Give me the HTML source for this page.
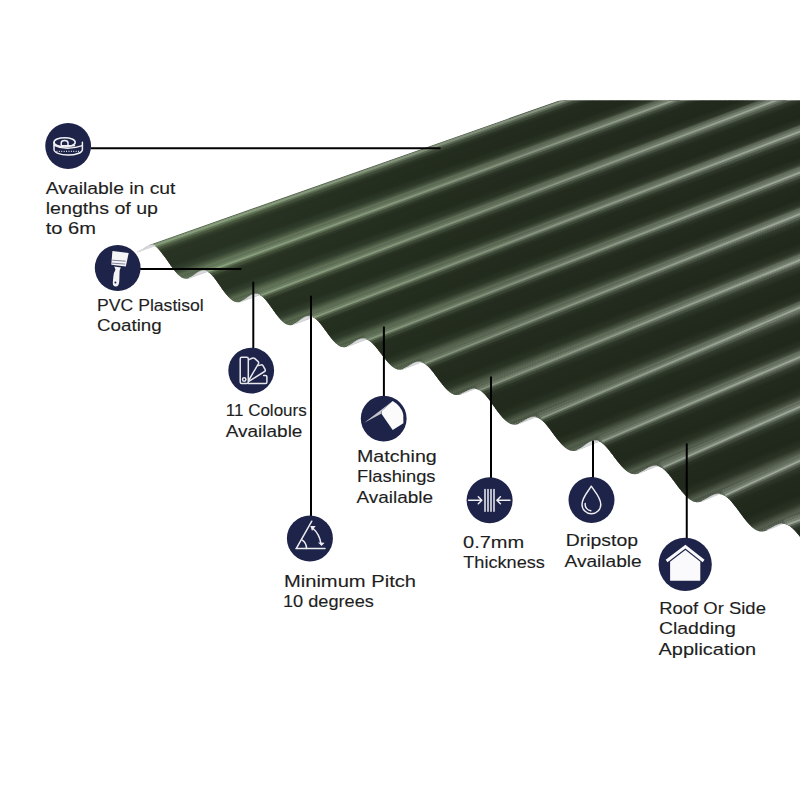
<!DOCTYPE html>
<html><head><meta charset="utf-8"><style>
html,body{margin:0;padding:0;background:#fff;}
svg{display:block;}
</style></head><body>
<svg width="800" height="800" viewBox="0 0 800 800">
<defs><clipPath id="sc"><rect x="0" y="100.5" width="800" height="700"/></clipPath></defs>
<rect width="800" height="800" fill="#fff"/>
<g clip-path="url(#sc)">
<defs><radialGradient id="g0" gradientUnits="userSpaceOnUse" cx="150" cy="250" r="720"><stop offset="0.1" stop-color="#5b6e51"/><stop offset="0.5" stop-color="#53604c"/><stop offset="0.9" stop-color="#596355"/></radialGradient><radialGradient id="g1" gradientUnits="userSpaceOnUse" cx="150" cy="250" r="720"><stop offset="0.1" stop-color="#57694d"/><stop offset="0.5" stop-color="#4e5b48"/><stop offset="0.9" stop-color="#545e50"/></radialGradient><radialGradient id="g2" gradientUnits="userSpaceOnUse" cx="150" cy="250" r="720"><stop offset="0.1" stop-color="#536549"/><stop offset="0.5" stop-color="#4a5644"/><stop offset="0.9" stop-color="#50594c"/></radialGradient><radialGradient id="g3" gradientUnits="userSpaceOnUse" cx="150" cy="250" r="720"><stop offset="0.1" stop-color="#4e6044"/><stop offset="0.5" stop-color="#455140"/><stop offset="0.9" stop-color="#4b5447"/></radialGradient><radialGradient id="g4" gradientUnits="userSpaceOnUse" cx="150" cy="250" r="720"><stop offset="0.1" stop-color="#495a40"/><stop offset="0.5" stop-color="#404c3b"/><stop offset="0.9" stop-color="#454e41"/></radialGradient><radialGradient id="g5" gradientUnits="userSpaceOnUse" cx="150" cy="250" r="720"><stop offset="0.1" stop-color="#44543b"/><stop offset="0.5" stop-color="#3b4636"/><stop offset="0.9" stop-color="#3f483b"/></radialGradient><radialGradient id="g6" gradientUnits="userSpaceOnUse" cx="150" cy="250" r="720"><stop offset="0.1" stop-color="#3f4e36"/><stop offset="0.5" stop-color="#354030"/><stop offset="0.9" stop-color="#394235"/></radialGradient><radialGradient id="g7" gradientUnits="userSpaceOnUse" cx="150" cy="250" r="720"><stop offset="0.1" stop-color="#3a4731"/><stop offset="0.5" stop-color="#303a2b"/><stop offset="0.9" stop-color="#333c2f"/></radialGradient><radialGradient id="g8" gradientUnits="userSpaceOnUse" cx="150" cy="250" r="720"><stop offset="0.1" stop-color="#37442e"/><stop offset="0.5" stop-color="#2d3728"/><stop offset="0.9" stop-color="#30392c"/></radialGradient><radialGradient id="g9" gradientUnits="userSpaceOnUse" cx="150" cy="250" r="720"><stop offset="0.1" stop-color="#34412c"/><stop offset="0.5" stop-color="#2b3526"/><stop offset="0.9" stop-color="#2d3629"/></radialGradient><radialGradient id="g10" gradientUnits="userSpaceOnUse" cx="150" cy="250" r="720"><stop offset="0.1" stop-color="#313d2a"/><stop offset="0.5" stop-color="#293324"/><stop offset="0.9" stop-color="#2a3326"/></radialGradient><radialGradient id="g11" gradientUnits="userSpaceOnUse" cx="150" cy="250" r="720"><stop offset="0.1" stop-color="#2f3a28"/><stop offset="0.5" stop-color="#273022"/><stop offset="0.9" stop-color="#283124"/></radialGradient><radialGradient id="g12" gradientUnits="userSpaceOnUse" cx="150" cy="250" r="720"><stop offset="0.1" stop-color="#2c3726"/><stop offset="0.5" stop-color="#252e20"/><stop offset="0.9" stop-color="#252e21"/></radialGradient><radialGradient id="g13" gradientUnits="userSpaceOnUse" cx="150" cy="250" r="720"><stop offset="0.1" stop-color="#293424"/><stop offset="0.5" stop-color="#232c1e"/><stop offset="0.9" stop-color="#222b1e"/></radialGradient><radialGradient id="g14" gradientUnits="userSpaceOnUse" cx="150" cy="250" r="720"><stop offset="0.1" stop-color="#283323"/><stop offset="0.5" stop-color="#222b1d"/><stop offset="0.9" stop-color="#212a1d"/></radialGradient><radialGradient id="g15" gradientUnits="userSpaceOnUse" cx="150" cy="250" r="720"><stop offset="0.1" stop-color="#283323"/><stop offset="0.5" stop-color="#222b1d"/><stop offset="0.9" stop-color="#212a1d"/></radialGradient><radialGradient id="g16" gradientUnits="userSpaceOnUse" cx="150" cy="250" r="720"><stop offset="0.1" stop-color="#283323"/><stop offset="0.5" stop-color="#222b1d"/><stop offset="0.9" stop-color="#212a1d"/></radialGradient><radialGradient id="g17" gradientUnits="userSpaceOnUse" cx="150" cy="250" r="720"><stop offset="0.1" stop-color="#283323"/><stop offset="0.5" stop-color="#222b1d"/><stop offset="0.9" stop-color="#212a1d"/></radialGradient><radialGradient id="g18" gradientUnits="userSpaceOnUse" cx="150" cy="250" r="720"><stop offset="0.1" stop-color="#283323"/><stop offset="0.5" stop-color="#222b1d"/><stop offset="0.9" stop-color="#21291d"/></radialGradient><radialGradient id="g19" gradientUnits="userSpaceOnUse" cx="150" cy="250" r="720"><stop offset="0.1" stop-color="#283323"/><stop offset="0.5" stop-color="#222b1d"/><stop offset="0.9" stop-color="#21291d"/></radialGradient><radialGradient id="g20" gradientUnits="userSpaceOnUse" cx="150" cy="250" r="720"><stop offset="0.1" stop-color="#283323"/><stop offset="0.5" stop-color="#222b1d"/><stop offset="0.9" stop-color="#21291d"/></radialGradient><radialGradient id="g21" gradientUnits="userSpaceOnUse" cx="150" cy="250" r="720"><stop offset="0.1" stop-color="#283323"/><stop offset="0.5" stop-color="#222b1d"/><stop offset="0.9" stop-color="#21291d"/></radialGradient><radialGradient id="g22" gradientUnits="userSpaceOnUse" cx="150" cy="250" r="720"><stop offset="0.1" stop-color="#273222"/><stop offset="0.5" stop-color="#212a1c"/><stop offset="0.9" stop-color="#20291c"/></radialGradient><radialGradient id="g23" gradientUnits="userSpaceOnUse" cx="150" cy="250" r="720"><stop offset="0.1" stop-color="#273222"/><stop offset="0.5" stop-color="#212a1c"/><stop offset="0.9" stop-color="#20291c"/></radialGradient><radialGradient id="g24" gradientUnits="userSpaceOnUse" cx="150" cy="250" r="720"><stop offset="0.1" stop-color="#273222"/><stop offset="0.5" stop-color="#212a1c"/><stop offset="0.9" stop-color="#20291c"/></radialGradient><radialGradient id="g25" gradientUnits="userSpaceOnUse" cx="150" cy="250" r="720"><stop offset="0.1" stop-color="#273222"/><stop offset="0.5" stop-color="#212a1c"/><stop offset="0.9" stop-color="#20291c"/></radialGradient><radialGradient id="g26" gradientUnits="userSpaceOnUse" cx="150" cy="250" r="720"><stop offset="0.1" stop-color="#273222"/><stop offset="0.5" stop-color="#212a1c"/><stop offset="0.9" stop-color="#20281c"/></radialGradient><radialGradient id="g27" gradientUnits="userSpaceOnUse" cx="150" cy="250" r="720"><stop offset="0.1" stop-color="#273222"/><stop offset="0.5" stop-color="#212a1c"/><stop offset="0.9" stop-color="#20281c"/></radialGradient><radialGradient id="g28" gradientUnits="userSpaceOnUse" cx="150" cy="250" r="720"><stop offset="0.1" stop-color="#273222"/><stop offset="0.5" stop-color="#212a1c"/><stop offset="0.9" stop-color="#20281c"/></radialGradient><radialGradient id="g29" gradientUnits="userSpaceOnUse" cx="150" cy="250" r="720"><stop offset="0.1" stop-color="#273222"/><stop offset="0.5" stop-color="#212a1c"/><stop offset="0.9" stop-color="#20281c"/></radialGradient><radialGradient id="g30" gradientUnits="userSpaceOnUse" cx="150" cy="250" r="720"><stop offset="0.1" stop-color="#273222"/><stop offset="0.5" stop-color="#212a1c"/><stop offset="0.9" stop-color="#20281c"/></radialGradient><radialGradient id="g31" gradientUnits="userSpaceOnUse" cx="150" cy="250" r="720"><stop offset="0.1" stop-color="#293524"/><stop offset="0.5" stop-color="#232c1d"/><stop offset="0.9" stop-color="#222a1e"/></radialGradient><radialGradient id="g32" gradientUnits="userSpaceOnUse" cx="150" cy="250" r="720"><stop offset="0.1" stop-color="#2b3726"/><stop offset="0.5" stop-color="#242d1f"/><stop offset="0.9" stop-color="#232b1f"/></radialGradient><radialGradient id="g33" gradientUnits="userSpaceOnUse" cx="150" cy="250" r="720"><stop offset="0.1" stop-color="#2c3928"/><stop offset="0.5" stop-color="#252f20"/><stop offset="0.9" stop-color="#252d20"/></radialGradient><radialGradient id="g34" gradientUnits="userSpaceOnUse" cx="150" cy="250" r="720"><stop offset="0.1" stop-color="#2e3b2a"/><stop offset="0.5" stop-color="#273021"/><stop offset="0.9" stop-color="#262e22"/></radialGradient><radialGradient id="g35" gradientUnits="userSpaceOnUse" cx="150" cy="250" r="720"><stop offset="0.1" stop-color="#303d2c"/><stop offset="0.5" stop-color="#283222"/><stop offset="0.9" stop-color="#283023"/></radialGradient><radialGradient id="g36" gradientUnits="userSpaceOnUse" cx="150" cy="250" r="720"><stop offset="0.1" stop-color="#323f2d"/><stop offset="0.5" stop-color="#293323"/><stop offset="0.9" stop-color="#293124"/></radialGradient><radialGradient id="g37" gradientUnits="userSpaceOnUse" cx="150" cy="250" r="720"><stop offset="0.1" stop-color="#33412f"/><stop offset="0.5" stop-color="#2a3424"/><stop offset="0.9" stop-color="#2a3225"/></radialGradient><radialGradient id="g38" gradientUnits="userSpaceOnUse" cx="150" cy="250" r="720"><stop offset="0.1" stop-color="#374633"/><stop offset="0.5" stop-color="#2e3828"/><stop offset="0.9" stop-color="#2f3729"/></radialGradient><radialGradient id="g39" gradientUnits="userSpaceOnUse" cx="150" cy="250" r="720"><stop offset="0.1" stop-color="#3d4c38"/><stop offset="0.5" stop-color="#343f2e"/><stop offset="0.9" stop-color="#353d30"/></radialGradient><radialGradient id="g40" gradientUnits="userSpaceOnUse" cx="150" cy="250" r="720"><stop offset="0.1" stop-color="#43533d"/><stop offset="0.5" stop-color="#3a4533"/><stop offset="0.9" stop-color="#3b4436"/></radialGradient><radialGradient id="g41" gradientUnits="userSpaceOnUse" cx="150" cy="250" r="720"><stop offset="0.1" stop-color="#495941"/><stop offset="0.5" stop-color="#404b39"/><stop offset="0.9" stop-color="#424b3c"/></radialGradient><radialGradient id="g42" gradientUnits="userSpaceOnUse" cx="150" cy="250" r="720"><stop offset="0.1" stop-color="#4f6046"/><stop offset="0.5" stop-color="#45513e"/><stop offset="0.9" stop-color="#485242"/></radialGradient><radialGradient id="g43" gradientUnits="userSpaceOnUse" cx="150" cy="250" r="720"><stop offset="0.1" stop-color="#55664b"/><stop offset="0.5" stop-color="#4b5844"/><stop offset="0.9" stop-color="#4f5849"/></radialGradient><radialGradient id="g44" gradientUnits="userSpaceOnUse" cx="150" cy="250" r="720"><stop offset="0.1" stop-color="#5b6d50"/><stop offset="0.5" stop-color="#515e49"/><stop offset="0.9" stop-color="#555f4f"/></radialGradient><radialGradient id="g45" gradientUnits="userSpaceOnUse" cx="150" cy="250" r="720"><stop offset="0.1" stop-color="#57684e"/><stop offset="0.5" stop-color="#4e5a46"/><stop offset="0.9" stop-color="#525b4c"/></radialGradient><radialGradient id="g46" gradientUnits="userSpaceOnUse" cx="150" cy="250" r="720"><stop offset="0.1" stop-color="#516249"/><stop offset="0.5" stop-color="#495542"/><stop offset="0.9" stop-color="#4d5548"/></radialGradient><radialGradient id="g47" gradientUnits="userSpaceOnUse" cx="150" cy="250" r="720"><stop offset="0.1" stop-color="#52634a"/><stop offset="0.5" stop-color="#4a5643"/><stop offset="0.9" stop-color="#4f574a"/></radialGradient><radialGradient id="g48" gradientUnits="userSpaceOnUse" cx="150" cy="250" r="720"><stop offset="0.1" stop-color="#5b6e51"/><stop offset="0.5" stop-color="#53604c"/><stop offset="0.9" stop-color="#596355"/></radialGradient><clipPath id="shc2"><path d="M137.4 251.9 137.8 251.8 138.3 251.7 138.7 251.5 139.2 251.4 139.6 251.2 140.1 251.0 140.5 250.7 141.0 250.5 141.4 250.2 141.9 250.0 142.3 249.7 142.7 249.4 143.2 249.1 143.6 248.8 144.1 248.5 144.5 248.2 145.0 247.9 145.4 247.6 145.9 247.3 146.4 247.0 146.8 246.7 147.3 246.4 147.7 246.2 148.2 246.0 148.7 245.8 149.2 245.6 149.6 245.4 150.1 245.2 150.6 245.1 151.1 245.0 151.6 245.0 152.0 245.0 152.5 245.0 153.0 245.1 153.5 245.3 154.0 245.5 154.5 245.7 155.0 246.0 155.5 246.3 156.0 246.7 156.5 247.1 157.0 247.6 157.5 248.1 158.0 248.6 158.5 249.2 159.0 249.7 159.5 250.3 160.0 251.0 160.6 251.6 161.1 252.2 161.6 252.9 162.1 253.6 162.6 254.2 163.2 254.9 163.7 255.6 164.2 256.3 164.7 257.0 165.3 257.7 165.8 258.4 166.4 259.2 166.9 260.0 167.4 260.7 168.0 261.5 168.5 262.3 169.1 263.1 169.6 263.9 170.2 264.7 170.7 265.4 171.3 266.2 171.9 267.0 172.4 267.7 173.0 268.5 173.5 269.2 174.1 269.9 174.6 270.7 175.2 271.3 175.7 272.0 176.3 272.6 176.8 273.2 177.4 273.8 177.9 274.4 178.5 274.9 179.0 275.4 179.5 275.9 180.1 276.3 180.6 276.7 181.1 277.1 181.6 277.4 182.1 277.7 182.6 277.9 183.1 278.2 183.7 278.4 184.1 278.5 184.6 278.6 185.1 278.7 185.6 278.8 186.1 278.8 186.6 278.8 187.0 278.8 187.5 278.7 188.0 278.6 188.4 278.4 188.9 278.3 189.4 278.1 189.8 277.9 190.3 277.7 190.7 277.4 191.2 277.2 191.7 276.9 192.1 276.6 192.6 276.3 193.0 275.9 193.5 275.6 194.0 275.3 194.4 274.9 194.9 274.6 195.3 274.2 195.8 273.9 196.3 273.6 196.8 273.2 197.2 272.9 197.7 272.6 198.2 272.3 198.7 272.0 199.1 271.8 199.6 271.6 200.1 271.3 200.6 271.1 201.1 271.0 201.6 270.8 202.1 270.7 202.6 270.7 203.1 270.6 203.6 270.6 204.1 270.6 204.6 270.7 205.1 270.7 205.6 270.9 206.1 271.0 206.6 271.2 207.2 271.5 207.7 271.7 208.2 272.0 208.7 272.4 209.2 272.7 209.8 273.2 210.3 273.6 210.8 274.1 211.3 274.6 211.9 275.1 212.4 275.7 212.9 276.3 213.5 276.9 214.0 277.6 214.5 278.3 215.1 279.0 215.6 279.7 216.2 280.4 216.7 281.2 217.3 282.0 217.8 282.7 218.4 283.5 219.0 284.3 219.5 285.1 220.1 286.0 220.6 286.8 221.2 287.6 221.8 288.4 222.3 289.2 222.9 290.0 223.5 290.7 224.1 291.5 224.6 292.3 225.2 293.0 225.8 293.7 226.3 294.4 226.9 295.1 227.5 295.8 228.0 296.4 228.6 297.0 229.1 297.6 229.7 298.1 230.2 298.6 230.8 299.1 231.3 299.6 231.9 300.0 232.4 300.4 232.9 300.7 233.5 301.0 234.0 301.3 234.5 301.6 235.0 301.8 235.5 302.0 236.0 302.1 236.5 302.2 237.0 302.3 237.5 302.3 238.0 302.3 238.5 302.3 239.0 302.3 239.5 302.2 239.9 302.1 240.4 301.9 240.9 301.7 241.4 301.6 241.8 301.3 242.3 301.1 242.8 300.8 243.2 300.6 243.7 300.3 244.2 300.0 244.7 299.6 245.1 299.3 245.6 299.0 246.1 298.6 246.6 298.3 247.0 297.9 247.5 297.6 248.0 297.2 248.5 296.9 249.0 296.6 249.5 296.2 250.0 295.9 250.4 295.6 250.9 295.4 251.4 295.1 251.9 294.9 252.4 294.7 253.0 294.5 253.5 294.3 254.0 294.2 254.5 294.1 255.0 294.0 255.5 294.0 256.0 294.0 256.6 294.0 257.1 294.0 257.6 294.1 258.1 294.3 258.6 294.4 259.2 294.7 259.7 294.9 260.2 295.2 260.8 295.5 261.3 295.9 261.8 296.3 262.4 296.7 262.9 297.1 263.5 297.6 264.0 298.2 264.5 298.7 265.1 299.3 265.6 299.9 266.2 300.6 266.7 301.3 267.3 301.9 267.9 302.7 268.4 303.4 269.0 304.1 269.6 304.9 270.1 305.7 270.7 306.5 271.3 307.3 271.8 308.1 272.4 308.9 273.0 309.7 273.6 310.5 274.2 311.3 274.7 312.2 275.3 313.0 275.9 313.7 276.5 314.5 277.1 315.3 277.7 316.0 278.2 316.8 278.8 317.5 279.4 318.2 280.0 318.8 280.6 319.5 281.1 320.1 281.7 320.7 282.3 321.2 282.8 321.7 283.4 322.2 283.9 322.7 284.5 323.1 285.0 323.5 285.6 323.8 286.1 324.1 286.7 324.4 287.2 324.6 287.7 324.8 288.2 325.0 288.8 325.1 289.3 325.2 289.8 325.2 290.3 325.2 290.8 325.2 291.3 325.2 291.8 325.1 292.3 325.0 292.8 324.8 293.3 324.6 293.8 324.4 294.2 324.2 294.7 324.0 295.2 323.7 295.7 323.4 296.2 323.1 296.7 322.8 297.2 322.4 297.6 322.1 298.1 321.7 298.6 321.4 299.1 321.0 299.6 320.6 300.1 320.3 300.6 319.9 301.1 319.5 301.6 319.2 302.1 318.8 302.6 318.5 303.1 318.2 303.6 317.9 304.1 317.6 304.6 317.4 305.1 317.1 305.6 316.9 306.2 316.7 306.7 316.6 307.2 316.4 307.7 316.3 308.2 316.3 308.8 316.2 309.3 316.2 309.8 316.3 310.4 316.3 310.9 316.4 311.4 316.6 312.0 316.8 312.5 317.0 313.1 317.2 313.6 317.5 314.2 317.8 314.7 318.2 315.3 318.6 315.8 319.0 316.4 319.5 316.9 320.0 317.5 320.5 318.0 321.1 318.6 321.7 319.2 322.3 319.7 323.0 320.3 323.6 320.9 324.3 321.4 325.0 322.0 325.8 322.6 326.5 323.2 327.3 323.8 328.1 324.3 328.9 324.9 329.7 325.5 330.5 326.1 331.3 326.7 332.1 327.3 332.9 327.9 333.7 328.5 334.6 329.1 335.4 329.7 336.1 330.3 336.9 330.9 337.7 331.5 338.4 332.1 339.1 332.7 339.9 333.2 340.5 333.8 341.2 334.4 341.8 335.0 342.4 335.6 343.0 336.2 343.5 336.8 344.0 337.3 344.5 337.9 344.9 338.5 345.3 339.0 345.7 339.6 346.0 340.1 346.3 340.7 346.6 341.2 346.8 341.8 347.0 342.3 347.1 342.8 347.2 343.4 347.3 343.9 347.3 344.4 347.3 344.9 347.2 345.4 347.1 346.0 347.0 346.5 346.9 347.0 346.7 347.5 346.5 348.0 346.3 348.5 346.1 349.0 345.8 349.5 345.5 350.0 345.2 350.5 344.9 351.0 344.6 351.5 344.2 352.0 343.9 352.4 343.5 352.9 343.2 353.5 342.8 354.0 342.5 354.5 342.1 355.0 341.8 355.5 341.4 356.0 341.1 356.5 340.8 357.0 340.5 357.5 340.2 358.1 340.0 358.6 339.7 359.1 339.5 359.6 339.3 360.2 339.1 360.7 339.0 361.2 338.9 361.8 338.8 362.3 338.7 362.8 338.7 363.4 338.7 363.9 338.7 364.5 338.8 365.0 338.9 365.6 339.1 366.1 339.2 366.7 339.4 367.2 339.7 367.8 339.9 368.3 340.2 368.9 340.6 369.5 340.9 370.0 341.3 370.6 341.8 371.2 342.2 371.7 342.7 372.3 343.3 372.9 343.8 373.4 344.4 374.0 345.0 374.6 345.6 375.2 346.3 375.8 347.0 376.4 347.7 376.9 348.4 377.5 349.1 378.1 349.9 378.7 350.7 379.3 351.4 379.9 352.2 380.5 353.0 381.1 353.8 381.7 354.6 382.3 355.4 383.0 356.2 383.6 357.0 384.2 357.7 384.8 358.5 385.4 359.3 386.0 360.0 386.6 360.7 387.2 361.5 387.8 362.2 388.4 362.8 389.0 363.5 389.6 364.1 390.2 364.7 390.8 365.3 391.4 365.8 392.0 366.3 392.6 366.8 393.2 367.2 393.8 367.6 394.4 368.0 394.9 368.3 395.5 368.6 396.1 368.9 396.6 369.1 397.2 369.3 397.7 369.5 398.3 369.6 398.8 369.7 399.3 369.7 399.9 369.8 400.4 369.7 400.9 369.7 401.5 369.6 402.0 369.5 402.5 369.4 403.0 369.2 403.5 369.0 404.0 368.8 404.5 368.6 405.1 368.3 405.6 368.1 406.1 367.8 406.6 367.5 407.1 367.2 407.6 366.9 408.1 366.5 408.6 366.2 409.1 365.9 409.7 365.5 410.2 365.2 410.7 364.9 411.2 364.6 411.8 364.3 412.3 364.0 412.8 363.7 413.3 363.4 413.9 363.1 414.4 362.9 414.9 362.7 415.5 362.5 416.0 362.3 416.6 362.2 417.1 362.1 417.7 362.0 418.2 361.9 418.8 361.9 419.3 361.9 419.9 362.0 420.5 362.1 421.0 362.2 421.6 362.3 422.1 362.5 422.7 362.7 423.3 363.0 423.8 363.3 424.4 363.6 425.0 364.0 425.6 364.4 426.1 364.8 426.7 365.3 427.3 365.8 427.9 366.3 428.5 366.9 429.1 367.5 429.6 368.1 430.2 368.7 430.8 369.4 431.4 370.1 432.0 370.8 432.6 371.6 433.2 372.3 433.8 373.1 434.4 373.9 435.0 374.7 435.7 375.5 436.3 376.4 436.9 377.2 437.5 378.0 438.1 378.9 438.7 379.7 439.4 380.5 440.0 381.4 440.6 382.2 441.2 383.0 441.9 383.8 442.5 384.6 443.1 385.3 443.7 386.1 444.4 386.8 445.0 387.5 445.6 388.2 446.2 388.9 446.8 389.5 447.4 390.1 448.0 390.7 448.6 391.2 449.2 391.7 449.8 392.2 450.4 392.6 451.0 393.0 451.6 393.4 452.2 393.7 452.8 394.0 453.3 394.3 453.9 394.5 454.5 394.7 455.0 394.8 455.6 394.9 456.1 395.0 456.7 395.0 457.2 395.0 457.8 395.0 458.3 395.0 458.8 394.9 459.4 394.8 459.9 394.6 460.4 394.5 460.9 394.3 461.5 394.1 462.0 393.9 462.5 393.6 463.0 393.4 463.6 393.1 464.1 392.9 464.6 392.6 465.1 392.3 465.7 392.0 466.2 391.7 466.7 391.4 467.3 391.2 467.8 390.9 468.3 390.6 468.9 390.4 469.4 390.1 469.9 389.9 470.5 389.7 471.0 389.5 471.6 389.4 472.1 389.2 472.7 389.1 473.2 389.0 473.8 389.0 474.4 388.9 474.9 388.9 475.5 389.0 476.1 389.0 476.6 389.1 477.2 389.3 477.8 389.5 478.3 389.7 478.9 389.9 479.5 390.2 480.1 390.5 480.7 390.9 481.2 391.3 481.8 391.7 482.4 392.2 483.0 392.7 483.6 393.2 484.2 393.8 484.8 394.4 485.4 395.1 486.0 395.8 486.6 396.5 487.2 397.2 487.8 397.9 488.4 398.7 489.0 399.5 489.6 400.3 490.2 401.2 490.8 402.0 491.5 402.9 492.1 403.7 492.7 404.6 493.3 405.5 494.0 406.4 494.6 407.3 495.2 408.2 495.8 409.0 496.5 409.9 497.1 410.8 497.8 411.6 498.4 412.5 499.0 413.3 499.7 414.1 500.3 414.9 500.9 415.7 501.6 416.4 502.2 417.1 502.9 417.8 503.5 418.5 504.1 419.1 504.7 419.7 505.4 420.3 506.0 420.8 506.6 421.3 507.2 421.8 507.8 422.2 508.4 422.6 509.0 423.0 509.6 423.3 510.2 423.6 510.8 423.9 511.4 424.1 512.0 424.3 512.6 424.5 513.1 424.6 513.7 424.6 514.3 424.7 514.8 424.7 515.4 424.7 515.9 424.6 516.5 424.5 517.0 424.4 517.6 424.3 518.1 424.1 518.7 423.9 519.2 423.7 519.7 423.5 520.3 423.2 520.8 422.9 521.3 422.7 521.9 422.3 522.4 422.0 523.0 421.7 523.5 421.4 524.0 421.1 524.6 420.7 525.1 420.4 525.7 420.1 526.2 419.7 526.8 419.4 527.3 419.1 527.9 418.8 528.4 418.6 529.0 418.3 529.5 418.1 530.1 417.8 530.7 417.6 531.2 417.5 531.8 417.3 532.4 417.2 532.9 417.1 533.5 417.1 534.1 417.1 534.7 417.1 535.3 417.1 535.9 417.2 536.4 417.3 537.0 417.5 537.6 417.7 538.2 417.9 538.8 418.2 539.4 418.5 540.0 418.9 540.6 419.3 541.2 419.7 541.8 420.2 542.4 420.7 543.0 421.2 543.6 421.8 544.2 422.4 544.8 423.1 545.4 423.7 546.1 424.4 546.7 425.2 547.3 425.9 547.9 426.7 548.5 427.5 549.2 428.3 549.8 429.1 550.4 430.0 551.1 430.8 551.7 431.7 552.3 432.5 553.0 433.4 553.6 434.3 554.3 435.2 554.9 436.0 555.6 436.9 556.2 437.7 556.9 438.6 557.5 439.4 558.2 440.2 558.8 441.0 559.5 441.8 560.1 442.5 560.8 443.3 561.4 444.0 562.1 444.7 562.7 445.3 563.4 445.9 564.0 446.5 564.6 447.1 565.3 447.6 565.9 448.1 566.5 448.5 567.2 448.9 567.8 449.3 568.4 449.7 569.0 450.0 569.6 450.2 570.2 450.5 570.8 450.6 571.4 450.8 572.0 450.9 572.6 451.0 573.2 451.0 573.7 451.0 574.3 451.0 574.9 450.9 575.5 450.8 576.0 450.7 576.6 450.5 577.1 450.3 577.7 450.1 578.2 449.8 578.8 449.5 579.3 449.2 579.9 448.9 580.4 448.6 581.0 448.2 581.5 447.8 582.1 447.5 582.6 447.1 583.2 446.7 583.8 446.3 584.3 445.8 584.9 445.4 585.4 445.0 586.0 444.6 586.5 444.2 587.1 443.8 587.7 443.4 588.2 443.1 588.8 442.7 589.4 442.4 590.0 442.1 590.5 441.8 591.1 441.6 591.7 441.3 592.3 441.1 592.9 441.0 593.5 440.8 594.1 440.7 594.7 440.7 595.2 440.6 595.8 440.7 596.4 440.7 597.0 440.8 597.6 440.9 598.3 441.1 598.9 441.3 599.5 441.6 600.1 441.9 600.7 442.2 601.3 442.6 601.9 443.0 602.5 443.5 603.2 444.0 603.8 444.5 604.4 445.1 605.0 445.7 605.6 446.3 606.3 447.0 606.9 447.7 607.5 448.4 608.2 449.2 608.8 449.9 609.5 450.7 610.1 451.6 610.7 452.4 611.4 453.2 612.0 454.1 612.7 454.9 613.4 455.8 614.0 456.7 614.7 457.6 615.3 458.4 616.0 459.3 616.7 460.2 617.3 461.0 618.0 461.9 618.7 462.7 619.3 463.5 620.0 464.3 620.7 465.1 621.3 465.8 622.0 466.6 622.6 467.3 623.3 467.9 624.0 468.6 624.6 469.2 625.3 469.8 625.9 470.3 626.6 470.9 627.2 471.4 627.8 471.8 628.5 472.2 629.1 472.6 629.7 472.9 630.3 473.2 631.0 473.5 631.6 473.7 632.2 473.9 632.8 474.0 633.4 474.1 634.0 474.2 634.6 474.2 635.2 474.2 635.7 474.2 636.3 474.1 636.9 474.0 637.5 473.8 638.0 473.7 638.6 473.5 639.2 473.3 639.7 473.0 640.3 472.8 640.9 472.5 641.4 472.2 642.0 471.9 642.6 471.6 643.1 471.2 643.7 470.9 644.2 470.5 644.8 470.2 645.4 469.8 645.9 469.5 646.5 469.1 647.1 468.8 647.7 468.4 648.2 468.1 648.8 467.8 649.4 467.5 650.0 467.2 650.6 467.0 651.2 466.8 651.8 466.5 652.3 466.4 652.9 466.2 653.5 466.1 654.1 466.0 654.7 465.9 655.4 465.9 656.0 465.9 656.6 466.0 657.2 466.1 657.8 466.2 658.4 466.3 659.0 466.5 659.6 466.8 660.3 467.1 660.9 467.4 661.5 467.7 662.1 468.1 662.8 468.6 663.4 469.1 664.0 469.6 664.7 470.1 665.3 470.7 665.9 471.3 666.6 472.0 667.2 472.7 667.8 473.4 668.5 474.1 669.1 474.9 669.8 475.7 670.4 476.5 671.1 477.3 671.7 478.2 672.4 479.0 673.1 479.9 673.7 480.8 674.4 481.7 675.1 482.6 675.7 483.5 676.4 484.4 677.1 485.4 677.8 486.3 678.4 487.2 679.1 488.0 679.8 488.9 680.5 489.8 681.2 490.6 681.8 491.5 682.5 492.3 683.2 493.1 683.9 493.8 684.5 494.6 685.2 495.3 685.9 496.0 686.6 496.6 687.2 497.3 687.9 497.9 688.5 498.4 689.2 498.9 689.9 499.4 690.5 499.9 691.1 500.3 691.8 500.6 692.4 501.0 693.0 501.3 693.7 501.5 694.3 501.7 694.9 501.9 695.5 502.0 696.1 502.1 696.7 502.2 697.3 502.2 697.9 502.2 698.5 502.2 699.1 502.1 699.7 502.0 700.3 501.9 700.9 501.7 701.4 501.5 702.0 501.3 702.6 501.1 703.2 500.8 703.8 500.5 704.3 500.2 704.9 499.9 705.5 499.6 706.1 499.2 706.6 498.9 707.2 498.6 707.8 498.2 708.4 497.9 709.0 497.5 709.5 497.2 710.1 496.8 710.7 496.5 711.3 496.2 711.9 495.9 712.5 495.6 713.1 495.3 713.7 495.1 714.3 494.8 714.9 494.6 715.5 494.4 716.1 494.3 716.8 494.2 717.4 494.1 718.0 494.1 718.6 494.0 719.2 494.1 719.9 494.1 720.5 494.2 721.1 494.3 721.7 494.5 722.4 494.7 723.0 495.0 723.6 495.3 724.3 495.6 724.9 496.0 725.6 496.4 726.2 496.8 726.8 497.3 727.5 497.8 728.1 498.4 728.8 499.0 729.4 499.6 730.1 500.3 730.8 501.0 731.4 501.7 732.1 502.4 732.7 503.2 733.4 504.0 734.1 504.8 734.7 505.7 735.4 506.6 736.1 507.4 736.8 508.3 737.4 509.3 738.1 510.2 738.8 511.1 739.5 512.0 740.2 513.0 740.9 513.9 741.6 514.8 742.3 515.8 743.0 516.7 743.6 517.6 744.3 518.5 745.0 519.4 745.7 520.2 746.4 521.1 747.1 521.9 747.8 522.7 748.5 523.5 749.2 524.2 749.9 524.9 750.5 525.6 751.2 526.3 751.9 526.9 752.5 527.5 753.2 528.0 753.9 528.5 754.5 529.0 755.2 529.4 755.8 529.8 756.5 530.2 757.1 530.5 757.7 530.7 758.4 531.0 759.0 531.2 759.6 531.3 760.2 531.4 760.9 531.5 761.5 531.5 762.1 531.5 762.7 531.5 763.3 531.5 763.9 531.4 764.5 531.2 765.1 531.1 765.6 530.9 766.2 530.7 766.8 530.5 767.4 530.2 768.0 529.9 768.6 529.6 769.2 529.3 769.8 529.0 770.4 528.7 771.0 528.4 771.5 528.0 772.1 527.7 772.7 527.4 773.3 527.0 773.9 526.7 774.5 526.4 775.2 526.0 775.8 525.7 776.4 525.5 777.0 525.2 777.6 524.9 778.2 524.7 778.8 524.5 779.5 524.3 780.1 524.2 780.7 524.1 781.3 524.0 782.0 523.9 782.6 523.9 783.2 523.9 783.9 524.0 784.5 524.0 785.2 524.2 785.8 524.3 786.5 524.6 787.1 524.8 787.7 525.1 788.4 525.4 789.1 525.8 789.7 526.2 790.4 526.7 791.0 527.2 791.7 527.7 792.3 528.2 793.0 528.8 793.7 529.5 794.3 530.2 795.0 530.8 795.7 531.6 796.4 532.3 797.0 533.1 797.7 533.9 798.4 534.8 799.1 535.6 799.8 536.5 800.5 537.3 801.1 538.2 801.8 539.1 802.5 540.1 803.2 541.0 803.9 541.9 804.6 542.8 805.3 543.7 806.0 544.6 806.7 545.5 807.5 546.4 808.2 547.3 808.9 548.2 809.6 549.0 810.3 549.9 811.0 550.7 811.7 551.5 812.4 552.2 813.1 552.9 813.8 553.7 830 560 830 100.5 561 100.5Z"/></clipPath><clipPath id="shc"><path d="M150.3 245.2 150.8 245.1 151.3 245.0 151.7 245.0 152.2 245.0 152.7 245.1 153.2 245.2 153.7 245.3 154.2 245.6 154.7 245.8 155.2 246.1 155.7 246.5 156.2 246.9 156.7 247.3 157.2 247.8 157.7 248.3 158.2 248.8 158.7 249.4 159.2 250.0 159.7 250.6 160.2 251.2 160.8 251.9 161.3 252.5 161.8 253.2 162.3 253.8 162.8 254.5 163.4 255.2 163.9 255.9 164.4 256.6 165.0 257.3 165.5 258.0 166.0 258.7 166.6 259.5 167.1 260.3 167.7 261.0 168.2 261.8 168.8 262.6 169.3 263.4 169.9 264.2 170.4 265.0 171.0 265.7 171.5 266.5 172.1 267.3 172.6 268.0 173.2 268.8 173.7 269.5 174.3 270.2 174.9 270.9 175.4 271.6 176.0 272.2 176.5 272.9 177.1 273.5 177.6 274.0 178.1 274.6 178.7 275.1 179.2 275.6 179.7 276.0 180.3 276.5 180.8 276.8 181.3 277.2 181.8 277.5 182.3 277.8 182.8 278.0 183.4 278.2 183.8 278.4 184.3 278.6 184.8 278.7 185.3 278.8 185.8 278.8 186.3 278.8 186.8 278.8 187.2 278.7 187.7 278.6 188.2 278.5 188.6 278.4 189.1 278.2 189.6 278.0 190.0 277.8 190.5 277.6 190.9 277.3 191.4 277.0 191.8 276.8 192.3 276.5 192.8 276.1 193.2 275.8 193.7 275.5 194.1 275.1 194.6 274.8 195.1 274.5 195.5 274.1 196.0 273.8 196.5 273.4 196.9 273.1 197.4 272.8 197.9 272.5 198.4 272.2 198.9 271.9 199.3 271.7 199.8 271.5 200.3 271.3 200.8 271.1 201.3 270.9 201.8 270.8 202.3 270.7 202.8 270.6 203.3 270.6 203.8 270.6 204.3 270.6 204.8 270.7 205.3 270.8 205.8 270.9 206.3 271.1 206.8 271.3 207.4 271.6 207.9 271.8 208.4 272.2 208.9 272.5 209.4 272.9 210.0 273.3 210.5 273.8 211.0 274.3 211.5 274.8 212.1 275.4 212.6 275.9 213.1 276.6 213.7 277.2 214.2 277.9 214.8 278.5 215.3 279.3 215.9 280.0 216.4 280.7 217.0 281.5 217.5 282.3 218.1 283.1 218.6 283.9 219.2 284.7 219.7 285.5 220.3 286.3 220.9 287.1 221.4 287.9 222.0 288.7 222.6 289.5 223.1 290.3 223.7 291.1 224.3 291.8 224.9 292.6 225.4 293.3 226.0 294.0 226.6 294.7 227.1 295.4 227.7 296.0 228.2 296.6 228.8 297.2 229.4 297.8 229.9 298.3 230.5 298.8 231.0 299.3 231.5 299.7 232.1 300.1 232.6 300.5 233.1 300.8 233.7 301.2 234.2 301.4 234.7 301.7 235.2 301.9 235.7 302.0 236.2 302.1 236.7 302.2 237.2 302.3 237.7 302.3 238.2 302.3 238.7 302.3 239.2 302.2 239.7 302.1 240.1 302.0 240.6 301.9 241.1 301.7 241.6 301.5 242.0 301.2 242.5 301.0 243.0 300.7 243.4 300.5 243.9 300.2 244.4 299.8 244.9 299.5 245.3 299.2 245.8 298.8 246.3 298.5 246.8 298.1 247.2 297.8 247.7 297.4 248.2 297.1 248.7 296.8 249.2 296.4 249.7 296.1 250.2 295.8 250.6 295.5 251.1 295.3 251.6 295.0 252.1 294.8 252.7 294.6 253.2 294.4 253.7 294.2 254.2 294.1 254.7 294.0 255.2 294.0 255.7 294.0 256.2 294.0 256.8 294.0 257.3 294.1 257.8 294.2 258.3 294.3 258.9 294.5 259.4 294.8 259.9 295.0 260.4 295.3 261.0 295.6 261.5 296.0 262.0 296.4 262.6 296.9 263.1 297.3 263.7 297.9 264.2 298.4 264.8 299.0 265.3 299.6 265.9 300.2 266.4 300.8 267.0 301.5 267.5 302.2 268.1 302.9 268.7 303.7 269.2 304.4 269.8 305.2 270.4 306.0 270.9 306.8 271.5 307.6 272.1 308.4 272.7 309.2 273.2 310.0 273.8 310.9 274.4 311.7 275.0 312.5 275.6 313.3 276.1 314.1 276.7 314.8 277.3 315.6 277.9 316.3 278.5 317.1 279.1 317.8 279.6 318.4 280.2 319.1 280.8 319.7 281.4 320.3 281.9 320.9 282.5 321.4 283.1 321.9 283.6 322.4 284.2 322.8 284.7 323.2 285.3 323.6 285.8 323.9 286.3 324.2 286.9 324.5 287.4 324.7 287.9 324.9 288.5 325.0 289.0 325.1 289.5 325.2 290.0 325.2 290.5 325.2 291.0 325.2 291.5 325.1 292.0 325.0 292.5 324.9 293.0 324.7 293.5 324.6 294.0 324.3 294.4 324.1 294.9 323.9 295.4 323.6 295.9 323.3 296.4 323.0 296.9 322.6 297.3 322.3 297.8 321.9 298.3 321.6 298.8 321.2 299.3 320.8 299.8 320.5 300.3 320.1 300.8 319.8 301.3 319.4 301.8 319.0 302.3 318.7 302.8 318.4 303.3 318.1 303.8 317.8 304.3 317.5 304.8 317.3 305.3 317.0 305.8 316.8 306.4 316.7 306.9 316.5 307.4 316.4 307.9 316.3 308.5 316.2 309.0 316.2 309.5 316.2 310.1 316.3 310.6 316.4 311.1 316.5 311.7 316.7 312.2 316.8 312.7 317.1 313.3 317.3 313.8 317.6 314.4 318.0 314.9 318.4 315.5 318.8 316.0 319.2 316.6 319.7 317.1 320.2 317.7 320.8 318.3 321.3 318.8 321.9 319.4 322.6 320.0 323.2 320.5 323.9 321.1 324.6 321.7 325.3 322.2 326.1 322.8 326.8 323.4 327.6 324.0 328.4 324.6 329.2 325.2 330.0 325.8 330.8 326.3 331.6 326.9 332.4 327.5 333.3 328.1 334.1 328.7 334.9 329.3 335.7 329.9 336.5 330.5 337.2 331.1 338.0 331.7 338.7 332.3 339.4 332.9 340.1 333.5 340.8 334.1 341.4 334.7 342.1 335.2 342.7 335.8 343.2 336.4 343.7 337.0 344.2 337.6 344.7 338.1 345.1 338.7 345.5 339.3 345.8 339.8 346.2 340.4 346.4 340.9 346.7 341.5 346.9 342.0 347.0 342.5 347.1 343.1 347.2 343.6 347.3 344.1 347.3 344.6 347.3 345.1 347.2 345.6 347.1 346.2 347.0 346.7 346.8 347.2 346.6 347.7 346.4 348.2 346.2 348.7 346.0 349.2 345.7 349.7 345.4 350.2 345.1 350.7 344.8 351.2 344.4 351.7 344.1 352.2 343.7 352.6 343.4 353.2 343.0 353.7 342.7 354.2 342.3 354.7 342.0 355.2 341.6 355.7 341.3 356.2 341.0 356.7 340.7 357.2 340.4 357.7 340.1 358.3 339.9 358.8 339.6 359.3 339.4 359.8 339.2 360.4 339.1 360.9 339.0 361.4 338.8 362.0 338.8 362.5 338.7 363.1 338.7 363.6 338.7 364.1 338.8 364.7 338.9 365.2 339.0 365.8 339.1 366.3 339.3 366.9 339.5 367.5 339.8 368.0 340.0 368.6 340.4 369.1 340.7 369.7 341.1 370.3 341.5 370.8 342.0 371.4 342.4 372.0 342.9 372.5 343.5 373.1 344.0 373.7 344.6 374.3 345.3 374.8 345.9 375.4 346.6 376.0 347.3 376.6 348.0 377.2 348.7 377.8 349.4 378.4 350.2 379.0 351.0 379.6 351.7 380.2 352.5 380.8 353.3 381.4 354.1 382.0 354.9 382.6 355.7 383.2 356.5 383.8 357.3 384.4 358.0 385.0 358.8 385.6 359.6 386.3 360.3 386.9 361.0 387.5 361.7 388.1 362.4 388.7 363.1 389.3 363.7 389.9 364.3 390.5 364.9 391.1 365.5 391.7 366.0 392.3 366.5 392.9 366.9 393.4 367.4 394.0 367.8 394.6 368.1 395.2 368.4 395.7 368.7 396.3 369.0 396.8 369.2 397.4 369.4 397.9 369.5 398.5 369.6 399.0 369.7 399.6 369.7 400.1 369.7 400.6 369.7 401.1 369.7 401.7 369.6 402.2 369.5 402.7 369.3 403.2 369.1 403.7 368.9 404.2 368.7 404.8 368.5 405.3 368.2 405.8 368.0 406.3 367.7 406.8 367.4 407.3 367.1 407.8 366.7 408.3 366.4 408.8 366.1 409.4 365.7 409.9 365.4 410.4 365.1 410.9 364.8 411.4 364.4 412.0 364.1 412.5 363.8 413.0 363.6 413.6 363.3 414.1 363.0 414.6 362.8 415.2 362.6 415.7 362.4 416.2 362.3 416.8 362.1 417.3 362.0 417.9 362.0 418.4 361.9 419.0 361.9 419.6 362.0 420.1 362.0 420.7 362.1 421.2 362.2 421.8 362.4 422.4 362.6 422.9 362.8 423.5 363.1 424.1 363.4 424.6 363.7 425.2 364.1 425.8 364.5 426.4 365.0 426.9 365.5 427.5 366.0 428.1 366.5 428.7 367.1 429.3 367.7 429.9 368.3 430.5 369.0 431.1 369.7 431.7 370.4 432.3 371.1 432.9 371.9 433.5 372.6 434.1 373.4 434.7 374.2 435.3 375.0 435.9 375.9 436.5 376.7 437.1 377.5 437.8 378.4 438.4 379.2 439.0 380.0 439.6 380.9 440.2 381.7 440.9 382.5 441.5 383.3 442.1 384.1 442.7 384.9 443.4 385.6 444.0 386.4 444.6 387.1 445.2 387.8 445.8 388.5 446.5 389.1 447.1 389.7 447.7 390.3 448.3 390.9 448.9 391.4 449.5 391.9 450.1 392.4 450.7 392.8 451.3 393.2 451.8 393.5 452.4 393.8 453.0 394.1 453.6 394.3 454.1 394.5 454.7 394.7 455.3 394.8 455.8 394.9 456.4 395.0 456.9 395.0 457.4 395.0 458.0 395.0 458.5 394.9 459.0 394.8 459.6 394.7 460.1 394.6 460.6 394.4 461.2 394.2 461.7 394.0 462.2 393.8 462.7 393.5 463.3 393.3 463.8 393.0 464.3 392.7 464.8 392.5 465.3 392.2 465.9 391.9 466.4 391.6 466.9 391.3 467.5 391.0 468.0 390.8 468.5 390.5 469.1 390.3 469.6 390.0 470.2 389.8 470.7 389.6 471.3 389.4 471.8 389.3 472.4 389.2 472.9 389.1 473.5 389.0 474.0 388.9 474.6 388.9 475.2 388.9 475.7 389.0 476.3 389.1 476.9 389.2 477.4 389.3 478.0 389.5 478.6 389.8 479.2 390.0 479.7 390.3 480.3 390.7 480.9 391.0 481.5 391.5 482.1 391.9 482.7 392.4 483.2 392.9 483.8 393.5 484.4 394.1 485.0 394.7 485.6 395.3 486.2 396.0 486.8 396.7 487.4 397.5 488.0 398.2 488.6 399.0 489.2 399.8 489.9 400.7 490.5 401.5 491.1 402.3 491.7 403.2 492.3 404.1 493.0 405.0 493.6 405.9 494.2 406.7 494.8 407.6 495.5 408.5 496.1 409.4 496.7 410.3 497.4 411.1 498.0 412.0 498.7 412.8 499.3 413.6 499.9 414.4 500.6 415.2 501.2 416.0 501.8 416.7 502.5 417.4 503.1 418.1 503.7 418.7 504.4 419.4 505.0 419.9 505.6 420.5 506.2 421.0 506.9 421.5 507.5 422.0 508.1 422.4 508.7 422.8 509.3 423.2 509.9 423.5 510.5 423.7 511.1 424.0 511.6 424.2 512.2 424.4 512.8 424.5 513.4 424.6 513.9 424.7 514.5 424.7 515.1 424.7 515.6 424.7 516.2 424.6 516.7 424.5 517.3 424.4 517.8 424.2 518.3 424.0 518.9 423.8 519.4 423.6 520.0 423.4 520.5 423.1 521.0 422.8 521.6 422.5 522.1 422.2 522.6 421.9 523.2 421.6 523.7 421.3 524.3 420.9 524.8 420.6 525.3 420.3 525.9 419.9 526.4 419.6 527.0 419.3 527.5 419.0 528.1 418.7 528.6 418.4 529.2 418.2 529.8 418.0 530.3 417.8 530.9 417.6 531.5 417.4 532.0 417.3 532.6 417.2 533.2 417.1 533.8 417.1 534.3 417.1 534.9 417.1 535.5 417.2 536.1 417.3 536.7 417.4 537.3 417.6 537.9 417.8 538.4 418.0 539.0 418.3 539.6 418.7 540.2 419.0 540.8 419.5 541.4 419.9 542.0 420.4 542.6 420.9 543.2 421.5 543.8 422.1 544.5 422.7 545.1 423.3 545.7 424.0 546.3 424.7 546.9 425.5 547.5 426.2 548.2 427.0 548.8 427.8 549.4 428.6 550.1 429.5 550.7 430.3 551.3 431.2 552.0 432.0 552.6 432.9 553.2 433.8 553.9 434.6 554.5 435.5 555.2 436.4 555.8 437.2 556.5 438.1 557.1 438.9 557.8 439.7 558.4 440.5 559.1 441.3 559.7 442.1 560.4 442.8 561.0 443.6 561.7 444.2 562.3 444.9 563.0 445.6 563.6 446.2 564.3 446.7 564.9 447.3 565.5 447.8 566.2 448.3 566.8 448.7 567.4 449.1 568.0 449.5 568.6 449.8 569.3 450.1 569.9 450.3 570.5 450.5 571.1 450.7 571.7 450.8 572.2 450.9 572.8 451.0 573.4 451.0 574.0 451.0 574.5 451.0 575.1 450.9 575.7 450.7 576.2 450.6 576.8 450.4 577.4 450.2 577.9 450.0 578.5 449.7 579.0 449.4 579.6 449.1 580.1 448.8 580.7 448.4 581.2 448.1 581.8 447.7 582.3 447.3 582.9 446.9 583.4 446.5 584.0 446.1 584.5 445.7 585.1 445.3 585.6 444.9 586.2 444.5 586.8 444.1 587.3 443.7 587.9 443.3 588.5 442.9 589.0 442.6 589.6 442.3 590.2 442.0 590.8 441.7 591.4 441.5 591.9 441.3 592.5 441.1 593.1 440.9 593.7 440.8 594.3 440.7 594.9 440.7 595.5 440.6 596.1 440.7 596.7 440.7 597.3 440.8 597.9 441.0 598.5 441.2 599.1 441.4 599.7 441.7 600.3 442.0 600.9 442.4 601.5 442.8 602.2 443.2 602.8 443.7 603.4 444.2 604.0 444.7 604.6 445.3 605.3 445.9 605.9 446.6 606.5 447.3 607.2 448.0 607.8 448.7 608.4 449.5 609.1 450.3 609.7 451.1 610.4 451.9 611.0 452.7 611.7 453.6 612.3 454.4 613.0 455.3 613.6 456.2 614.3 457.0 614.9 457.9 615.6 458.8 616.3 459.7 616.9 460.5 617.6 461.4 618.3 462.2 618.9 463.0 619.6 463.8 620.3 464.6 620.9 465.4 621.6 466.1 622.2 466.8 622.9 467.5 623.6 468.2 624.2 468.8 624.9 469.4 625.5 470.0 626.2 470.6 626.8 471.1 627.5 471.5 628.1 472.0 628.7 472.4 629.4 472.7 630.0 473.0 630.6 473.3 631.2 473.6 631.8 473.8 632.4 473.9 633.0 474.1 633.6 474.1 634.2 474.2 634.8 474.2 635.4 474.2 636.0 474.1 636.5 474.1 637.1 473.9 637.7 473.8 638.3 473.6 638.8 473.4 639.4 473.2 640.0 472.9 640.5 472.7 641.1 472.4 641.7 472.1 642.2 471.7 642.8 471.4 643.3 471.1 643.9 470.7 644.5 470.4 645.0 470.0 645.6 469.7 646.2 469.3 646.7 469.0 647.3 468.6 647.9 468.3 648.5 468.0 649.1 467.7 649.6 467.4 650.2 467.1 650.8 466.9 651.4 466.7 652.0 466.5 652.6 466.3 653.2 466.2 653.8 466.1 654.4 466.0 655.0 465.9 655.6 465.9 656.2 465.9 656.8 466.0 657.4 466.1 658.0 466.2 658.7 466.4 659.3 466.6 659.9 466.9 660.5 467.2 661.1 467.5 661.8 467.9 662.4 468.3 663.0 468.8 663.6 469.3 664.3 469.8 664.9 470.4 665.5 471.0 666.2 471.6 666.8 472.2 667.5 472.9 668.1 473.7 668.7 474.4 669.4 475.2 670.0 476.0 670.7 476.8 671.4 477.7 672.0 478.5 672.7 479.4 673.3 480.3 674.0 481.2 674.7 482.1 675.3 483.0 676.0 483.9 676.7 484.8 677.4 485.7 678.0 486.6 678.7 487.5 679.4 488.4 680.1 489.3 680.8 490.1 681.4 491.0 682.1 491.8 682.8 492.6 683.5 493.4 684.1 494.1 684.8 494.9 685.5 495.6 686.2 496.3 686.8 496.9 687.5 497.5 688.2 498.1 688.8 498.6 689.5 499.1 690.1 499.6 690.8 500.0 691.4 500.4 692.0 500.8 692.7 501.1 693.3 501.4 693.9 501.6 694.5 501.8 695.2 502.0 695.8 502.1 696.4 502.2 697.0 502.2 697.6 502.2 698.2 502.2 698.8 502.2 699.3 502.1 699.9 502.0 700.5 501.8 701.1 501.6 701.7 501.4 702.3 501.2 702.8 501.0 703.4 500.7 704.0 500.4 704.6 500.1 705.1 499.8 705.7 499.4 706.3 499.1 706.9 498.8 707.4 498.4 708.0 498.1 708.6 497.7 709.2 497.4 709.8 497.0 710.4 496.7 711.0 496.4 711.6 496.0 712.1 495.7 712.7 495.5 713.3 495.2 714.0 495.0 714.6 494.7 715.2 494.5 715.8 494.4 716.4 494.3 717.0 494.1 717.6 494.1 718.2 494.0 718.9 494.0 719.5 494.1 720.1 494.1 720.7 494.2 721.4 494.4 722.0 494.6 722.6 494.8 723.3 495.1 723.9 495.4 724.5 495.7 725.2 496.1 725.8 496.5 726.5 497.0 727.1 497.5 727.8 498.0 728.4 498.6 729.1 499.2 729.7 499.9 730.4 500.5 731.0 501.2 731.7 502.0 732.3 502.7 733.0 503.5 733.7 504.3 734.3 505.2 735.0 506.0 735.7 506.9 736.4 507.8 737.0 508.7 737.7 509.6 738.4 510.5 739.1 511.5 739.8 512.4 740.5 513.3 741.2 514.3 741.8 515.2 742.5 516.1 743.2 517.0 743.9 517.9 744.6 518.8 745.3 519.7 746.0 520.6 746.7 521.4 747.4 522.2 748.1 523.0 748.8 523.8 749.4 524.5 750.1 525.2 750.8 525.9 751.5 526.5 752.1 527.1 752.8 527.7 753.5 528.2 754.1 528.7 754.8 529.2 755.4 529.6 756.1 529.9 756.7 530.3 757.4 530.6 758.0 530.8 758.6 531.1 759.3 531.2 759.9 531.4 760.5 531.5 761.1 531.5 761.7 531.6 762.3 531.5 762.9 531.5 763.5 531.4 764.1 531.3 764.7 531.2 765.3 531.0 765.9 530.8 766.5 530.6 767.1 530.4 767.7 530.1 768.2 529.8 768.8 529.5 769.4 529.2 770.0 528.9 770.6 528.6 771.2 528.2 771.8 527.9 772.4 527.6 773.0 527.2 773.6 526.9 774.2 526.6 774.8 526.2 775.4 525.9 776.0 525.6 776.6 525.3 777.2 525.1 777.8 524.8 778.5 524.6 779.1 524.4 779.7 524.3 780.3 524.1 781.0 524.0 781.6 523.9 782.2 523.9 782.9 523.9 783.5 523.9 784.1 524.0 784.8 524.1 785.4 524.2 786.1 524.4 786.7 524.6 787.4 524.9 788.0 525.2 788.7 525.6 789.3 526.0 790.0 526.4 790.6 526.9 791.3 527.4 791.9 527.9 792.6 528.5 793.3 529.1 793.9 529.7 794.6 530.4 795.3 531.1 795.9 531.9 796.6 532.6 797.3 533.4 798.0 534.3 798.7 535.1 799.3 535.9 800.0 536.8 800.7 537.7 801.4 538.6 802.1 539.5 802.8 540.4 803.5 541.3 804.2 542.3 804.9 543.2 805.6 544.1 806.3 545.0 807.0 545.9 807.7 546.8 808.4 547.7 809.2 548.5 809.9 549.4 810.6 550.2 811.3 551.0 812.0 551.8 812.7 552.5 813.4 553.2 814.1 553.9 830.0 560.0 830.0 100.5 561.0 100.5Z"/></clipPath><radialGradient id="hg" gradientUnits="userSpaceOnUse" cx="150" cy="250" r="720"><stop offset="0.1" stop-color="#8ba27f"/><stop offset="0.5" stop-color="#85937d"/><stop offset="0.9" stop-color="#a0ab9c"/></radialGradient></defs>
<path fill="url(#g0)" d="M137.4 251.9 137.5 251.9 137.7 251.8 138.0 251.8 138.3 251.7 138.6 251.6 138.8 251.5 139.1 251.4 139.4 251.3 139.6 251.2 139.9 251.1 140.2 250.9 140.4 250.8 140.7 250.6 141.0 250.5 141.2 250.3 141.5 250.2 141.8 250.0 142.0 249.8 142.3 249.7 142.6 249.5 142.8 249.3 143.1 249.1 143.4 249.0 143.6 248.8 143.9 248.6 144.2 248.4 144.5 248.2 144.7 248.0 145.0 247.9 145.3 247.7 145.5 247.5 145.8 247.3 146.1 247.1 146.4 247.0 146.6 246.8 146.9 246.7 147.2 246.5 147.5 246.3 147.7 246.2 148.0 246.1 148.3 245.9 148.6 245.8 148.9 245.7 149.2 245.6 149.4 245.5 149.7 245.4 150.0 245.3 150.3 245.2 150.6 245.1 150.9 245.1 151.2 245.0 151.5 245.0 151.7 245.0 152.0 245.0 152.3 245.0 152.6 245.0 152.7 245.1 1190.2 -120.5 1174.8 -113.8Z"/>
<path fill="url(#g1)" d="M152.1 245.0 152.2 245.0 152.5 245.0 152.8 245.1 153.1 245.1 153.4 245.2 153.7 245.3 154.0 245.5 154.3 245.6 1191.7 -120.1 1189.6 -120.5Z"/>
<path fill="url(#g2)" d="M153.7 245.3 153.8 245.4 154.1 245.5 154.4 245.7 154.7 245.8 155.0 246.0 155.3 246.2 155.4 246.3 1192.8 -119.5 1191.2 -120.3Z"/>
<path fill="url(#g3)" d="M154.8 245.9 154.9 245.9 155.2 246.1 155.5 246.3 155.8 246.6 156.1 246.8 156.3 247.0 1193.6 -119.0 1192.2 -119.9Z"/>
<path fill="url(#g4)" d="M155.7 246.5 155.8 246.6 156.1 246.8 156.4 247.1 156.7 247.3 157.0 247.6 157.1 247.7 1194.4 -118.5 1193.1 -119.4Z"/>
<path fill="url(#g5)" d="M156.5 247.1 156.6 247.2 156.9 247.5 157.2 247.8 157.5 248.1 157.8 248.4 1195.0 -118.0 1193.8 -118.9Z"/>
<path fill="url(#g6)" d="M157.2 247.8 157.3 247.9 157.6 248.2 157.9 248.5 158.2 248.8 158.5 249.2 1195.6 -117.4 1194.4 -118.4Z"/>
<path fill="url(#g7)" d="M157.9 248.5 158.0 248.6 158.3 248.9 158.6 249.3 158.9 249.6 159.1 249.9 1196.2 -116.9 1195.1 -117.9Z"/>
<path fill="url(#g8)" d="M158.5 249.2 158.6 249.3 158.9 249.6 159.2 250.0 159.5 250.3 159.7 250.6 1196.7 -116.4 1195.6 -117.4Z"/>
<path fill="url(#g9)" d="M159.1 249.9 159.2 250.0 159.5 250.3 159.8 250.7 160.1 251.1 160.3 251.3 1197.3 -115.8 1196.2 -116.9Z"/>
<path fill="url(#g10)" d="M159.7 250.6 159.8 250.7 160.1 251.1 160.4 251.5 160.8 251.9 161.0 252.1 1197.8 -115.2 1196.7 -116.4Z"/>
<path fill="url(#g11)" d="M160.3 251.3 160.4 251.5 160.8 251.9 161.1 252.2 161.4 252.6 161.5 252.8 1198.3 -114.7 1197.3 -115.8Z"/>
<path fill="url(#g12)" d="M160.9 252.0 161.0 252.1 161.3 252.5 161.6 252.9 161.9 253.3 162.1 253.6 1198.8 -114.1 1197.7 -115.3Z"/>
<path fill="url(#g13)" d="M161.5 252.8 161.6 252.9 161.9 253.3 162.2 253.7 162.5 254.1 162.6 254.2 1199.3 -113.6 1198.3 -114.7Z"/>
<path fill="url(#g14)" d="M162.0 253.4 162.1 253.6 162.4 254.0 162.7 254.4 163.1 254.8 163.3 255.1 1199.9 -113.0 1198.7 -114.2Z"/>
<path fill="url(#g15)" d="M162.6 254.2 162.7 254.4 163.1 254.8 163.4 255.2 163.7 255.6 163.8 255.7 1200.3 -112.5 1199.3 -113.6Z"/>
<path fill="url(#g16)" d="M163.2 254.9 163.3 255.1 163.6 255.5 163.9 255.9 164.2 256.3 164.3 256.4 1200.8 -111.9 1199.8 -113.1Z"/>
<path fill="url(#g17)" d="M163.7 255.6 163.8 255.7 164.1 256.1 164.4 256.6 164.7 257.0 164.9 257.1 1201.3 -111.4 1200.2 -112.6Z"/>
<path fill="url(#g18)" d="M164.2 256.3 164.3 256.4 164.6 256.8 165.0 257.3 165.3 257.7 165.5 258.0 1201.9 -110.7 1200.7 -112.0Z"/>
<path fill="url(#g19)" d="M164.9 257.1 165.0 257.3 165.3 257.7 165.6 258.1 165.9 258.6 166.0 258.7 1202.3 -110.2 1201.3 -111.4Z"/>
<path fill="url(#g20)" d="M165.4 257.9 165.5 258.0 165.8 258.4 166.1 258.9 166.5 259.3 166.6 259.5 1202.8 -109.6 1201.8 -110.8Z"/>
<path fill="url(#g21)" d="M165.9 258.6 166.0 258.7 166.4 259.2 166.7 259.6 167.0 260.1 1203.2 -109.1 1202.2 -110.3Z"/>
<path fill="url(#g22)" d="M166.4 259.2 166.5 259.3 166.8 259.8 167.1 260.3 167.4 260.7 167.6 260.9 1203.7 -108.5 1202.6 -109.8Z"/>
<path fill="url(#g23)" d="M166.9 260.0 167.0 260.1 167.3 260.6 167.7 261.0 168.0 261.5 168.1 261.7 1204.2 -107.9 1203.1 -109.2Z"/>
<path fill="url(#g24)" d="M167.4 260.7 167.6 260.9 167.9 261.3 168.2 261.8 168.5 262.3 168.6 262.4 1204.6 -107.3 1203.6 -108.6Z"/>
<path fill="url(#g25)" d="M168.0 261.5 168.1 261.7 168.4 262.1 168.8 262.6 169.1 263.1 1205.0 -106.8 1204.1 -108.0Z"/>
<path fill="url(#g26)" d="M168.4 262.1 168.5 262.3 168.9 262.8 169.2 263.2 169.5 263.7 169.6 263.9 1205.5 -106.2 1204.4 -107.5Z"/>
<path fill="url(#g27)" d="M169.0 262.9 169.1 263.1 169.4 263.5 169.7 264.0 170.1 264.5 170.2 264.7 1206.0 -105.6 1204.9 -106.9Z"/>
<path fill="url(#g28)" d="M169.5 263.7 169.6 263.9 170.0 264.3 170.3 264.8 170.6 265.3 1206.4 -105.1 1205.4 -106.3Z"/>
<path fill="url(#g29)" d="M170.0 264.3 170.1 264.5 170.4 265.0 170.7 265.4 171.1 265.9 171.2 266.1 1206.9 -104.5 1205.8 -105.8Z"/>
<path fill="url(#g30)" d="M170.5 265.1 170.6 265.3 171.0 265.7 171.3 266.2 171.6 266.7 171.7 266.8 1207.4 -103.9 1206.3 -105.2Z"/>
<path fill="url(#g31)" d="M171.1 265.9 171.2 266.1 171.5 266.5 171.9 267.0 172.2 267.4 1207.8 -103.4 1206.8 -104.6Z"/>
<path fill="url(#g32)" d="M171.5 266.5 171.6 266.7 172.0 267.1 172.3 267.6 172.6 268.0 172.7 268.2 1208.3 -102.8 1207.2 -104.1Z"/>
<path fill="url(#g33)" d="M172.1 267.3 172.2 267.4 172.5 267.9 172.9 268.3 173.2 268.8 173.3 268.9 1208.8 -102.3 1207.7 -103.5Z"/>
<path fill="url(#g34)" d="M172.6 268.0 172.7 268.2 173.1 268.6 173.4 269.1 173.7 269.5 173.9 269.7 1209.3 -101.7 1208.2 -103.0Z"/>
<path fill="url(#g35)" d="M173.2 268.8 173.3 268.9 173.6 269.4 174.0 269.8 174.3 270.2 174.4 270.4 1209.8 -101.2 1208.7 -102.4Z"/>
<path fill="url(#g36)" d="M173.7 269.5 173.9 269.7 174.2 270.1 174.5 270.5 174.9 270.9 175.0 271.1 1210.3 -100.7 1209.2 -101.8Z"/>
<path fill="url(#g37)" d="M174.3 270.2 174.4 270.4 174.7 270.8 175.1 271.2 175.4 271.6 175.5 271.7 1210.7 -100.2 1209.7 -101.3Z"/>
<path fill="url(#g38)" d="M174.9 270.9 175.0 271.1 175.3 271.5 175.6 271.9 176.0 272.2 176.1 272.4 1211.2 -99.7 1210.2 -100.8Z"/>
<path fill="url(#g39)" d="M175.4 271.6 175.5 271.7 175.8 272.1 176.2 272.5 176.5 272.9 176.7 273.1 1211.8 -99.1 1210.6 -100.3Z"/>
<path fill="url(#g40)" d="M176.1 272.4 176.2 272.5 176.5 272.9 176.8 273.2 177.2 273.6 177.3 273.7 1212.3 -98.7 1211.2 -99.7Z"/>
<path fill="url(#g41)" d="M176.6 273.0 176.7 273.1 177.1 273.5 177.4 273.8 177.7 274.2 177.9 274.4 1212.9 -98.2 1211.7 -99.2Z"/>
<path fill="url(#g42)" d="M177.3 273.7 177.4 273.8 177.7 274.2 178.0 274.5 178.4 274.8 178.6 275.0 1213.5 -97.7 1212.3 -98.7Z"/>
<path fill="url(#g43)" d="M177.9 274.4 178.0 274.5 178.4 274.8 178.7 275.1 179.0 275.4 179.3 275.7 1214.2 -97.3 1212.9 -98.2Z"/>
<path fill="url(#g44)" d="M178.7 275.1 178.8 275.2 179.1 275.5 179.4 275.8 179.7 276.0 180.0 276.2 1214.8 -96.9 1213.6 -97.7Z"/>
<path fill="url(#g45)" d="M179.3 275.7 179.4 275.8 179.7 276.0 180.1 276.3 180.4 276.5 180.7 276.8 180.8 276.8 1215.5 -96.5 1214.2 -97.3Z"/>
<path fill="url(#g46)" d="M180.2 276.4 180.3 276.5 180.6 276.7 180.9 276.9 181.2 277.1 181.5 277.3 181.6 277.4 1216.3 -96.1 1214.9 -96.8Z"/>
<path fill="url(#g47)" d="M181.0 277.0 181.1 277.1 181.4 277.3 181.7 277.4 182.0 277.6 182.3 277.8 182.4 277.8 1217.0 -95.8 1215.7 -96.4Z"/>
<path fill="url(#g48)" d="M181.8 277.5 181.9 277.6 182.2 277.7 182.5 277.9 182.8 278.0 183.1 278.2 183.5 278.3 183.7 278.4 184.0 278.5 184.3 278.6 184.6 278.6 184.9 278.7 185.2 278.7 185.5 278.8 185.8 278.8 186.1 278.8 186.4 278.8 186.7 278.8 186.9 278.8 187.2 278.7 187.5 278.7 187.8 278.6 188.1 278.6 188.4 278.5 188.6 278.4 188.9 278.3 189.2 278.2 189.5 278.1 1223.6 -96.8 1216.5 -96.0Z"/>
<path fill="url(#g0)" d="M188.9 278.3 189.0 278.3 189.3 278.1 189.6 278.0 189.8 277.9 190.1 277.8 190.4 277.6 190.7 277.5 190.9 277.3 191.2 277.2 191.5 277.0 191.8 276.8 192.0 276.6 192.3 276.5 192.6 276.3 192.8 276.1 193.1 275.9 193.4 275.7 193.7 275.5 194.0 275.3 194.2 275.1 194.5 274.9 194.8 274.7 195.1 274.5 195.3 274.2 195.6 274.0 195.9 273.8 196.2 273.6 196.5 273.4 196.8 273.2 197.0 273.1 197.3 272.9 197.6 272.7 197.9 272.5 198.2 272.3 198.5 272.2 198.8 272.0 199.0 271.8 199.3 271.7 199.6 271.6 199.9 271.4 200.2 271.3 200.5 271.2 200.8 271.1 201.1 271.0 201.4 270.9 201.7 270.8 202.0 270.7 202.3 270.7 202.6 270.7 202.9 270.6 203.2 270.6 203.5 270.6 203.8 270.6 204.0 270.6 1237.9 -104.8 1223.1 -96.5Z"/>
<path fill="url(#g1)" d="M203.4 270.6 203.5 270.6 203.8 270.6 204.1 270.6 204.4 270.6 204.7 270.7 205.0 270.7 205.3 270.8 205.6 270.9 205.9 271.0 1239.8 -104.6 1237.3 -104.8Z"/>
<path fill="url(#g2)" d="M205.3 270.8 205.4 270.8 205.7 270.9 206.0 271.0 206.3 271.1 206.6 271.2 207.0 271.4 207.3 271.5 1241.1 -104.2 1239.2 -104.7Z"/>
<path fill="url(#g3)" d="M206.6 271.2 206.7 271.3 207.1 271.4 207.4 271.6 207.7 271.7 208.0 271.9 208.3 272.1 1242.1 -103.7 1240.5 -104.4Z"/>
<path fill="url(#g4)" d="M207.7 271.7 207.8 271.8 208.1 272.0 208.4 272.2 208.7 272.4 209.0 272.6 209.2 272.7 1243.0 -103.2 1241.5 -104.0Z"/>
<path fill="url(#g5)" d="M208.6 272.3 208.7 272.4 209.0 272.6 209.3 272.8 209.6 273.1 210.0 273.3 210.1 273.4 1243.8 -102.6 1242.4 -103.6Z"/>
<path fill="url(#g6)" d="M209.4 272.9 209.5 273.0 209.9 273.2 210.2 273.5 210.5 273.8 210.8 274.1 1244.5 -102.1 1243.2 -103.1Z"/>
<path fill="url(#g7)" d="M210.2 273.5 210.3 273.6 210.6 273.9 210.9 274.2 211.2 274.5 211.5 274.8 1245.2 -101.5 1243.9 -102.6Z"/>
<path fill="url(#g8)" d="M210.9 274.2 211.0 274.3 211.3 274.6 211.6 274.9 212.0 275.2 212.2 275.5 1245.8 -100.9 1244.6 -102.0Z"/>
<path fill="url(#g9)" d="M211.5 274.8 211.6 274.9 212.0 275.2 212.3 275.6 212.6 275.9 212.8 276.2 1246.4 -100.3 1245.2 -101.5Z"/>
<path fill="url(#g10)" d="M212.2 275.5 212.3 275.6 212.6 275.9 212.9 276.3 213.2 276.7 213.4 276.8 1246.9 -99.8 1245.8 -100.9Z"/>
<path fill="url(#g11)" d="M212.7 276.1 212.8 276.2 213.1 276.6 213.5 276.9 213.8 277.3 214.0 277.6 1247.5 -99.2 1246.3 -100.4Z"/>
<path fill="url(#g12)" d="M213.4 276.8 213.5 276.9 213.8 277.3 214.1 277.7 214.4 278.1 214.5 278.3 1248.0 -98.6 1246.9 -99.8Z"/>
<path fill="url(#g13)" d="M213.9 277.5 214.0 277.6 214.3 278.0 214.7 278.4 215.0 278.8 215.1 279.0 1248.5 -98.0 1247.4 -99.3Z"/>
<path fill="url(#g14)" d="M214.4 278.1 214.5 278.3 214.9 278.7 215.2 279.1 215.5 279.5 215.6 279.7 1249.0 -97.4 1247.9 -98.7Z"/>
<path fill="url(#g15)" d="M215.0 278.8 215.1 279.0 215.4 279.4 215.7 279.8 216.1 280.3 216.2 280.4 1249.5 -96.8 1248.4 -98.1Z"/>
<path fill="url(#g16)" d="M215.5 279.5 215.6 279.7 216.0 280.1 216.3 280.6 216.6 281.0 216.7 281.2 1250.0 -96.1 1248.9 -97.5Z"/>
<path fill="url(#g17)" d="M216.1 280.3 216.2 280.4 216.5 280.9 216.8 281.3 217.2 281.8 1250.4 -95.6 1249.4 -96.9Z"/>
<path fill="url(#g18)" d="M216.5 280.9 216.6 281.0 217.0 281.5 217.3 282.0 217.6 282.4 217.7 282.6 1250.9 -95.0 1249.8 -96.4Z"/>
<path fill="url(#g19)" d="M217.1 281.7 217.2 281.8 217.5 282.3 217.8 282.7 218.2 283.2 1251.3 -94.4 1250.3 -95.7Z"/>
<path fill="url(#g20)" d="M217.5 282.3 217.6 282.4 218.0 282.9 218.3 283.4 218.6 283.9 218.7 284.0 1251.8 -93.7 1250.7 -95.2Z"/>
<path fill="url(#g21)" d="M218.1 283.1 218.2 283.2 218.5 283.7 218.8 284.2 219.2 284.7 1252.2 -93.2 1251.2 -94.6Z"/>
<path fill="url(#g22)" d="M218.5 283.7 218.6 283.9 219.0 284.3 219.3 284.8 219.6 285.3 219.7 285.5 1252.8 -92.5 1251.6 -94.0Z"/>
<path fill="url(#g23)" d="M219.1 284.5 219.2 284.7 219.5 285.1 219.9 285.6 220.2 286.1 1253.2 -92.0 1252.1 -93.3Z"/>
<path fill="url(#g24)" d="M219.5 285.1 219.6 285.3 220.0 285.8 220.3 286.3 220.6 286.8 220.8 286.9 1253.7 -91.3 1252.6 -92.8Z"/>
<path fill="url(#g25)" d="M220.1 286.0 220.2 286.1 220.5 286.6 220.9 287.1 221.2 287.6 1254.1 -90.7 1253.1 -92.1Z"/>
<path fill="url(#g26)" d="M220.5 286.6 220.6 286.8 221.0 287.2 221.3 287.7 221.7 288.2 1254.5 -90.2 1253.5 -91.6Z"/>
<path fill="url(#g27)" d="M221.0 287.2 221.1 287.4 221.4 287.9 221.8 288.4 222.1 288.9 222.2 289.0 1255.1 -89.5 1253.9 -91.0Z"/>
<path fill="url(#g28)" d="M221.6 288.1 221.7 288.2 222.0 288.7 222.3 289.2 222.7 289.7 1255.5 -89.0 1254.4 -90.3Z"/>
<path fill="url(#g29)" d="M222.0 288.7 222.1 288.9 222.5 289.3 222.8 289.8 223.1 290.3 1255.9 -88.4 1254.8 -89.8Z"/>
<path fill="url(#g30)" d="M222.5 289.3 222.6 289.5 222.9 290.0 223.3 290.4 223.6 290.9 223.7 291.1 1256.4 -87.8 1255.3 -89.2Z"/>
<path fill="url(#g31)" d="M223.0 290.1 223.1 290.3 223.5 290.7 223.8 291.2 224.2 291.7 1256.8 -87.3 1255.8 -88.6Z"/>
<path fill="url(#g32)" d="M223.5 290.7 223.6 290.9 223.9 291.4 224.3 291.8 224.6 292.3 224.7 292.4 1257.4 -86.6 1256.2 -88.1Z"/>
<path fill="url(#g33)" d="M224.1 291.5 224.2 291.7 224.5 292.1 224.9 292.6 225.2 293.0 1257.8 -86.1 1256.7 -87.4Z"/>
<path fill="url(#g34)" d="M224.5 292.1 224.6 292.3 225.0 292.7 225.3 293.2 225.6 293.6 225.8 293.7 1258.3 -85.5 1257.2 -86.9Z"/>
<path fill="url(#g35)" d="M225.1 292.9 225.2 293.0 225.5 293.4 225.9 293.9 226.2 294.3 226.3 294.4 1258.8 -85.0 1257.7 -86.3Z"/>
<path fill="url(#g36)" d="M225.6 293.6 225.8 293.7 226.1 294.2 226.4 294.6 226.8 295.0 226.9 295.1 1259.4 -84.4 1258.2 -85.7Z"/>
<path fill="url(#g37)" d="M226.2 294.3 226.3 294.4 226.7 294.8 227.0 295.2 227.3 295.6 227.5 295.8 1259.9 -83.8 1258.7 -85.1Z"/>
<path fill="url(#g38)" d="M226.8 295.0 226.9 295.1 227.2 295.5 227.6 295.9 227.9 296.3 228.0 296.4 1260.4 -83.3 1259.3 -84.5Z"/>
<path fill="url(#g39)" d="M227.3 295.6 227.5 295.8 227.8 296.1 228.1 296.5 228.5 296.9 228.6 297.0 1260.9 -82.8 1259.8 -83.9Z"/>
<path fill="url(#g40)" d="M227.9 296.3 228.0 296.4 228.4 296.8 228.7 297.1 229.0 297.5 229.1 297.6 1261.5 -82.3 1260.3 -83.4Z"/>
<path fill="url(#g41)" d="M228.5 296.9 228.6 297.0 228.9 297.3 229.2 297.7 229.6 298.0 229.8 298.2 1262.1 -81.8 1260.8 -82.9Z"/>
<path fill="url(#g42)" d="M229.1 297.6 229.2 297.7 229.6 298.0 229.9 298.3 230.2 298.6 230.5 298.8 1262.7 -81.3 1261.5 -82.3Z"/>
<path fill="url(#g43)" d="M229.8 298.2 229.9 298.3 230.2 298.6 230.6 298.9 230.9 299.2 231.1 299.4 1263.3 -80.8 1262.1 -81.8Z"/>
<path fill="url(#g44)" d="M230.5 298.8 230.6 298.9 230.9 299.2 231.2 299.5 231.5 299.7 231.9 300.0 1264.0 -80.3 1262.7 -81.3Z"/>
<path fill="url(#g45)" d="M231.2 299.5 231.3 299.6 231.7 299.8 232.0 300.1 232.3 300.3 232.6 300.5 1264.7 -79.9 1263.4 -80.7Z"/>
<path fill="url(#g46)" d="M232.0 300.1 232.1 300.1 232.4 300.4 232.7 300.6 233.0 300.8 233.4 301.0 233.5 301.0 1265.6 -79.5 1264.1 -80.3Z"/>
<path fill="url(#g47)" d="M232.8 300.7 232.9 300.7 233.3 300.9 233.6 301.1 233.9 301.3 234.2 301.4 234.3 301.5 1266.4 -79.1 1264.9 -79.8Z"/>
<path fill="url(#g48)" d="M233.7 301.2 233.8 301.2 234.1 301.4 234.4 301.5 234.7 301.7 235.0 301.8 235.3 301.9 235.6 302.0 235.9 302.1 236.2 302.1 236.5 302.2 236.8 302.3 237.1 302.3 237.4 302.3 237.7 302.3 238.0 302.3 238.3 302.3 238.6 302.3 238.9 302.3 239.2 302.2 239.5 302.2 239.8 302.1 240.0 302.0 240.3 301.9 240.6 301.9 240.9 301.7 241.2 301.6 241.4 301.6 1273.3 -79.4 1265.8 -79.4Z"/>
<path fill="url(#g0)" d="M240.8 301.8 240.9 301.7 241.2 301.6 241.5 301.5 241.7 301.4 242.0 301.2 242.3 301.1 242.6 300.9 242.9 300.8 243.2 300.6 243.4 300.5 243.7 300.3 244.0 300.1 244.3 299.9 244.6 299.7 244.9 299.5 245.1 299.3 245.4 299.1 245.7 298.9 246.0 298.7 246.3 298.5 246.6 298.3 246.8 298.1 247.1 297.9 247.4 297.7 247.7 297.4 248.0 297.2 248.3 297.0 248.6 296.8 248.9 296.6 249.2 296.4 249.5 296.2 249.8 296.1 250.1 295.9 250.4 295.7 250.6 295.5 250.9 295.4 251.2 295.2 251.5 295.1 251.8 294.9 252.1 294.8 252.4 294.7 252.8 294.5 253.1 294.4 253.4 294.3 253.7 294.2 254.0 294.2 254.3 294.1 254.6 294.1 254.9 294.0 255.2 294.0 255.5 294.0 255.8 293.9 256.1 294.0 256.2 294.0 1288.3 -86.7 1272.7 -79.2Z"/>
<path fill="url(#g1)" d="M255.6 294.0 255.7 294.0 256.0 294.0 256.3 294.0 256.7 294.0 257.0 294.0 257.3 294.1 257.6 294.1 257.9 294.2 258.1 294.3 1290.1 -86.5 1287.7 -86.7Z"/>
<path fill="url(#g2)" d="M257.5 294.1 257.6 294.1 257.9 294.2 258.2 294.3 258.5 294.4 258.9 294.5 259.2 294.7 259.5 294.8 1291.4 -86.1 1289.5 -86.6Z"/>
<path fill="url(#g3)" d="M258.9 294.5 259.0 294.6 259.3 294.7 259.6 294.9 259.9 295.0 260.2 295.2 260.6 295.4 1292.4 -85.7 1290.8 -86.3Z"/>
<path fill="url(#g4)" d="M259.9 295.0 260.0 295.1 260.3 295.3 260.7 295.4 261.0 295.6 261.3 295.9 261.5 296.0 1293.4 -85.2 1291.8 -86.0Z"/>
<path fill="url(#g5)" d="M260.9 295.6 261.0 295.6 261.3 295.9 261.6 296.1 261.9 296.3 262.3 296.6 1294.1 -84.7 1292.7 -85.5Z"/>
<path fill="url(#g6)" d="M261.6 296.1 261.7 296.2 262.0 296.4 262.4 296.7 262.7 297.0 263.0 297.2 1294.8 -84.1 1293.5 -85.1Z"/>
<path fill="url(#g7)" d="M262.4 296.7 262.5 296.8 262.8 297.1 263.1 297.3 263.5 297.6 263.8 298.0 1295.5 -83.6 1294.2 -84.6Z"/>
<path fill="url(#g8)" d="M263.1 297.3 263.2 297.4 263.6 297.7 263.9 298.1 264.2 298.4 264.4 298.6 1296.1 -83.0 1294.9 -84.1Z"/>
<path fill="url(#g9)" d="M263.8 298.0 263.9 298.1 264.2 298.4 264.5 298.7 264.9 299.1 265.1 299.3 1296.7 -82.4 1295.5 -83.6Z"/>
<path fill="url(#g10)" d="M264.4 298.6 264.5 298.7 264.9 299.1 265.2 299.4 265.5 299.8 265.8 300.1 1297.3 -81.8 1296.1 -83.0Z"/>
<path fill="url(#g11)" d="M265.1 299.3 265.2 299.4 265.5 299.8 265.9 300.2 266.2 300.6 266.3 300.7 1297.9 -81.3 1296.7 -82.4Z"/>
<path fill="url(#g12)" d="M265.6 299.9 265.8 300.1 266.1 300.5 266.4 300.8 266.7 301.3 266.9 301.4 1298.4 -80.7 1297.2 -81.9Z"/>
<path fill="url(#g13)" d="M266.2 300.6 266.3 300.7 266.6 301.1 267.0 301.5 267.3 301.9 267.4 302.1 1298.9 -80.1 1297.8 -81.4Z"/>
<path fill="url(#g14)" d="M266.7 301.3 266.9 301.4 267.2 301.8 267.5 302.2 267.9 302.7 268.0 302.8 1299.4 -79.5 1298.3 -80.8Z"/>
<path fill="url(#g15)" d="M267.3 301.9 267.4 302.1 267.8 302.5 268.1 302.9 268.4 303.4 268.5 303.5 1299.9 -78.9 1298.8 -80.2Z"/>
<path fill="url(#g16)" d="M267.9 302.7 268.0 302.8 268.3 303.2 268.7 303.7 269.0 304.1 269.1 304.3 1300.4 -78.2 1299.3 -79.6Z"/>
<path fill="url(#g17)" d="M268.4 303.4 268.5 303.5 268.9 304.0 269.2 304.4 269.6 304.9 1300.9 -77.7 1299.8 -79.0Z"/>
<path fill="url(#g18)" d="M268.9 304.0 269.0 304.1 269.3 304.6 269.7 305.1 270.0 305.5 270.1 305.7 1301.4 -77.1 1300.2 -78.5Z"/>
<path fill="url(#g19)" d="M269.4 304.8 269.6 304.9 269.9 305.4 270.2 305.8 270.6 306.3 1301.8 -76.5 1300.8 -77.9Z"/>
<path fill="url(#g20)" d="M269.9 305.4 270.0 305.5 270.4 306.0 270.7 306.5 271.0 307.0 1302.2 -76.0 1301.2 -77.3Z"/>
<path fill="url(#g21)" d="M270.4 306.0 270.5 306.2 270.8 306.6 271.2 307.1 271.5 307.6 271.6 307.8 1302.8 -75.3 1301.6 -76.8Z"/>
<path fill="url(#g22)" d="M270.9 306.8 271.0 307.0 271.4 307.4 271.7 307.9 272.1 308.4 1303.2 -74.8 1302.1 -76.1Z"/>
<path fill="url(#g23)" d="M271.4 307.4 271.5 307.6 271.8 308.1 272.2 308.6 272.5 309.1 1303.6 -74.2 1302.5 -75.6Z"/>
<path fill="url(#g24)" d="M271.8 308.1 272.0 308.3 272.3 308.7 272.7 309.2 273.0 309.7 273.1 309.9 1304.1 -73.5 1303.0 -75.0Z"/>
<path fill="url(#g25)" d="M272.4 308.9 272.5 309.1 272.9 309.6 273.2 310.0 273.6 310.5 1304.6 -73.0 1303.5 -74.4Z"/>
<path fill="url(#g26)" d="M272.9 309.6 273.0 309.7 273.3 310.2 273.7 310.7 274.0 311.2 1305.0 -72.4 1303.9 -73.8Z"/>
<path fill="url(#g27)" d="M273.3 310.2 273.5 310.4 273.8 310.9 274.2 311.3 274.5 311.8 1305.4 -71.9 1304.3 -73.3Z"/>
<path fill="url(#g28)" d="M273.8 310.9 273.9 311.0 274.3 311.5 274.6 312.0 275.0 312.5 275.1 312.6 1305.9 -71.2 1304.8 -72.7Z"/>
<path fill="url(#g29)" d="M274.4 311.7 274.5 311.8 274.9 312.3 275.2 312.8 275.6 313.3 1306.4 -70.7 1305.3 -72.0Z"/>
<path fill="url(#g30)" d="M274.9 312.3 275.0 312.5 275.3 313.0 275.7 313.4 276.0 313.9 1306.8 -70.1 1305.7 -71.5Z"/>
<path fill="url(#g31)" d="M275.3 313.0 275.4 313.1 275.8 313.6 276.1 314.1 276.5 314.5 276.6 314.7 1307.3 -69.5 1306.2 -70.9Z"/>
<path fill="url(#g32)" d="M275.9 313.7 276.0 313.9 276.4 314.4 276.7 314.8 277.1 315.3 1307.8 -69.0 1306.7 -70.3Z"/>
<path fill="url(#g33)" d="M276.4 314.4 276.5 314.5 276.8 315.0 277.2 315.4 277.5 315.9 1308.2 -68.5 1307.1 -69.7Z"/>
<path fill="url(#g34)" d="M276.8 315.0 277.0 315.1 277.3 315.6 277.7 316.0 278.0 316.5 278.1 316.6 1308.7 -67.8 1307.6 -69.2Z"/>
<path fill="url(#g35)" d="M277.4 315.7 277.5 315.9 277.9 316.3 278.2 316.8 278.6 317.2 1309.2 -67.4 1308.1 -68.6Z"/>
<path fill="url(#g36)" d="M277.9 316.3 278.0 316.5 278.4 316.9 278.7 317.3 279.1 317.8 279.2 317.9 1309.7 -66.8 1308.5 -68.1Z"/>
<path fill="url(#g37)" d="M278.5 317.1 278.6 317.2 278.9 317.6 279.3 318.0 279.6 318.4 279.7 318.6 1310.3 -66.2 1309.1 -67.5Z"/>
<path fill="url(#g38)" d="M279.1 317.8 279.2 317.9 279.5 318.3 279.9 318.7 280.2 319.1 280.3 319.2 1310.8 -65.7 1309.6 -66.9Z"/>
<path fill="url(#g39)" d="M279.6 318.4 279.7 318.6 280.1 319.0 280.4 319.3 280.8 319.7 280.9 319.8 1311.3 -65.2 1310.1 -66.3Z"/>
<path fill="url(#g40)" d="M280.2 319.1 280.3 319.2 280.7 319.6 281.0 320.0 281.4 320.3 281.5 320.4 1311.9 -64.7 1310.7 -65.8Z"/>
<path fill="url(#g41)" d="M280.8 319.7 280.9 319.8 281.2 320.2 281.6 320.6 281.9 320.9 282.0 321.0 1312.4 -64.2 1311.2 -65.3Z"/>
<path fill="url(#g42)" d="M281.4 320.3 281.5 320.4 281.8 320.8 282.2 321.1 282.5 321.4 282.7 321.6 1313.0 -63.7 1311.8 -64.8Z"/>
<path fill="url(#g43)" d="M282.0 321.0 282.2 321.1 282.5 321.4 282.8 321.7 283.2 322.0 283.4 322.2 1313.7 -63.2 1312.4 -64.2Z"/>
<path fill="url(#g44)" d="M282.7 321.6 282.8 321.7 283.2 322.0 283.5 322.3 283.8 322.6 284.1 322.8 1314.3 -62.7 1313.0 -63.7Z"/>
<path fill="url(#g45)" d="M283.4 322.2 283.5 322.3 283.8 322.6 284.2 322.8 284.5 323.1 284.8 323.3 1315.0 -62.3 1313.7 -63.2Z"/>
<path fill="url(#g46)" d="M284.2 322.8 284.3 322.9 284.6 323.2 284.9 323.4 285.3 323.6 285.6 323.8 1315.8 -61.9 1314.4 -62.7Z"/>
<path fill="url(#g47)" d="M284.9 323.4 285.0 323.5 285.4 323.7 285.7 323.9 286.0 324.1 286.3 324.2 286.5 324.3 1316.6 -61.5 1315.1 -62.2Z"/>
<path fill="url(#g48)" d="M285.8 323.9 285.9 324.0 286.2 324.2 286.6 324.3 286.9 324.5 287.2 324.6 287.5 324.7 287.8 324.9 288.1 324.9 288.5 325.0 288.8 325.1 289.1 325.2 289.4 325.2 289.7 325.2 290.0 325.2 290.3 325.2 290.6 325.2 290.9 325.2 291.2 325.2 291.5 325.1 291.8 325.1 292.1 325.0 292.4 324.9 292.7 324.8 293.0 324.7 293.3 324.6 293.6 324.5 293.8 324.4 1323.8 -61.7 1316.0 -61.8Z"/>
<path fill="url(#g0)" d="M293.2 324.7 293.3 324.6 293.6 324.5 293.9 324.4 294.1 324.3 294.4 324.1 294.7 324.0 295.0 323.8 295.3 323.6 295.6 323.5 295.9 323.3 296.2 323.1 296.5 322.9 296.8 322.7 297.1 322.5 297.3 322.3 297.6 322.1 297.9 321.9 298.2 321.7 298.5 321.4 298.8 321.2 299.1 321.0 299.4 320.8 299.7 320.6 300.0 320.3 300.3 320.1 300.6 319.9 300.9 319.7 301.2 319.5 301.5 319.3 301.8 319.0 302.1 318.8 302.4 318.6 302.7 318.4 303.0 318.3 303.3 318.1 303.6 317.9 303.9 317.7 304.2 317.6 304.5 317.4 304.8 317.3 305.1 317.1 305.4 317.0 305.7 316.9 306.0 316.8 306.4 316.7 306.7 316.6 307.0 316.5 307.3 316.4 307.6 316.4 307.9 316.3 308.2 316.3 308.6 316.2 308.9 316.2 309.2 316.2 309.3 316.2 1339.4 -69.6 1323.2 -61.5Z"/>
<path fill="url(#g1)" d="M308.7 316.2 308.8 316.2 309.1 316.2 309.4 316.2 309.7 316.3 310.1 316.3 310.4 316.3 310.7 316.4 311.0 316.5 311.3 316.6 1341.4 -69.4 1338.8 -69.6Z"/>
<path fill="url(#g2)" d="M310.7 316.4 310.8 316.4 311.1 316.5 311.4 316.6 311.8 316.7 312.1 316.8 312.4 316.9 312.6 317.0 1342.6 -69.1 1340.8 -69.6Z"/>
<path fill="url(#g3)" d="M312.0 316.8 312.1 316.8 312.4 316.9 312.7 317.1 313.1 317.2 313.4 317.4 313.7 317.6 313.8 317.6 1343.8 -68.6 1342.0 -69.3Z"/>
<path fill="url(#g4)" d="M313.2 317.3 313.3 317.3 313.6 317.5 313.9 317.7 314.3 317.9 314.6 318.1 314.7 318.2 1344.6 -68.1 1343.2 -68.9Z"/>
<path fill="url(#g5)" d="M314.1 317.8 314.2 317.8 314.5 318.1 314.8 318.3 315.1 318.5 315.5 318.8 315.6 318.9 1345.5 -67.6 1344.0 -68.5Z"/>
<path fill="url(#g6)" d="M314.9 318.4 315.0 318.4 315.4 318.7 315.7 319.0 316.0 319.2 316.4 319.5 1346.2 -67.1 1344.8 -68.0Z"/>
<path fill="url(#g7)" d="M315.7 319.0 315.8 319.0 316.1 319.3 316.5 319.6 316.8 319.9 317.1 320.2 1346.9 -66.5 1345.6 -67.5Z"/>
<path fill="url(#g8)" d="M316.5 319.6 316.6 319.7 316.9 320.0 317.3 320.3 317.6 320.7 317.8 320.9 1347.6 -66.0 1346.3 -67.0Z"/>
<path fill="url(#g9)" d="M317.1 320.2 317.3 320.3 317.6 320.7 317.9 321.0 318.3 321.3 318.5 321.6 1348.2 -65.4 1346.9 -66.5Z"/>
<path fill="url(#g10)" d="M317.8 320.9 317.9 321.0 318.3 321.3 318.6 321.7 318.9 322.1 319.2 322.3 1348.8 -64.8 1347.6 -66.0Z"/>
<path fill="url(#g11)" d="M318.5 321.6 318.6 321.7 318.9 322.1 319.3 322.4 319.6 322.8 319.7 323.0 1349.3 -64.2 1348.2 -65.4Z"/>
<path fill="url(#g12)" d="M319.0 322.2 319.2 322.3 319.5 322.7 319.8 323.1 320.2 323.5 320.3 323.6 1349.9 -63.7 1348.7 -64.9Z"/>
<path fill="url(#g13)" d="M319.6 322.8 319.7 323.0 320.1 323.4 320.4 323.8 320.8 324.2 320.9 324.3 1350.4 -63.1 1349.2 -64.3Z"/>
<path fill="url(#g14)" d="M320.2 323.5 320.3 323.6 320.6 324.1 321.0 324.5 321.3 324.9 321.4 325.0 1350.9 -62.5 1349.8 -63.8Z"/>
<path fill="url(#g15)" d="M320.8 324.2 320.9 324.3 321.2 324.8 321.6 325.2 321.9 325.6 322.0 325.8 1351.5 -61.8 1350.3 -63.2Z"/>
<path fill="url(#g16)" d="M321.3 324.9 321.4 325.0 321.8 325.5 322.1 325.9 322.5 326.4 322.6 326.5 1352.0 -61.2 1350.8 -62.6Z"/>
<path fill="url(#g17)" d="M321.9 325.6 322.0 325.8 322.4 326.2 322.7 326.7 323.1 327.2 323.2 327.3 1352.5 -60.6 1351.3 -62.0Z"/>
<path fill="url(#g18)" d="M322.5 326.4 322.6 326.5 322.9 327.0 323.3 327.5 323.6 327.9 1352.9 -60.0 1351.9 -61.3Z"/>
<path fill="url(#g19)" d="M322.9 327.0 323.1 327.2 323.4 327.6 323.8 328.1 324.1 328.6 324.2 328.7 1353.5 -59.4 1352.3 -60.8Z"/>
<path fill="url(#g20)" d="M323.5 327.8 323.6 327.9 324.0 328.4 324.3 328.9 324.7 329.4 1353.9 -58.8 1352.8 -60.2Z"/>
<path fill="url(#g21)" d="M324.0 328.4 324.1 328.6 324.5 329.0 324.8 329.5 325.2 330.0 1354.3 -58.3 1353.3 -59.6Z"/>
<path fill="url(#g22)" d="M324.5 329.0 324.6 329.2 324.9 329.7 325.3 330.2 325.6 330.7 325.8 330.8 1354.9 -57.6 1353.7 -59.1Z"/>
<path fill="url(#g23)" d="M325.0 329.8 325.2 330.0 325.5 330.5 325.9 331.0 326.2 331.5 1355.3 -57.1 1354.2 -58.4Z"/>
<path fill="url(#g24)" d="M325.5 330.5 325.6 330.7 326.0 331.1 326.3 331.6 326.7 332.1 1355.8 -56.5 1354.7 -57.9Z"/>
<path fill="url(#g25)" d="M326.0 331.1 326.1 331.3 326.5 331.8 326.8 332.3 327.2 332.8 327.3 332.9 1356.3 -55.8 1355.1 -57.3Z"/>
<path fill="url(#g26)" d="M326.6 332.0 326.7 332.1 327.1 332.6 327.4 333.1 327.8 333.6 1356.7 -55.3 1355.6 -56.7Z"/>
<path fill="url(#g27)" d="M327.1 332.6 327.2 332.8 327.5 333.3 327.9 333.7 328.2 334.2 1357.2 -54.7 1356.1 -56.1Z"/>
<path fill="url(#g28)" d="M327.5 333.3 327.6 333.4 328.0 333.9 328.4 334.4 328.7 334.9 328.8 335.0 1357.7 -54.1 1356.5 -55.6Z"/>
<path fill="url(#g29)" d="M328.1 334.1 328.2 334.2 328.6 334.7 329.0 335.2 329.3 335.7 1358.2 -53.5 1357.1 -54.9Z"/>
<path fill="url(#g30)" d="M328.6 334.7 328.7 334.9 329.1 335.4 329.4 335.8 329.8 336.3 1358.6 -53.0 1357.5 -54.3Z"/>
<path fill="url(#g31)" d="M329.1 335.4 329.2 335.5 329.6 336.0 329.9 336.5 330.3 336.9 330.4 337.1 1359.2 -52.3 1357.9 -53.8Z"/>
<path fill="url(#g32)" d="M329.7 336.1 329.8 336.3 330.2 336.8 330.5 337.2 330.9 337.7 1359.6 -51.8 1358.5 -53.1Z"/>
<path fill="url(#g33)" d="M330.2 336.8 330.3 336.9 330.6 337.4 331.0 337.8 331.3 338.3 331.5 338.4 1360.1 -51.2 1358.9 -52.6Z"/>
<path fill="url(#g34)" d="M330.8 337.5 330.9 337.7 331.2 338.1 331.6 338.6 331.9 339.0 1360.6 -50.7 1359.5 -52.0Z"/>
<path fill="url(#g35)" d="M331.2 338.1 331.3 338.3 331.7 338.7 332.1 339.1 332.4 339.6 332.5 339.7 1361.1 -50.1 1359.9 -51.5Z"/>
<path fill="url(#g36)" d="M331.8 338.9 331.9 339.0 332.3 339.4 332.7 339.9 333.0 340.3 333.1 340.4 1361.7 -49.6 1360.5 -50.8Z"/>
<path fill="url(#g37)" d="M332.4 339.6 332.5 339.7 332.9 340.1 333.2 340.5 333.6 340.9 1362.1 -49.1 1361.0 -50.2Z"/>
<path fill="url(#g38)" d="M332.9 340.1 333.0 340.3 333.4 340.7 333.7 341.1 334.1 341.4 334.2 341.6 1362.7 -48.6 1361.5 -49.8Z"/>
<path fill="url(#g39)" d="M333.5 340.8 333.6 340.9 334.0 341.3 334.3 341.7 334.7 342.1 334.8 342.2 1363.2 -48.1 1362.0 -49.2Z"/>
<path fill="url(#g40)" d="M334.1 341.4 334.2 341.6 334.5 341.9 334.9 342.3 335.2 342.7 335.5 342.9 1363.9 -47.5 1362.6 -48.7Z"/>
<path fill="url(#g41)" d="M334.8 342.2 334.9 342.3 335.2 342.7 335.6 343.0 335.9 343.3 336.1 343.4 1364.4 -47.0 1363.2 -48.1Z"/>
<path fill="url(#g42)" d="M335.4 342.8 335.5 342.9 335.8 343.2 336.2 343.5 336.5 343.8 336.8 344.0 1365.1 -46.5 1363.8 -47.6Z"/>
<path fill="url(#g43)" d="M336.1 343.4 336.2 343.5 336.5 343.8 336.9 344.1 337.2 344.4 337.4 344.6 1365.7 -46.1 1364.4 -47.0Z"/>
<path fill="url(#g44)" d="M336.8 344.0 336.9 344.1 337.2 344.4 337.6 344.7 337.9 344.9 338.2 345.2 1366.5 -45.6 1365.1 -46.5Z"/>
<path fill="url(#g45)" d="M337.6 344.7 337.7 344.8 338.0 345.0 338.4 345.3 338.7 345.5 339.0 345.7 1367.2 -45.2 1365.8 -46.0Z"/>
<path fill="url(#g46)" d="M338.4 345.3 338.5 345.3 338.8 345.6 339.1 345.8 339.5 346.0 339.8 346.2 1368.0 -44.8 1366.6 -45.5Z"/>
<path fill="url(#g47)" d="M339.1 345.8 339.3 345.8 339.6 346.0 339.9 346.2 340.3 346.4 340.6 346.5 340.8 346.6 1368.9 -44.5 1367.3 -45.1Z"/>
<path fill="url(#g48)" d="M340.1 346.3 340.3 346.4 340.6 346.5 340.9 346.7 341.2 346.8 341.6 346.9 341.9 347.0 342.2 347.1 342.5 347.1 342.8 347.2 343.2 347.2 343.5 347.3 343.8 347.3 344.1 347.3 344.4 347.3 344.7 347.2 345.0 347.2 345.3 347.2 345.6 347.1 346.0 347.0 346.3 347.0 346.6 346.9 346.9 346.8 347.2 346.6 347.5 346.5 347.8 346.4 1375.8 -45.0 1368.3 -44.7Z"/>
<path fill="url(#g0)" d="M347.2 346.6 347.3 346.6 347.6 346.5 347.9 346.4 348.2 346.2 348.5 346.1 348.8 345.9 349.1 345.7 349.4 345.6 349.7 345.4 350.0 345.2 350.3 345.0 350.6 344.8 350.9 344.6 351.2 344.4 351.5 344.2 351.8 344.0 352.1 343.8 352.3 343.6 352.6 343.4 352.9 343.2 353.3 343.0 353.6 342.8 353.9 342.5 354.2 342.3 354.5 342.1 354.8 341.9 355.1 341.7 355.4 341.5 355.7 341.3 356.0 341.1 356.3 340.9 356.6 340.8 356.9 340.6 357.2 340.4 357.5 340.2 357.8 340.1 358.2 339.9 358.5 339.8 358.8 339.6 359.1 339.5 359.4 339.4 359.7 339.3 360.1 339.2 360.4 339.1 360.7 339.0 361.0 338.9 361.3 338.9 361.7 338.8 362.0 338.8 362.3 338.7 362.6 338.7 363.0 338.7 363.1 338.7 1391.2 -52.4 1375.2 -44.7Z"/>
<path fill="url(#g1)" d="M362.4 338.7 362.5 338.7 362.8 338.7 363.2 338.7 363.5 338.7 363.8 338.7 364.1 338.8 364.5 338.8 364.8 338.9 365.1 338.9 365.2 339.0 1393.3 -52.3 1390.5 -52.4Z"/>
<path fill="url(#g2)" d="M364.6 338.8 364.7 338.9 365.0 338.9 365.4 339.0 365.7 339.1 366.0 339.2 366.3 339.3 366.7 339.4 366.8 339.5 1394.8 -52.0 1392.7 -52.4Z"/>
<path fill="url(#g3)" d="M366.1 339.2 366.2 339.3 366.6 339.4 366.9 339.5 367.2 339.7 367.6 339.8 367.9 340.0 368.0 340.0 1396.0 -51.5 1394.1 -52.1Z"/>
<path fill="url(#g4)" d="M367.3 339.7 367.5 339.8 367.8 339.9 368.1 340.1 368.5 340.3 368.8 340.5 369.0 340.6 1396.9 -51.0 1395.3 -51.8Z"/>
<path fill="url(#g5)" d="M368.3 340.2 368.5 340.3 368.8 340.5 369.1 340.7 369.5 340.9 369.8 341.2 369.9 341.3 1397.8 -50.5 1396.3 -51.4Z"/>
<path fill="url(#g6)" d="M369.2 340.8 369.4 340.9 369.7 341.1 370.0 341.3 370.4 341.6 370.7 341.9 370.8 342.0 1398.6 -50.0 1397.1 -50.9Z"/>
<path fill="url(#g7)" d="M370.1 341.4 370.3 341.5 370.6 341.8 370.9 342.0 371.3 342.3 371.6 342.6 1399.4 -49.4 1398.0 -50.4Z"/>
<path fill="url(#g8)" d="M370.9 342.0 371.0 342.1 371.4 342.4 371.7 342.7 372.1 343.0 372.4 343.4 1400.1 -48.8 1398.7 -49.9Z"/>
<path fill="url(#g9)" d="M371.7 342.7 371.8 342.8 372.2 343.2 372.5 343.5 372.9 343.8 373.1 344.0 1400.8 -48.2 1399.5 -49.3Z"/>
<path fill="url(#g10)" d="M372.4 343.4 372.5 343.5 372.9 343.8 373.2 344.2 373.6 344.5 373.8 344.8 1401.4 -47.6 1400.1 -48.8Z"/>
<path fill="url(#g11)" d="M373.1 344.0 373.2 344.2 373.6 344.5 373.9 344.9 374.3 345.3 374.5 345.5 1402.1 -47.0 1400.8 -48.2Z"/>
<path fill="url(#g12)" d="M373.8 344.8 373.9 344.9 374.3 345.3 374.6 345.6 375.0 346.0 375.1 346.2 1402.6 -46.5 1401.4 -47.6Z"/>
<path fill="url(#g13)" d="M374.4 345.4 374.5 345.5 374.8 345.9 375.2 346.3 375.5 346.7 375.7 346.8 1403.1 -45.9 1402.0 -47.1Z"/>
<path fill="url(#g14)" d="M375.0 346.0 375.1 346.2 375.4 346.6 375.8 347.0 376.1 347.4 376.4 347.7 1403.8 -45.2 1402.5 -46.6Z"/>
<path fill="url(#g15)" d="M375.7 346.8 375.8 347.0 376.1 347.4 376.5 347.8 376.8 348.3 376.9 348.4 1404.3 -44.6 1403.1 -45.9Z"/>
<path fill="url(#g16)" d="M376.2 347.5 376.4 347.7 376.7 348.1 377.1 348.5 377.4 349.0 377.5 349.1 1404.9 -44.0 1403.7 -45.3Z"/>
<path fill="url(#g17)" d="M376.8 348.3 376.9 348.4 377.3 348.8 377.7 349.3 378.0 349.7 378.1 349.9 1405.4 -43.4 1404.2 -44.7Z"/>
<path fill="url(#g18)" d="M377.4 349.0 377.5 349.1 377.9 349.6 378.2 350.0 378.6 350.5 1405.9 -42.8 1404.8 -44.1Z"/>
<path fill="url(#g19)" d="M377.9 349.6 378.0 349.7 378.4 350.2 378.7 350.7 379.1 351.1 379.2 351.3 1406.4 -42.2 1405.2 -43.6Z"/>
<path fill="url(#g20)" d="M378.5 350.3 378.6 350.5 379.0 351.0 379.3 351.4 379.7 351.9 379.8 352.0 1407.0 -41.5 1405.8 -43.0Z"/>
<path fill="url(#g21)" d="M379.1 351.1 379.2 351.3 379.6 351.7 379.9 352.2 380.3 352.7 1407.4 -41.0 1406.3 -42.3Z"/>
<path fill="url(#g22)" d="M379.6 351.7 379.7 351.9 380.0 352.4 380.4 352.8 380.8 353.3 380.9 353.5 1408.0 -40.4 1406.8 -41.8Z"/>
<path fill="url(#g23)" d="M380.2 352.5 380.3 352.7 380.6 353.2 381.0 353.6 381.4 354.1 1408.4 -39.8 1407.3 -41.1Z"/>
<path fill="url(#g24)" d="M380.6 353.2 380.8 353.3 381.1 353.8 381.5 354.3 381.9 354.7 382.0 354.9 1409.0 -39.1 1407.8 -40.6Z"/>
<path fill="url(#g25)" d="M381.3 353.9 381.4 354.1 381.7 354.6 382.1 355.1 382.5 355.5 382.6 355.7 1409.5 -38.5 1408.3 -39.9Z"/>
<path fill="url(#g26)" d="M381.9 354.7 382.0 354.9 382.3 355.4 382.7 355.9 383.1 356.3 1410.0 -37.9 1408.9 -39.3Z"/>
<path fill="url(#g27)" d="M382.3 355.4 382.5 355.5 382.8 356.0 383.2 356.5 383.6 357.0 383.7 357.1 1410.5 -37.3 1409.3 -38.7Z"/>
<path fill="url(#g28)" d="M383.0 356.2 383.1 356.3 383.4 356.8 383.8 357.3 384.2 357.7 1411.0 -36.8 1409.9 -38.1Z"/>
<path fill="url(#g29)" d="M383.4 356.8 383.6 357.0 383.9 357.4 384.3 357.9 384.7 358.4 384.8 358.5 1411.6 -36.1 1410.3 -37.6Z"/>
<path fill="url(#g30)" d="M384.1 357.6 384.2 357.7 384.5 358.2 384.9 358.7 385.3 359.1 1412.0 -35.6 1410.9 -36.9Z"/>
<path fill="url(#g31)" d="M384.5 358.2 384.7 358.4 385.0 358.8 385.4 359.3 385.8 359.7 385.9 359.9 1412.6 -35.0 1411.3 -36.4Z"/>
<path fill="url(#g32)" d="M385.2 359.0 385.3 359.1 385.6 359.6 386.0 360.0 386.4 360.5 386.5 360.6 1413.1 -34.4 1411.9 -35.7Z"/>
<path fill="url(#g33)" d="M385.8 359.7 385.9 359.9 386.3 360.3 386.6 360.7 387.0 361.2 1413.6 -33.9 1412.5 -35.1Z"/>
<path fill="url(#g34)" d="M386.3 360.3 386.4 360.5 386.7 360.9 387.1 361.3 387.5 361.7 387.6 361.9 1414.2 -33.3 1412.9 -34.6Z"/>
<path fill="url(#g35)" d="M386.9 361.0 387.0 361.2 387.3 361.6 387.7 362.0 388.1 362.4 388.2 362.6 1414.7 -32.7 1413.5 -34.0Z"/>
<path fill="url(#g36)" d="M387.5 361.7 387.6 361.9 388.0 362.3 388.3 362.7 388.7 363.1 388.8 363.2 1415.3 -32.2 1414.0 -33.4Z"/>
<path fill="url(#g37)" d="M388.1 362.4 388.2 362.6 388.6 363.0 388.9 363.3 389.3 363.7 389.4 363.8 1415.8 -31.7 1414.6 -32.8Z"/>
<path fill="url(#g38)" d="M388.7 363.1 388.8 363.2 389.2 363.6 389.5 364.0 389.9 364.3 390.1 364.6 1416.5 -31.1 1415.2 -32.3Z"/>
<path fill="url(#g39)" d="M389.4 363.8 389.5 364.0 389.9 364.3 390.2 364.7 390.6 365.0 390.7 365.1 1417.1 -30.6 1415.8 -31.7Z"/>
<path fill="url(#g40)" d="M390.0 364.5 390.1 364.6 390.5 364.9 390.8 365.3 391.2 365.6 391.4 365.8 1417.7 -30.1 1416.4 -31.2Z"/>
<path fill="url(#g41)" d="M390.7 365.1 390.8 365.3 391.2 365.6 391.6 365.9 391.9 366.2 392.1 366.4 1418.4 -29.6 1417.1 -30.6Z"/>
<path fill="url(#g42)" d="M391.4 365.8 391.6 365.9 391.9 366.2 392.3 366.5 392.6 366.8 392.9 366.9 1419.1 -29.1 1417.7 -30.1Z"/>
<path fill="url(#g43)" d="M392.1 366.4 392.3 366.5 392.6 366.8 393.0 367.0 393.3 367.3 393.7 367.5 1419.9 -28.6 1418.4 -29.6Z"/>
<path fill="url(#g44)" d="M393.0 367.0 393.1 367.1 393.4 367.4 393.8 367.6 394.1 367.8 394.5 368.1 394.6 368.1 1420.7 -28.2 1419.2 -29.0Z"/>
<path fill="url(#g45)" d="M393.9 367.7 394.0 367.8 394.4 368.0 394.7 368.2 395.0 368.4 395.4 368.6 395.5 368.6 1421.6 -27.8 1420.1 -28.5Z"/>
<path fill="url(#g46)" d="M394.8 368.3 394.9 368.3 395.3 368.5 395.6 368.7 395.9 368.8 396.3 369.0 396.4 369.0 1422.5 -27.5 1420.9 -28.1Z"/>
<path fill="url(#g47)" d="M395.7 368.7 395.8 368.8 396.2 368.9 396.5 369.1 396.8 369.2 397.2 369.3 397.5 369.4 397.6 369.4 1423.6 -27.2 1421.8 -27.7Z"/>
<path fill="url(#g48)" d="M396.9 369.2 397.1 369.3 397.4 369.4 397.7 369.5 398.0 369.5 398.4 369.6 398.7 369.7 399.0 369.7 399.3 369.7 399.7 369.7 400.0 369.8 400.3 369.7 400.6 369.7 400.9 369.7 401.2 369.6 401.6 369.6 401.9 369.5 402.2 369.5 402.5 369.4 402.8 369.3 403.1 369.2 403.4 369.1 403.7 368.9 404.0 368.8 404.2 368.7 1430.2 -28.1 1423.0 -27.3Z"/>
<path fill="url(#g0)" d="M403.6 369.0 403.7 368.9 404.0 368.8 404.3 368.7 404.7 368.5 405.0 368.4 405.3 368.2 405.6 368.1 405.9 367.9 406.2 367.7 406.5 367.6 406.8 367.4 407.1 367.2 407.4 367.0 407.7 366.8 408.0 366.6 408.3 366.4 408.6 366.2 408.9 366.0 409.3 365.8 409.6 365.6 409.9 365.4 410.2 365.2 410.5 365.0 410.8 364.8 411.1 364.6 411.4 364.4 411.8 364.3 412.1 364.1 412.4 363.9 412.7 363.7 413.0 363.6 413.3 363.4 413.7 363.2 414.0 363.1 414.3 363.0 414.6 362.8 414.9 362.7 415.3 362.6 415.6 362.5 415.9 362.4 416.2 362.3 416.6 362.2 416.9 362.1 417.2 362.1 417.6 362.0 417.9 362.0 418.2 361.9 418.6 361.9 418.9 361.9 1444.9 -34.8 1429.6 -27.8Z"/>
<path fill="url(#g1)" d="M418.2 361.9 418.3 361.9 418.7 361.9 419.0 361.9 419.3 361.9 419.7 362.0 420.0 362.0 420.3 362.0 420.7 362.1 421.0 362.2 421.2 362.2 1447.2 -34.6 1444.2 -34.7Z"/>
<path fill="url(#g2)" d="M420.6 362.1 420.7 362.1 421.0 362.2 421.4 362.3 421.7 362.4 422.0 362.5 422.4 362.6 422.7 362.7 422.8 362.8 1448.7 -34.2 1446.5 -34.7Z"/>
<path fill="url(#g3)" d="M422.1 362.5 422.3 362.6 422.6 362.7 422.9 362.8 423.3 363.0 423.6 363.2 424.0 363.3 424.1 363.4 1449.9 -33.7 1448.0 -34.4Z"/>
<path fill="url(#g4)" d="M423.4 363.0 423.5 363.1 423.8 363.3 424.2 363.5 424.5 363.7 424.9 363.9 425.1 364.0 1450.9 -33.2 1449.2 -34.0Z"/>
<path fill="url(#g5)" d="M424.4 363.6 424.5 363.7 424.9 363.9 425.2 364.1 425.6 364.4 425.9 364.6 426.1 364.8 1451.9 -32.6 1450.2 -33.5Z"/>
<path fill="url(#g6)" d="M425.4 364.3 425.6 364.4 425.9 364.6 426.3 364.9 426.6 365.2 426.9 365.5 427.1 365.6 1452.7 -32.0 1451.2 -33.0Z"/>
<path fill="url(#g7)" d="M426.4 365.0 426.5 365.1 426.8 365.4 427.2 365.7 427.5 366.0 427.9 366.3 1453.5 -31.4 1452.1 -32.4Z"/>
<path fill="url(#g8)" d="M427.2 365.7 427.3 365.8 427.6 366.1 428.0 366.4 428.3 366.7 428.7 367.1 1454.3 -30.7 1452.8 -31.9Z"/>
<path fill="url(#g9)" d="M428.0 366.4 428.1 366.5 428.5 366.9 428.8 367.2 429.2 367.6 429.4 367.8 1454.9 -30.1 1453.6 -31.3Z"/>
<path fill="url(#g10)" d="M428.7 367.1 428.8 367.2 429.2 367.6 429.5 368.0 429.9 368.3 430.1 368.6 1455.6 -29.4 1454.3 -30.7Z"/>
<path fill="url(#g11)" d="M429.4 367.8 429.5 368.0 429.9 368.3 430.2 368.7 430.6 369.1 430.8 369.4 1456.2 -28.8 1454.9 -30.1Z"/>
<path fill="url(#g12)" d="M430.1 368.6 430.2 368.7 430.6 369.1 430.9 369.5 431.3 370.0 431.5 370.2 1456.9 -28.1 1455.6 -29.4Z"/>
<path fill="url(#g13)" d="M430.8 369.4 430.9 369.5 431.3 370.0 431.7 370.4 432.0 370.8 432.1 371.0 1457.4 -27.5 1456.2 -28.8Z"/>
<path fill="url(#g14)" d="M431.4 370.1 431.5 370.2 431.9 370.7 432.3 371.1 432.6 371.6 432.7 371.7 1458.0 -26.8 1456.8 -28.2Z"/>
<path fill="url(#g15)" d="M432.0 370.8 432.1 371.0 432.5 371.4 432.9 371.9 433.2 372.3 433.5 372.6 1458.7 -26.1 1457.3 -27.6Z"/>
<path fill="url(#g16)" d="M432.7 371.7 432.9 371.9 433.2 372.3 433.6 372.8 433.9 373.3 434.1 373.4 1459.2 -25.4 1458.0 -26.8Z"/>
<path fill="url(#g17)" d="M433.3 372.5 433.5 372.6 433.8 373.1 434.2 373.6 434.6 374.1 434.7 374.2 1459.8 -24.7 1458.6 -26.2Z"/>
<path fill="url(#g18)" d="M433.9 373.3 434.1 373.4 434.4 373.9 434.8 374.4 435.2 374.9 435.3 375.0 1460.3 -24.1 1459.1 -25.5Z"/>
<path fill="url(#g19)" d="M434.6 374.1 434.7 374.2 435.0 374.7 435.4 375.2 435.8 375.7 1460.8 -23.5 1459.7 -24.9Z"/>
<path fill="url(#g20)" d="M435.0 374.7 435.2 374.9 435.5 375.4 435.9 375.9 436.3 376.4 436.4 376.5 1461.3 -22.8 1460.1 -24.3Z"/>
<path fill="url(#g21)" d="M435.7 375.5 435.8 375.7 436.1 376.2 436.5 376.7 436.9 377.2 437.0 377.4 1461.9 -22.1 1460.7 -23.6Z"/>
<path fill="url(#g22)" d="M436.3 376.4 436.4 376.5 436.8 377.0 437.1 377.5 437.5 378.0 437.6 378.2 1462.5 -21.4 1461.2 -22.9Z"/>
<path fill="url(#g23)" d="M436.9 377.2 437.0 377.4 437.4 377.9 437.8 378.4 438.1 378.9 1462.9 -20.8 1461.8 -22.2Z"/>
<path fill="url(#g24)" d="M437.4 377.9 437.5 378.0 437.9 378.5 438.2 379.0 438.6 379.5 438.7 379.7 1463.5 -20.1 1462.3 -21.7Z"/>
<path fill="url(#g25)" d="M438.0 378.7 438.1 378.9 438.5 379.4 438.9 379.9 439.2 380.4 439.4 380.5 1464.1 -19.4 1462.8 -21.0Z"/>
<path fill="url(#g26)" d="M438.6 379.5 438.7 379.7 439.1 380.2 439.5 380.7 439.9 381.2 440.0 381.4 1464.6 -18.7 1463.4 -20.3Z"/>
<path fill="url(#g27)" d="M439.2 380.4 439.4 380.5 439.7 381.0 440.1 381.5 440.5 382.0 1465.1 -18.2 1464.0 -19.6Z"/>
<path fill="url(#g28)" d="M439.7 381.0 439.9 381.2 440.2 381.7 440.6 382.2 441.0 382.7 441.1 382.8 1465.7 -17.5 1464.4 -19.0Z"/>
<path fill="url(#g29)" d="M440.4 381.9 440.5 382.0 440.9 382.5 441.2 383.0 441.6 383.5 441.7 383.6 1466.3 -16.8 1465.0 -18.3Z"/>
<path fill="url(#g30)" d="M441.0 382.7 441.1 382.8 441.5 383.3 441.9 383.8 442.2 384.3 442.4 384.4 1466.8 -16.2 1465.6 -17.6Z"/>
<path fill="url(#g31)" d="M441.6 383.5 441.7 383.6 442.1 384.1 442.5 384.6 442.9 385.0 1467.3 -15.7 1466.1 -17.0Z"/>
<path fill="url(#g32)" d="M442.1 384.1 442.2 384.3 442.6 384.7 443.0 385.2 443.4 385.6 443.5 385.8 1467.9 -15.0 1466.6 -16.4Z"/>
<path fill="url(#g33)" d="M442.7 384.9 442.9 385.0 443.2 385.5 443.6 385.9 444.0 386.4 444.1 386.5 1468.4 -14.4 1467.2 -15.8Z"/>
<path fill="url(#g34)" d="M443.4 385.6 443.5 385.8 443.9 386.2 444.2 386.7 444.6 387.1 444.9 387.4 1469.1 -13.7 1467.7 -15.1Z"/>
<path fill="url(#g35)" d="M444.1 386.5 444.2 386.7 444.6 387.1 445.0 387.5 445.3 387.9 445.5 388.1 1469.7 -13.1 1468.4 -14.4Z"/>
<path fill="url(#g36)" d="M444.7 387.3 444.9 387.4 445.2 387.8 445.6 388.2 446.0 388.6 446.1 388.7 1470.3 -12.6 1469.0 -13.8Z"/>
<path fill="url(#g37)" d="M445.3 387.9 445.5 388.1 445.8 388.5 446.2 388.9 446.6 389.2 446.8 389.5 1471.0 -11.9 1469.6 -13.2Z"/>
<path fill="url(#g38)" d="M446.1 388.7 446.2 388.9 446.6 389.2 446.9 389.6 447.3 390.0 447.6 390.2 1471.6 -11.3 1470.3 -12.6Z"/>
<path fill="url(#g39)" d="M446.8 389.5 446.9 389.6 447.3 390.0 447.7 390.3 448.0 390.7 448.3 390.9 1472.3 -10.8 1471.0 -11.9Z"/>
<path fill="url(#g40)" d="M447.6 390.2 447.7 390.3 448.0 390.7 448.4 391.0 448.8 391.3 449.0 391.5 1473.0 -10.3 1471.6 -11.3Z"/>
<path fill="url(#g41)" d="M448.3 390.9 448.4 391.0 448.8 391.3 449.1 391.6 449.5 391.9 449.8 392.2 1473.8 -9.7 1472.3 -10.8Z"/>
<path fill="url(#g42)" d="M449.1 391.6 449.2 391.7 449.6 392.0 450.0 392.3 450.3 392.5 450.7 392.8 1474.6 -9.3 1473.1 -10.2Z"/>
<path fill="url(#g43)" d="M450.0 392.3 450.1 392.4 450.4 392.6 450.8 392.9 451.1 393.1 451.5 393.3 451.6 393.4 1475.5 -8.8 1473.9 -9.7Z"/>
<path fill="url(#g44)" d="M450.9 392.9 451.0 393.0 451.4 393.2 451.7 393.4 452.1 393.6 452.4 393.8 452.5 393.9 1476.4 -8.4 1474.8 -9.1Z"/>
<path fill="url(#g45)" d="M451.8 393.5 452.0 393.6 452.3 393.8 452.7 393.9 453.0 394.1 453.3 394.3 453.7 394.4 1477.4 -8.0 1475.7 -8.7Z"/>
<path fill="url(#g46)" d="M453.0 394.1 453.1 394.2 453.5 394.3 453.8 394.4 454.1 394.5 454.5 394.7 454.8 394.7 454.9 394.8 1478.6 -7.7 1476.8 -8.2Z"/>
<path fill="url(#g47)" d="M454.2 394.6 454.4 394.6 454.7 394.7 455.0 394.8 455.4 394.9 455.7 394.9 456.0 395.0 456.4 395.0 456.6 395.0 1480.3 -7.6 1478.0 -7.8Z"/>
<path fill="url(#g48)" d="M455.9 395.0 456.0 395.0 456.4 395.0 456.7 395.0 457.0 395.0 457.3 395.0 457.7 395.0 458.0 395.0 458.3 395.0 458.6 394.9 458.9 394.9 459.3 394.8 459.6 394.7 459.9 394.6 460.2 394.5 460.5 394.4 460.8 394.3 461.2 394.2 461.5 394.1 461.8 394.0 462.0 393.9 1485.6 -8.8 1479.6 -7.6Z"/>
<path fill="url(#g0)" d="M461.4 394.1 461.5 394.1 461.8 394.0 462.1 393.8 462.4 393.7 462.7 393.5 463.0 393.4 463.4 393.2 463.7 393.1 464.0 392.9 464.3 392.7 464.6 392.6 464.9 392.4 465.2 392.2 465.6 392.1 465.9 391.9 466.2 391.7 466.5 391.6 466.8 391.4 467.1 391.2 467.5 391.0 467.8 390.9 468.1 390.7 468.4 390.6 468.8 390.4 469.1 390.3 469.4 390.1 469.7 390.0 470.0 389.9 470.4 389.7 470.7 389.6 471.0 389.5 471.4 389.4 471.7 389.3 472.0 389.2 472.4 389.2 472.7 389.1 473.0 389.0 473.4 389.0 473.7 389.0 474.0 388.9 474.4 388.9 474.5 388.9 1498.1 -13.8 1485.0 -8.6Z"/>
<path fill="url(#g1)" d="M473.8 389.0 473.9 388.9 474.3 388.9 474.6 388.9 474.9 388.9 475.3 388.9 475.6 389.0 475.9 389.0 476.3 389.1 476.6 389.1 477.0 389.2 1500.5 -13.7 1497.4 -13.7Z"/>
<path fill="url(#g2)" d="M476.3 389.1 476.4 389.1 476.7 389.2 477.1 389.2 477.4 389.3 477.8 389.5 478.1 389.6 478.5 389.7 478.6 389.8 1502.1 -13.3 1499.9 -13.7Z"/>
<path fill="url(#g3)" d="M477.9 389.5 478.0 389.5 478.3 389.7 478.7 389.8 479.0 390.0 479.4 390.1 479.7 390.3 480.0 390.5 1503.4 -12.7 1501.4 -13.5Z"/>
<path fill="url(#g4)" d="M479.3 390.1 479.4 390.1 479.7 390.3 480.1 390.5 480.4 390.7 480.8 391.0 481.1 391.2 1504.5 -12.1 1502.8 -13.0Z"/>
<path fill="url(#g5)" d="M480.4 390.7 480.5 390.8 480.9 391.0 481.2 391.3 481.6 391.5 481.9 391.8 482.1 391.9 1505.4 -11.5 1503.9 -12.5Z"/>
<path fill="url(#g6)" d="M481.4 391.4 481.5 391.5 481.8 391.7 482.2 392.0 482.5 392.3 482.9 392.6 483.0 392.7 1506.3 -10.9 1504.7 -12.0Z"/>
<path fill="url(#g7)" d="M482.3 392.1 482.4 392.2 482.8 392.5 483.1 392.8 483.5 393.1 483.8 393.5 483.9 393.6 1507.2 -10.2 1505.6 -11.4Z"/>
<path fill="url(#g8)" d="M483.2 392.9 483.4 393.0 483.7 393.4 484.1 393.7 484.4 394.1 484.7 394.3 1507.8 -9.6 1506.5 -10.7Z"/>
<path fill="url(#g9)" d="M483.9 393.6 484.1 393.7 484.4 394.1 484.8 394.4 485.1 394.8 485.5 395.2 1508.6 -8.8 1507.2 -10.2Z"/>
<path fill="url(#g10)" d="M484.8 394.4 484.9 394.6 485.3 394.9 485.6 395.3 486.0 395.8 486.2 396.0 1509.3 -8.1 1507.9 -9.5Z"/>
<path fill="url(#g11)" d="M485.5 395.2 485.6 395.3 486.0 395.8 486.3 396.2 486.7 396.6 486.9 396.9 1509.9 -7.4 1508.6 -8.8Z"/>
<path fill="url(#g12)" d="M486.2 396.0 486.3 396.2 486.7 396.6 487.1 397.0 487.4 397.5 487.7 397.8 1510.6 -6.7 1509.3 -8.1Z"/>
<path fill="url(#g13)" d="M486.9 396.9 487.1 397.0 487.4 397.5 487.8 397.9 488.1 398.4 488.3 398.6 1511.2 -6.0 1509.9 -7.4Z"/>
<path fill="url(#g14)" d="M487.5 397.6 487.7 397.8 488.0 398.2 488.4 398.7 488.8 399.2 489.0 399.5 1511.8 -5.2 1510.5 -6.8Z"/>
<path fill="url(#g15)" d="M488.3 398.6 488.4 398.7 488.8 399.2 489.1 399.7 489.5 400.2 489.6 400.3 1512.4 -4.5 1511.2 -6.0Z"/>
<path fill="url(#g16)" d="M488.9 399.3 489.0 399.5 489.4 400.0 489.7 400.5 490.1 401.0 490.2 401.2 1513.0 -3.8 1511.7 -5.4Z"/>
<path fill="url(#g17)" d="M489.5 400.2 489.6 400.3 490.0 400.8 490.3 401.3 490.7 401.8 490.8 402.0 1513.5 -3.1 1512.3 -4.7Z"/>
<path fill="url(#g18)" d="M490.1 401.0 490.2 401.2 490.6 401.7 491.0 402.2 491.3 402.7 491.5 402.9 1514.1 -2.4 1512.8 -4.0Z"/>
<path fill="url(#g19)" d="M490.7 401.8 490.8 402.0 491.2 402.5 491.6 403.0 492.0 403.6 492.1 403.7 1514.6 -1.7 1513.4 -3.3Z"/>
<path fill="url(#g20)" d="M491.3 402.7 491.5 402.9 491.8 403.4 492.2 403.9 492.6 404.4 492.7 404.6 1515.2 -0.9 1514.0 -2.6Z"/>
<path fill="url(#g21)" d="M492.0 403.6 492.1 403.7 492.5 404.3 492.8 404.8 493.2 405.3 1515.7 -0.3 1514.5 -1.8Z"/>
<path fill="url(#g22)" d="M492.5 404.3 492.6 404.4 493.0 405.0 493.3 405.5 493.7 406.0 493.8 406.2 1516.2 0.4 1515.0 -1.2Z"/>
<path fill="url(#g23)" d="M493.1 405.1 493.2 405.3 493.6 405.9 494.0 406.4 494.3 406.9 494.5 407.1 1516.8 1.2 1515.6 -0.5Z"/>
<path fill="url(#g24)" d="M493.7 406.0 493.8 406.2 494.2 406.7 494.6 407.3 495.0 407.8 495.1 408.0 1517.4 1.9 1516.1 0.3Z"/>
<path fill="url(#g25)" d="M494.3 406.9 494.5 407.1 494.8 407.6 495.2 408.2 495.6 408.7 1517.9 2.5 1516.7 1.0Z"/>
<path fill="url(#g26)" d="M494.8 407.6 495.0 407.8 495.3 408.3 495.7 408.9 496.1 409.4 496.2 409.6 1518.4 3.2 1517.2 1.6Z"/>
<path fill="url(#g27)" d="M495.5 408.5 495.6 408.7 496.0 409.2 496.4 409.7 496.7 410.3 496.9 410.4 1519.0 4.0 1517.7 2.3Z"/>
<path fill="url(#g28)" d="M496.1 409.4 496.2 409.6 496.6 410.1 497.0 410.6 497.4 411.1 497.5 411.3 1519.6 4.7 1518.3 3.1Z"/>
<path fill="url(#g29)" d="M496.7 410.3 496.9 410.4 497.2 410.9 497.6 411.5 498.0 412.0 498.1 412.1 1520.2 5.4 1518.9 3.8Z"/>
<path fill="url(#g30)" d="M497.4 411.1 497.5 411.3 497.9 411.8 498.3 412.3 498.7 412.8 498.8 413.0 1520.8 6.1 1519.5 4.5Z"/>
<path fill="url(#g31)" d="M498.0 412.0 498.1 412.1 498.5 412.6 498.9 413.1 499.3 413.6 499.4 413.8 1521.3 6.8 1520.1 5.2Z"/>
<path fill="url(#g32)" d="M498.7 412.8 498.8 413.0 499.2 413.5 499.5 413.9 499.9 414.4 500.1 414.6 1521.9 7.4 1520.6 5.9Z"/>
<path fill="url(#g33)" d="M499.3 413.6 499.4 413.8 499.8 414.3 500.2 414.7 500.6 415.2 500.7 415.3 1522.5 8.1 1521.2 6.6Z"/>
<path fill="url(#g34)" d="M499.9 414.4 500.1 414.6 500.4 415.0 500.8 415.5 501.2 416.0 501.3 416.1 1523.1 8.7 1521.8 7.3Z"/>
<path fill="url(#g35)" d="M500.6 415.2 500.7 415.3 501.1 415.8 501.5 416.2 501.8 416.7 502.0 416.8 1523.7 9.3 1522.4 7.9Z"/>
<path fill="url(#g36)" d="M501.2 416.0 501.3 416.1 501.7 416.5 502.1 417.0 502.5 417.4 502.7 417.7 1524.4 10.0 1523.0 8.6Z"/>
<path fill="url(#g37)" d="M502.0 416.8 502.1 417.0 502.5 417.4 502.9 417.8 503.2 418.2 503.4 418.3 1525.0 10.6 1523.7 9.3Z"/>
<path fill="url(#g38)" d="M502.6 417.5 502.7 417.7 503.1 418.1 503.5 418.5 503.9 418.9 504.1 419.1 1525.7 11.2 1524.3 9.9Z"/>
<path fill="url(#g39)" d="M503.4 418.3 503.5 418.5 503.9 418.9 504.2 419.2 504.6 419.6 504.9 419.8 1526.4 11.8 1525.0 10.6Z"/>
<path fill="url(#g40)" d="M504.1 419.1 504.2 419.2 504.6 419.6 505.0 419.9 505.4 420.3 505.6 420.5 1527.1 12.4 1525.7 11.2Z"/>
<path fill="url(#g41)" d="M504.9 419.8 505.0 419.9 505.4 420.3 505.7 420.6 506.1 420.9 506.5 421.2 1527.9 12.9 1526.4 11.8Z"/>
<path fill="url(#g42)" d="M505.7 420.6 505.9 420.7 506.2 421.0 506.6 421.3 507.0 421.6 507.3 421.9 1528.7 13.5 1527.2 12.4Z"/>
<path fill="url(#g43)" d="M506.6 421.3 506.7 421.4 507.1 421.7 507.5 422.0 507.8 422.2 508.2 422.5 508.3 422.6 1529.6 14.0 1528.0 13.0Z"/>
<path fill="url(#g44)" d="M507.6 422.1 507.7 422.2 508.1 422.4 508.4 422.6 508.8 422.9 509.2 423.1 509.3 423.2 1530.6 14.5 1528.9 13.6Z"/>
<path fill="url(#g45)" d="M508.6 422.7 508.7 422.8 509.0 423.0 509.4 423.2 509.8 423.4 510.1 423.6 510.4 423.7 1531.6 14.9 1529.9 14.2Z"/>
<path fill="url(#g46)" d="M509.6 423.3 509.8 423.4 510.1 423.6 510.5 423.7 510.8 423.9 511.2 424.0 511.5 424.2 511.6 424.2 1532.8 15.3 1530.9 14.6Z"/>
<path fill="url(#g47)" d="M510.9 423.9 511.1 424.0 511.4 424.1 511.8 424.2 512.1 424.3 512.5 424.4 512.8 424.5 513.1 424.6 1534.3 15.5 1532.1 15.1Z"/>
<path fill="url(#g48)" d="M512.5 424.4 512.6 424.5 512.9 424.5 513.3 424.6 513.6 424.6 513.9 424.7 514.3 424.7 514.6 424.7 514.9 424.7 515.3 424.7 515.6 424.7 515.9 424.6 516.3 424.6 516.6 424.5 516.9 424.5 517.3 424.4 517.6 424.3 517.9 424.2 518.2 424.1 518.6 424.0 518.9 423.8 519.2 423.7 519.5 423.6 519.6 423.5 1540.7 14.3 1533.6 15.4Z"/>
<path fill="url(#g0)" d="M519.0 423.8 519.1 423.8 519.4 423.6 519.7 423.5 520.1 423.3 520.4 423.2 520.7 423.0 521.0 422.8 521.3 422.7 521.7 422.5 522.0 422.3 522.3 422.1 522.6 421.9 523.0 421.7 523.3 421.5 523.6 421.3 523.9 421.1 524.3 420.9 524.6 420.7 524.9 420.5 525.2 420.3 525.6 420.1 525.9 419.9 526.2 419.7 526.5 419.6 526.9 419.4 527.2 419.2 527.5 419.0 527.9 418.8 528.2 418.7 528.5 418.5 528.9 418.3 529.2 418.2 529.5 418.1 529.9 417.9 530.2 417.8 530.6 417.7 530.9 417.6 531.2 417.5 531.6 417.4 531.9 417.3 532.3 417.2 532.6 417.2 532.9 417.1 533.3 417.1 533.6 417.1 533.9 417.1 1555.0 7.9 1540.0 14.6Z"/>
<path fill="url(#g1)" d="M533.2 417.1 533.3 417.1 533.6 417.1 534.0 417.1 534.3 417.1 534.7 417.1 535.0 417.1 535.4 417.1 535.7 417.2 536.1 417.3 536.3 417.3 1557.3 8.0 1554.3 8.0Z"/>
<path fill="url(#g2)" d="M535.6 417.2 535.7 417.2 536.1 417.3 536.4 417.3 536.8 417.4 537.1 417.5 537.5 417.7 537.9 417.8 1558.8 8.4 1556.7 7.9Z"/>
<path fill="url(#g3)" d="M537.1 417.5 537.3 417.6 537.6 417.7 538.0 417.8 538.3 418.0 538.7 418.2 539.0 418.3 539.2 418.4 1560.1 8.8 1558.1 8.2Z"/>
<path fill="url(#g4)" d="M538.4 418.0 538.6 418.1 538.9 418.3 539.3 418.5 539.6 418.7 540.0 418.9 540.2 419.0 1561.1 9.4 1559.4 8.6Z"/>
<path fill="url(#g5)" d="M539.5 418.6 539.6 418.7 540.0 418.9 540.3 419.1 540.7 419.4 541.1 419.6 541.3 419.8 1562.1 10.0 1560.4 9.0Z"/>
<path fill="url(#g6)" d="M540.6 419.3 540.7 419.4 541.1 419.6 541.4 419.9 541.8 420.2 542.2 420.5 1562.9 10.5 1561.4 9.6Z"/>
<path fill="url(#g7)" d="M541.4 419.9 541.5 420.0 541.9 420.3 542.3 420.6 542.6 420.9 543.0 421.2 1563.7 11.1 1562.2 10.1Z"/>
<path fill="url(#g8)" d="M542.3 420.6 542.4 420.7 542.8 421.0 543.1 421.4 543.5 421.7 543.7 421.9 1564.4 11.7 1563.0 10.6Z"/>
<path fill="url(#g9)" d="M543.0 421.2 543.1 421.4 543.5 421.7 543.8 422.1 544.2 422.4 544.6 422.8 1565.2 12.4 1563.7 11.1Z"/>
<path fill="url(#g10)" d="M543.8 422.1 544.0 422.2 544.3 422.6 544.7 422.9 545.1 423.3 545.2 423.5 1565.7 13.0 1564.5 11.8Z"/>
<path fill="url(#g11)" d="M544.5 422.7 544.6 422.8 544.9 423.2 545.3 423.6 545.7 424.0 545.9 424.3 1566.4 13.7 1565.1 12.3Z"/>
<path fill="url(#g12)" d="M545.2 423.5 545.3 423.6 545.7 424.0 546.1 424.4 546.4 424.9 546.5 425.0 1567.0 14.3 1565.7 13.0Z"/>
<path fill="url(#g13)" d="M545.8 424.2 545.9 424.3 546.3 424.7 546.7 425.2 547.0 425.6 547.3 425.9 1567.7 15.0 1566.3 13.6Z"/>
<path fill="url(#g14)" d="M546.5 425.0 546.7 425.2 547.0 425.6 547.4 426.1 547.8 426.5 547.9 426.7 1568.2 15.7 1567.0 14.3Z"/>
<path fill="url(#g15)" d="M547.2 425.8 547.3 425.9 547.7 426.4 548.0 426.9 548.4 427.3 548.5 427.5 1568.8 16.3 1567.6 14.9Z"/>
<path fill="url(#g16)" d="M547.8 426.5 547.9 426.7 548.3 427.2 548.7 427.7 549.0 428.1 549.2 428.3 1569.4 17.0 1568.1 15.5Z"/>
<path fill="url(#g17)" d="M548.4 427.3 548.5 427.5 548.9 428.0 549.3 428.5 549.7 429.0 1569.8 17.6 1568.7 16.2Z"/>
<path fill="url(#g18)" d="M548.9 428.0 549.0 428.1 549.4 428.6 549.8 429.1 550.2 429.6 550.3 429.8 1570.4 18.3 1569.2 16.7Z"/>
<path fill="url(#g19)" d="M549.5 428.8 549.7 429.0 550.1 429.5 550.4 430.0 550.8 430.5 550.9 430.7 1571.0 19.0 1569.7 17.4Z"/>
<path fill="url(#g20)" d="M550.2 429.6 550.3 429.8 550.7 430.3 551.1 430.8 551.4 431.3 1571.5 19.6 1570.3 18.1Z"/>
<path fill="url(#g21)" d="M550.7 430.3 550.8 430.5 551.2 431.0 551.6 431.5 552.0 432.0 552.1 432.2 1572.0 20.3 1570.8 18.7Z"/>
<path fill="url(#g22)" d="M551.3 431.2 551.4 431.3 551.8 431.9 552.2 432.4 552.6 432.9 1572.5 20.9 1571.4 19.4Z"/>
<path fill="url(#g23)" d="M551.8 431.9 552.0 432.0 552.3 432.5 552.7 433.1 553.1 433.6 553.2 433.8 1573.1 21.6 1571.8 20.0Z"/>
<path fill="url(#g24)" d="M552.5 432.7 552.6 432.9 553.0 433.4 553.4 433.9 553.8 434.5 1573.6 22.2 1572.4 20.7Z"/>
<path fill="url(#g25)" d="M553.0 433.4 553.1 433.6 553.5 434.1 553.9 434.6 554.3 435.2 554.4 435.3 1574.2 22.9 1572.9 21.3Z"/>
<path fill="url(#g26)" d="M553.6 434.3 553.8 434.5 554.1 435.0 554.5 435.5 554.9 436.0 1574.6 23.5 1573.5 22.0Z"/>
<path fill="url(#g27)" d="M554.1 435.0 554.3 435.2 554.7 435.7 555.0 436.2 555.4 436.7 555.6 436.9 1575.2 24.2 1573.9 22.6Z"/>
<path fill="url(#g28)" d="M554.8 435.9 554.9 436.0 555.3 436.5 555.7 437.1 556.1 437.6 1575.7 24.8 1574.5 23.3Z"/>
<path fill="url(#g29)" d="M555.3 436.5 555.4 436.7 555.8 437.2 556.2 437.7 556.6 438.2 556.7 438.4 1576.3 25.5 1575.0 23.9Z"/>
<path fill="url(#g30)" d="M556.0 437.4 556.1 437.6 556.5 438.1 556.9 438.6 557.3 439.1 1576.8 26.0 1575.6 24.6Z"/>
<path fill="url(#g31)" d="M556.5 438.1 556.6 438.2 557.0 438.7 557.4 439.2 557.8 439.7 557.9 439.9 1577.4 26.7 1576.1 25.2Z"/>
<path fill="url(#g32)" d="M557.1 438.9 557.3 439.1 557.7 439.6 558.0 440.1 558.4 440.5 1577.8 27.3 1576.7 25.9Z"/>
<path fill="url(#g33)" d="M557.7 439.6 557.8 439.7 558.2 440.2 558.6 440.7 559.0 441.2 559.1 441.3 1578.4 27.9 1577.1 26.5Z"/>
<path fill="url(#g34)" d="M558.3 440.4 558.4 440.5 558.8 441.0 559.2 441.5 559.6 441.9 559.7 442.1 1579.0 28.6 1577.7 27.1Z"/>
<path fill="url(#g35)" d="M559.0 441.2 559.1 441.3 559.5 441.8 559.9 442.2 560.3 442.7 560.4 442.8 1579.6 29.2 1578.3 27.8Z"/>
<path fill="url(#g36)" d="M559.6 441.9 559.7 442.1 560.1 442.5 560.5 443.0 560.9 443.4 561.0 443.6 1580.2 29.8 1578.9 28.4Z"/>
<path fill="url(#g37)" d="M560.3 442.7 560.4 442.8 560.8 443.3 561.2 443.7 561.6 444.1 561.7 444.2 1580.8 30.4 1579.5 29.1Z"/>
<path fill="url(#g38)" d="M560.9 443.4 561.0 443.6 561.4 444.0 561.8 444.4 562.2 444.8 562.3 444.9 1581.4 30.9 1580.1 29.7Z"/>
<path fill="url(#g39)" d="M561.6 444.1 561.7 444.2 562.1 444.7 562.5 445.0 562.9 445.4 563.0 445.6 1582.0 31.4 1580.7 30.2Z"/>
<path fill="url(#g40)" d="M562.2 444.8 562.3 444.9 562.7 445.3 563.1 445.7 563.5 446.0 563.7 446.3 1582.8 32.0 1581.3 30.8Z"/>
<path fill="url(#g41)" d="M563.0 445.6 563.1 445.7 563.5 446.0 563.9 446.4 564.3 446.7 564.5 447.0 1583.5 32.6 1582.0 31.4Z"/>
<path fill="url(#g42)" d="M563.7 446.3 563.9 446.4 564.3 446.7 564.6 447.1 565.0 447.4 565.3 447.6 1584.2 33.1 1582.8 32.0Z"/>
<path fill="url(#g43)" d="M564.5 447.0 564.6 447.1 565.0 447.4 565.4 447.7 565.8 448.0 566.0 448.2 1584.9 33.6 1583.5 32.6Z"/>
<path fill="url(#g44)" d="M565.3 447.6 565.4 447.7 565.8 448.0 566.2 448.3 566.5 448.5 566.9 448.8 1585.7 34.1 1584.2 33.1Z"/>
<path fill="url(#g45)" d="M566.2 448.3 566.3 448.4 566.7 448.6 567.0 448.9 567.4 449.1 567.8 449.3 1586.6 34.5 1585.0 33.6Z"/>
<path fill="url(#g46)" d="M567.0 448.9 567.2 448.9 567.5 449.2 567.9 449.4 568.3 449.6 568.6 449.8 568.8 449.8 1587.5 34.9 1585.9 34.1Z"/>
<path fill="url(#g47)" d="M568.0 449.5 568.2 449.5 568.5 449.7 568.9 449.9 569.3 450.1 569.6 450.2 570.0 450.4 1588.7 35.3 1586.8 34.6Z"/>
<path fill="url(#g48)" d="M569.3 450.1 569.4 450.1 569.7 450.3 570.1 450.4 570.5 450.5 570.8 450.6 571.2 450.7 571.5 450.8 571.9 450.9 572.2 450.9 572.6 451.0 572.9 451.0 573.3 451.0 573.6 451.0 574.0 451.0 574.3 451.0 574.7 450.9 575.0 450.9 575.3 450.8 575.7 450.7 576.0 450.7 576.4 450.6 576.7 450.5 577.0 450.3 577.4 450.2 577.7 450.1 578.0 449.9 578.1 449.9 1596.7 34.5 1588.0 35.1Z"/>
<path fill="url(#g0)" d="M577.5 450.2 577.6 450.1 577.9 450.0 578.2 449.8 578.6 449.7 578.9 449.5 579.2 449.3 579.6 449.1 579.9 448.9 580.2 448.7 580.6 448.5 580.9 448.3 581.2 448.1 581.5 447.8 581.9 447.6 582.2 447.4 582.5 447.1 582.9 446.9 583.2 446.7 583.5 446.4 583.9 446.2 584.2 445.9 584.5 445.7 584.9 445.4 585.2 445.2 585.5 444.9 585.9 444.7 586.2 444.5 586.5 444.2 586.9 444.0 587.2 443.7 587.6 443.5 587.9 443.3 588.2 443.1 588.6 442.9 588.9 442.7 589.3 442.5 589.6 442.3 590.0 442.1 590.3 441.9 590.7 441.8 591.0 441.6 591.4 441.5 591.7 441.3 592.1 441.2 592.4 441.1 592.8 441.0 593.1 440.9 593.5 440.8 593.8 440.8 594.2 440.7 594.5 440.7 594.9 440.7 595.2 440.6 595.4 440.6 1614.0 25.5 1596.0 34.7Z"/>
<path fill="url(#g1)" d="M594.7 440.7 594.8 440.7 595.1 440.6 595.5 440.6 595.8 440.7 596.2 440.7 596.6 440.7 596.9 440.8 597.3 440.8 597.6 440.9 1616.2 25.6 1613.3 25.6Z"/>
<path fill="url(#g2)" d="M596.9 440.8 597.0 440.8 597.4 440.9 597.8 441.0 598.1 441.1 598.5 441.2 598.9 441.3 599.2 441.5 1617.8 26.0 1615.5 25.5Z"/>
<path fill="url(#g3)" d="M598.5 441.2 598.6 441.2 599.0 441.4 599.3 441.5 599.7 441.7 600.1 441.9 600.4 442.1 600.6 442.1 1619.0 26.5 1617.1 25.8Z"/>
<path fill="url(#g4)" d="M599.8 441.8 600.0 441.8 600.3 442.0 600.7 442.2 601.1 442.4 601.4 442.7 601.7 442.8 1620.1 27.1 1618.3 26.2Z"/>
<path fill="url(#g5)" d="M600.9 442.4 601.1 442.4 601.4 442.7 601.8 442.9 602.2 443.2 602.5 443.5 602.7 443.6 1621.0 27.7 1619.4 26.7Z"/>
<path fill="url(#g6)" d="M601.9 443.0 602.0 443.1 602.4 443.4 602.8 443.7 603.2 444.0 603.5 444.3 1621.8 28.3 1620.3 27.2Z"/>
<path fill="url(#g7)" d="M602.8 443.7 602.9 443.8 603.3 444.1 603.6 444.4 604.0 444.7 604.4 445.1 1622.6 28.9 1621.1 27.8Z"/>
<path fill="url(#g8)" d="M603.6 444.4 603.8 444.5 604.1 444.9 604.5 445.2 604.9 445.6 605.1 445.8 1623.3 29.5 1621.9 28.4Z"/>
<path fill="url(#g9)" d="M604.4 445.1 604.5 445.2 604.9 445.6 605.3 445.9 605.6 446.3 605.9 446.6 1624.0 30.2 1622.6 28.9Z"/>
<path fill="url(#g10)" d="M605.1 445.8 605.3 445.9 605.6 446.3 606.0 446.7 606.4 447.1 606.7 447.4 1624.7 30.9 1623.3 29.5Z"/>
<path fill="url(#g11)" d="M605.9 446.6 606.0 446.7 606.4 447.1 606.8 447.6 607.2 448.0 607.3 448.1 1625.3 31.4 1624.0 30.2Z"/>
<path fill="url(#g12)" d="M606.5 447.3 606.7 447.4 607.0 447.8 607.4 448.3 607.8 448.7 608.1 449.0 1626.0 32.2 1624.6 30.7Z"/>
<path fill="url(#g13)" d="M607.3 448.1 607.4 448.3 607.8 448.7 608.2 449.2 608.6 449.6 608.7 449.8 1626.6 32.8 1625.3 31.4Z"/>
<path fill="url(#g14)" d="M607.9 448.9 608.1 449.0 608.4 449.5 608.8 449.9 609.2 450.4 609.3 450.6 1627.2 33.5 1625.9 32.1Z"/>
<path fill="url(#g15)" d="M608.6 449.6 608.7 449.8 609.1 450.3 609.5 450.7 609.8 451.2 610.0 451.4 1627.8 34.2 1626.5 32.7Z"/>
<path fill="url(#g16)" d="M609.2 450.4 609.3 450.6 609.7 451.1 610.1 451.6 610.5 452.1 610.6 452.2 1628.4 34.9 1627.1 33.4Z"/>
<path fill="url(#g17)" d="M609.8 451.2 610.0 451.4 610.4 451.9 610.7 452.4 611.1 452.9 611.3 453.1 1629.0 35.6 1627.7 34.0Z"/>
<path fill="url(#g18)" d="M610.5 452.1 610.6 452.2 611.0 452.7 611.4 453.2 611.8 453.7 1629.4 36.1 1628.2 34.7Z"/>
<path fill="url(#g19)" d="M611.0 452.7 611.1 452.9 611.5 453.4 611.9 453.9 612.3 454.4 612.4 454.6 1630.0 36.9 1628.7 35.3Z"/>
<path fill="url(#g20)" d="M611.7 453.6 611.8 453.7 612.2 454.3 612.6 454.8 613.0 455.3 613.1 455.5 1630.6 37.6 1629.3 36.0Z"/>
<path fill="url(#g21)" d="M612.3 454.4 612.4 454.6 612.8 455.1 613.2 455.6 613.6 456.2 1631.1 38.2 1629.9 36.7Z"/>
<path fill="url(#g22)" d="M612.8 455.1 613.0 455.3 613.4 455.8 613.7 456.3 614.1 456.9 614.3 457.0 1631.7 38.9 1630.4 37.3Z"/>
<path fill="url(#g23)" d="M613.5 456.0 613.6 456.2 614.0 456.7 614.4 457.2 614.8 457.7 1632.2 39.5 1631.0 38.0Z"/>
<path fill="url(#g24)" d="M614.0 456.7 614.1 456.9 614.5 457.4 614.9 457.9 615.3 458.4 615.5 458.6 1632.8 40.2 1631.5 38.6Z"/>
<path fill="url(#g25)" d="M614.7 457.6 614.8 457.7 615.2 458.3 615.6 458.8 616.0 459.3 1633.3 40.8 1632.1 39.3Z"/>
<path fill="url(#g26)" d="M615.2 458.3 615.3 458.4 615.7 459.0 616.1 459.5 616.5 460.0 616.7 460.2 1633.9 41.5 1632.5 39.9Z"/>
<path fill="url(#g27)" d="M615.9 459.1 616.0 459.3 616.4 459.8 616.8 460.3 617.2 460.9 1634.4 42.1 1633.1 40.6Z"/>
<path fill="url(#g28)" d="M616.4 459.8 616.5 460.0 616.9 460.5 617.3 461.0 617.7 461.5 617.9 461.7 1635.0 42.8 1633.6 41.2Z"/>
<path fill="url(#g29)" d="M617.1 460.7 617.2 460.9 617.6 461.4 618.0 461.9 618.4 462.4 618.5 462.5 1635.6 43.5 1634.2 41.9Z"/>
<path fill="url(#g30)" d="M617.7 461.5 617.9 461.7 618.3 462.2 618.7 462.7 619.1 463.2 1636.1 44.0 1634.8 42.6Z"/>
<path fill="url(#g31)" d="M618.3 462.2 618.4 462.4 618.8 462.9 619.2 463.3 619.6 463.8 619.7 464.0 1636.7 44.7 1635.3 43.2Z"/>
<path fill="url(#g32)" d="M618.9 463.0 619.1 463.2 619.5 463.7 619.9 464.1 620.3 464.6 620.4 464.8 1637.3 45.4 1635.9 43.9Z"/>
<path fill="url(#g33)" d="M619.6 463.8 619.7 464.0 620.1 464.5 620.5 464.9 620.9 465.4 621.0 465.5 1637.9 46.0 1636.6 44.6Z"/>
<path fill="url(#g34)" d="M620.3 464.6 620.4 464.8 620.8 465.2 621.2 465.7 621.6 466.1 621.7 466.3 1638.5 46.6 1637.2 45.2Z"/>
<path fill="url(#g35)" d="M620.9 465.4 621.0 465.5 621.4 466.0 621.8 466.4 622.2 466.8 622.4 467.0 1639.1 47.2 1637.8 45.9Z"/>
<path fill="url(#g36)" d="M621.6 466.1 621.7 466.3 622.1 466.7 622.5 467.1 622.9 467.5 623.0 467.7 1639.7 47.8 1638.4 46.5Z"/>
<path fill="url(#g37)" d="M622.2 466.8 622.4 467.0 622.8 467.4 623.2 467.8 623.6 468.2 623.7 468.3 1640.3 48.3 1639.0 47.1Z"/>
<path fill="url(#g38)" d="M622.9 467.5 623.0 467.7 623.4 468.1 623.8 468.5 624.2 468.8 624.5 469.1 1641.1 48.9 1639.6 47.7Z"/>
<path fill="url(#g39)" d="M623.7 468.3 623.8 468.5 624.2 468.8 624.6 469.2 625.0 469.6 625.3 469.8 1641.8 49.5 1640.3 48.3Z"/>
<path fill="url(#g40)" d="M624.5 469.1 624.6 469.2 625.0 469.6 625.4 469.9 625.8 470.2 626.0 470.5 1642.5 50.0 1641.1 48.9Z"/>
<path fill="url(#g41)" d="M625.3 469.8 625.4 469.9 625.8 470.2 626.2 470.6 626.6 470.9 626.8 471.1 1643.3 50.5 1641.8 49.5Z"/>
<path fill="url(#g42)" d="M626.0 470.5 626.2 470.6 626.6 470.9 626.9 471.2 627.3 471.4 627.7 471.7 1644.1 51.1 1642.5 50.0Z"/>
<path fill="url(#g43)" d="M626.9 471.2 627.1 471.3 627.5 471.5 627.8 471.8 628.2 472.0 628.6 472.3 1644.9 51.5 1643.4 50.6Z"/>
<path fill="url(#g44)" d="M627.8 471.8 628.0 471.9 628.3 472.1 628.7 472.4 629.1 472.6 629.5 472.8 629.6 472.9 1645.9 52.0 1644.2 51.1Z"/>
<path fill="url(#g45)" d="M628.8 472.4 629.0 472.5 629.4 472.7 629.7 472.9 630.1 473.1 630.5 473.3 630.7 473.4 1647.0 52.4 1645.2 51.6Z"/>
<path fill="url(#g46)" d="M630.0 473.0 630.1 473.1 630.5 473.3 630.8 473.4 631.2 473.6 631.6 473.7 631.8 473.8 1648.0 52.6 1646.2 52.1Z"/>
<path fill="url(#g47)" d="M631.1 473.5 631.2 473.6 631.6 473.7 631.9 473.8 632.3 473.9 632.7 474.0 633.0 474.1 633.3 474.1 1649.4 52.9 1647.3 52.5Z"/>
<path fill="url(#g48)" d="M632.5 474.0 632.7 474.0 633.0 474.1 633.4 474.1 633.7 474.2 634.1 474.2 634.5 474.2 634.8 474.2 635.2 474.2 635.5 474.2 635.9 474.2 636.2 474.1 636.5 474.1 636.9 474.0 637.2 473.9 637.6 473.8 637.9 473.7 638.3 473.6 638.6 473.5 638.9 473.4 639.3 473.2 639.6 473.1 640.0 472.9 640.1 472.9 1656.1 51.4 1648.7 52.8Z"/>
<path fill="url(#g0)" d="M639.4 473.2 639.5 473.1 639.9 473.0 640.2 472.8 640.5 472.7 640.9 472.5 641.2 472.3 641.5 472.1 641.9 471.9 642.2 471.7 642.6 471.6 642.9 471.4 643.2 471.1 643.6 470.9 643.9 470.7 644.2 470.5 644.6 470.3 644.9 470.1 645.3 469.9 645.6 469.7 645.9 469.5 646.3 469.2 646.6 469.0 647.0 468.8 647.3 468.6 647.7 468.4 648.0 468.2 648.4 468.0 648.7 467.9 649.1 467.7 649.4 467.5 649.8 467.3 650.1 467.2 650.5 467.0 650.8 466.9 651.2 466.8 651.5 466.6 651.9 466.5 652.2 466.4 652.6 466.3 652.9 466.2 653.3 466.1 653.7 466.1 654.0 466.0 654.4 466.0 654.7 465.9 655.1 465.9 1671.2 44.6 1655.5 51.7Z"/>
<path fill="url(#g1)" d="M654.4 466.0 654.5 466.0 654.9 465.9 655.2 465.9 655.6 465.9 656.0 465.9 656.3 466.0 656.7 466.0 657.1 466.0 657.4 466.1 657.8 466.2 1673.8 44.7 1670.5 44.7Z"/>
<path fill="url(#g2)" d="M657.1 466.0 657.2 466.1 657.5 466.1 657.9 466.2 658.3 466.3 658.7 466.4 659.0 466.5 659.4 466.7 659.5 466.7 1675.5 45.1 1673.1 44.6Z"/>
<path fill="url(#g3)" d="M658.8 466.5 658.9 466.5 659.3 466.6 659.6 466.8 660.0 467.0 660.4 467.1 660.8 467.3 660.9 467.4 1676.8 45.6 1674.8 44.9Z"/>
<path fill="url(#g4)" d="M660.1 467.0 660.3 467.1 660.6 467.3 661.0 467.5 661.4 467.7 661.8 467.9 662.1 468.1 1678.0 46.2 1676.1 45.3Z"/>
<path fill="url(#g5)" d="M661.4 467.7 661.5 467.7 661.9 468.0 662.3 468.2 662.6 468.5 663.0 468.8 663.3 469.0 1679.0 46.8 1677.3 45.8Z"/>
<path fill="url(#g6)" d="M662.5 468.4 662.6 468.5 663.0 468.8 663.4 469.1 663.8 469.4 664.1 469.7 1679.9 47.4 1678.3 46.4Z"/>
<path fill="url(#g7)" d="M663.4 469.1 663.5 469.2 663.9 469.5 664.3 469.8 664.7 470.1 665.0 470.5 665.2 470.6 1680.8 48.1 1679.2 46.9Z"/>
<path fill="url(#g8)" d="M664.4 469.9 664.5 470.0 664.9 470.4 665.3 470.7 665.7 471.1 666.0 471.5 1681.6 48.9 1680.1 47.6Z"/>
<path fill="url(#g9)" d="M665.3 470.7 665.4 470.8 665.8 471.2 666.2 471.6 666.6 472.0 666.8 472.2 1682.3 49.5 1680.9 48.2Z"/>
<path fill="url(#g10)" d="M666.0 471.5 666.2 471.6 666.6 472.0 666.9 472.4 667.3 472.8 667.6 473.1 1683.1 50.2 1681.6 48.9Z"/>
<path fill="url(#g11)" d="M666.8 472.2 666.9 472.4 667.3 472.8 667.7 473.2 668.1 473.7 668.4 474.0 1683.8 50.9 1682.3 49.5Z"/>
<path fill="url(#g12)" d="M667.6 473.1 667.7 473.2 668.1 473.7 668.5 474.1 668.9 474.6 669.1 474.9 1684.5 51.7 1683.1 50.2Z"/>
<path fill="url(#g13)" d="M668.4 474.0 668.5 474.1 668.9 474.6 669.3 475.0 669.7 475.5 669.8 475.7 1685.1 52.4 1683.8 50.9Z"/>
<path fill="url(#g14)" d="M669.0 474.7 669.1 474.9 669.5 475.4 669.9 475.8 670.3 476.3 670.6 476.7 1685.8 53.2 1684.4 51.6Z"/>
<path fill="url(#g15)" d="M669.8 475.7 669.9 475.8 670.3 476.3 670.7 476.8 671.1 477.3 671.2 477.5 1686.4 53.9 1685.1 52.4Z"/>
<path fill="url(#g16)" d="M670.4 476.5 670.6 476.7 671.0 477.2 671.4 477.7 671.7 478.2 671.9 478.3 1687.0 54.6 1685.7 53.0Z"/>
<path fill="url(#g17)" d="M671.1 477.3 671.2 477.5 671.6 478.0 672.0 478.5 672.4 479.0 672.5 479.2 1687.6 55.3 1686.3 53.7Z"/>
<path fill="url(#g18)" d="M671.7 478.2 671.9 478.3 672.3 478.9 672.7 479.4 673.1 479.9 673.2 480.1 1688.2 56.1 1686.9 54.4Z"/>
<path fill="url(#g19)" d="M672.4 479.0 672.5 479.2 672.9 479.7 673.3 480.3 673.7 480.8 673.9 481.0 1688.8 56.8 1687.5 55.2Z"/>
<path fill="url(#g20)" d="M673.1 479.9 673.2 480.1 673.6 480.6 674.0 481.2 674.4 481.7 674.5 481.9 1689.4 57.6 1688.1 55.9Z"/>
<path fill="url(#g21)" d="M673.7 480.8 673.9 481.0 674.3 481.5 674.7 482.1 675.1 482.6 675.2 482.8 1690.0 58.3 1688.7 56.7Z"/>
<path fill="url(#g22)" d="M674.4 481.7 674.5 481.9 674.9 482.4 675.3 483.0 675.7 483.5 1690.5 58.9 1689.3 57.4Z"/>
<path fill="url(#g23)" d="M674.9 482.4 675.1 482.6 675.5 483.2 675.9 483.7 676.3 484.3 676.4 484.4 1691.1 59.7 1689.8 58.0Z"/>
<path fill="url(#g24)" d="M675.6 483.4 675.7 483.5 676.1 484.1 676.5 484.6 677.0 485.2 677.1 485.4 1691.7 60.5 1690.4 58.8Z"/>
<path fill="url(#g25)" d="M676.3 484.3 676.4 484.4 676.8 485.0 677.2 485.5 677.6 486.1 677.8 486.3 1692.3 61.2 1691.0 59.5Z"/>
<path fill="url(#g26)" d="M677.0 485.2 677.1 485.4 677.5 485.9 677.9 486.4 678.3 487.0 1692.8 61.8 1691.6 60.3Z"/>
<path fill="url(#g27)" d="M677.5 485.9 677.6 486.1 678.0 486.6 678.4 487.2 678.8 487.7 679.0 487.9 1693.4 62.6 1692.1 60.9Z"/>
<path fill="url(#g28)" d="M678.2 486.8 678.3 487.0 678.7 487.5 679.1 488.0 679.5 488.6 679.7 488.8 1694.1 63.3 1692.7 61.7Z"/>
<path fill="url(#g29)" d="M678.8 487.7 679.0 487.9 679.4 488.4 679.8 488.9 680.2 489.4 680.3 489.6 1694.7 64.0 1693.3 62.4Z"/>
<path fill="url(#g30)" d="M679.5 488.6 679.7 488.8 680.1 489.3 680.5 489.8 680.9 490.3 681.0 490.5 1695.3 64.7 1693.9 63.1Z"/>
<path fill="url(#g31)" d="M680.2 489.4 680.3 489.6 680.8 490.1 681.2 490.6 681.6 491.1 681.7 491.3 1695.9 65.4 1694.5 63.9Z"/>
<path fill="url(#g32)" d="M680.9 490.3 681.0 490.5 681.4 491.0 681.8 491.5 682.2 492.0 682.4 492.1 1696.5 66.1 1695.2 64.6Z"/>
<path fill="url(#g33)" d="M681.6 491.1 681.7 491.3 682.1 491.8 682.5 492.3 682.9 492.8 683.1 492.9 1697.2 66.8 1695.8 65.3Z"/>
<path fill="url(#g34)" d="M682.2 492.0 682.4 492.1 682.8 492.6 683.2 493.1 683.6 493.5 683.7 493.7 1697.8 67.4 1696.4 66.0Z"/>
<path fill="url(#g35)" d="M682.9 492.8 683.1 492.9 683.5 493.4 683.9 493.8 684.3 494.3 684.5 494.6 1698.5 68.2 1697.0 66.6Z"/>
<path fill="url(#g36)" d="M683.7 493.7 683.9 493.8 684.3 494.3 684.7 494.7 685.1 495.2 685.2 495.3 1699.1 68.7 1697.8 67.4Z"/>
<path fill="url(#g37)" d="M684.4 494.4 684.5 494.6 685.0 495.0 685.4 495.4 685.8 495.9 686.0 496.1 1699.9 69.4 1698.4 68.0Z"/>
<path fill="url(#g38)" d="M685.2 495.3 685.4 495.4 685.8 495.9 686.2 496.3 686.6 496.6 686.8 496.9 1700.6 70.1 1699.1 68.7Z"/>
<path fill="url(#g39)" d="M686.0 496.1 686.2 496.3 686.6 496.6 687.0 497.0 687.4 497.4 687.6 497.6 1701.4 70.6 1699.9 69.4Z"/>
<path fill="url(#g40)" d="M686.8 496.9 687.0 497.0 687.4 497.4 687.8 497.7 688.2 498.1 688.4 498.3 1702.1 71.2 1700.6 70.1Z"/>
<path fill="url(#g41)" d="M687.6 497.6 687.8 497.7 688.2 498.1 688.5 498.4 688.9 498.7 689.3 499.0 1703.0 71.8 1701.4 70.6Z"/>
<path fill="url(#g42)" d="M688.5 498.4 688.7 498.5 689.1 498.8 689.5 499.1 689.9 499.4 690.2 499.7 1703.8 72.3 1702.2 71.3Z"/>
<path fill="url(#g43)" d="M689.5 499.1 689.6 499.2 690.0 499.5 690.4 499.8 690.8 500.0 691.1 500.3 691.3 500.3 1704.8 72.8 1703.1 71.9Z"/>
<path fill="url(#g44)" d="M690.5 499.9 690.6 499.9 691.0 500.2 691.4 500.4 691.8 500.6 692.2 500.8 692.3 500.9 1705.8 73.3 1704.1 72.5Z"/>
<path fill="url(#g45)" d="M691.5 500.5 691.7 500.6 692.0 500.8 692.4 501.0 692.8 501.2 693.2 501.3 693.4 501.4 1706.8 73.7 1705.0 73.0Z"/>
<path fill="url(#g46)" d="M692.7 501.1 692.8 501.2 693.2 501.3 693.5 501.5 693.9 501.6 694.3 501.7 694.7 501.8 694.8 501.9 1708.2 74.0 1706.1 73.4Z"/>
<path fill="url(#g47)" d="M694.0 501.7 694.2 501.7 694.5 501.8 694.9 501.9 695.3 502.0 695.6 502.1 696.0 502.1 696.4 502.2 696.5 502.2 1709.8 74.2 1707.4 73.8Z"/>
<path fill="url(#g48)" d="M695.8 502.1 695.9 502.1 696.3 502.2 696.6 502.2 697.0 502.2 697.3 502.2 697.7 502.2 698.0 502.2 698.4 502.2 698.8 502.2 699.1 502.1 699.5 502.1 699.8 502.0 700.2 501.9 700.5 501.8 700.9 501.7 701.2 501.6 701.6 501.5 701.9 501.3 702.3 501.2 702.6 501.1 702.9 500.9 703.2 500.8 1716.4 72.6 1709.1 74.1Z"/>
<path fill="url(#g0)" d="M702.5 501.1 702.6 501.1 702.9 500.9 703.3 500.7 703.6 500.6 704.0 500.4 704.3 500.2 704.7 500.0 705.0 499.8 705.4 499.6 705.7 499.4 706.1 499.2 706.4 499.0 706.7 498.8 707.1 498.6 707.4 498.4 707.8 498.2 708.1 498.0 708.5 497.8 708.8 497.6 709.2 497.4 709.5 497.2 709.9 496.9 710.2 496.7 710.6 496.5 711.0 496.4 711.3 496.2 711.7 496.0 712.0 495.8 712.4 495.6 712.7 495.5 713.1 495.3 713.5 495.1 713.8 495.0 714.2 494.9 714.6 494.7 714.9 494.6 715.3 494.5 715.7 494.4 716.0 494.3 716.4 494.3 716.8 494.2 717.1 494.1 717.5 494.1 717.9 494.1 718.1 494.0 1731.4 65.9 1715.7 72.9Z"/>
<path fill="url(#g1)" d="M717.4 494.1 717.5 494.1 717.9 494.1 718.2 494.0 718.6 494.0 719.0 494.0 719.4 494.1 719.7 494.1 720.1 494.1 720.5 494.2 720.9 494.3 1734.1 66.0 1730.7 66.0Z"/>
<path fill="url(#g2)" d="M720.1 494.1 720.2 494.2 720.6 494.2 721.0 494.3 721.4 494.4 721.7 494.5 722.1 494.6 722.5 494.8 722.8 494.9 1735.9 66.4 1733.3 65.9Z"/>
<path fill="url(#g3)" d="M722.0 494.6 722.1 494.6 722.5 494.8 722.9 494.9 723.3 495.1 723.6 495.3 724.0 495.4 724.2 495.5 1737.2 66.9 1735.1 66.2Z"/>
<path fill="url(#g4)" d="M723.4 495.1 723.5 495.2 723.9 495.4 724.3 495.6 724.7 495.8 725.0 496.0 725.4 496.3 1738.4 67.5 1736.5 66.6Z"/>
<path fill="url(#g5)" d="M724.7 495.8 724.8 495.9 725.2 496.1 725.6 496.4 725.9 496.6 726.3 496.9 726.6 497.1 1739.5 68.1 1737.7 67.1Z"/>
<path fill="url(#g6)" d="M725.8 496.5 725.9 496.6 726.3 496.9 726.7 497.2 727.1 497.5 727.5 497.8 727.6 497.9 1740.5 68.8 1738.8 67.7Z"/>
<path fill="url(#g7)" d="M726.8 497.3 727.0 497.4 727.4 497.7 727.8 498.0 728.1 498.4 728.5 498.7 728.7 498.8 1741.4 69.6 1739.7 68.3Z"/>
<path fill="url(#g8)" d="M727.9 498.1 728.0 498.3 728.4 498.6 728.8 499.0 729.2 499.3 729.4 499.6 1742.2 70.2 1740.7 69.0Z"/>
<path fill="url(#g9)" d="M728.7 498.8 728.8 499.0 729.2 499.3 729.6 499.7 730.0 500.1 730.4 500.5 1743.0 71.0 1741.4 69.6Z"/>
<path fill="url(#g10)" d="M729.6 499.7 729.7 499.9 730.1 500.3 730.5 500.7 730.9 501.1 731.1 501.4 1743.7 71.7 1742.3 70.3Z"/>
<path fill="url(#g11)" d="M730.4 500.5 730.5 500.7 730.9 501.1 731.3 501.5 731.7 502.0 731.9 502.3 1744.5 72.4 1743.0 71.0Z"/>
<path fill="url(#g12)" d="M731.1 501.4 731.3 501.5 731.7 502.0 732.1 502.4 732.5 502.9 732.7 503.2 1745.2 73.2 1743.7 71.7Z"/>
<path fill="url(#g13)" d="M731.9 502.3 732.1 502.4 732.5 502.9 732.9 503.4 733.3 503.9 733.5 504.2 1745.9 74.0 1744.5 72.4Z"/>
<path fill="url(#g14)" d="M732.7 503.2 732.9 503.4 733.3 503.9 733.7 504.3 734.1 504.8 734.2 505.0 1746.5 74.7 1745.2 73.2Z"/>
<path fill="url(#g15)" d="M733.4 504.0 733.5 504.2 733.9 504.7 734.3 505.2 734.7 505.7 735.0 506.0 1747.3 75.5 1745.8 73.8Z"/>
<path fill="url(#g16)" d="M734.2 505.0 734.3 505.2 734.7 505.7 735.1 506.2 735.5 506.7 735.7 506.9 1747.9 76.3 1746.5 74.7Z"/>
<path fill="url(#g17)" d="M734.9 505.9 735.0 506.0 735.4 506.6 735.8 507.1 736.2 507.6 736.4 507.8 1748.5 77.0 1747.1 75.4Z"/>
<path fill="url(#g18)" d="M735.5 506.7 735.7 506.9 736.1 507.4 736.5 508.0 736.9 508.5 737.0 508.7 1749.1 77.8 1747.8 76.1Z"/>
<path fill="url(#g19)" d="M736.2 507.6 736.4 507.8 736.8 508.3 737.2 508.9 737.6 509.4 737.7 509.6 1749.7 78.5 1748.4 76.8Z"/>
<path fill="url(#g20)" d="M736.9 508.5 737.0 508.7 737.4 509.3 737.9 509.8 738.3 510.4 738.4 510.5 1750.3 79.3 1749.0 77.6Z"/>
<path fill="url(#g21)" d="M737.6 509.4 737.7 509.6 738.1 510.2 738.5 510.7 739.0 511.3 739.1 511.5 1751.0 80.1 1749.6 78.4Z"/>
<path fill="url(#g22)" d="M738.3 510.4 738.4 510.5 738.8 511.1 739.2 511.7 739.6 512.2 739.8 512.4 1751.6 80.8 1750.2 79.1Z"/>
<path fill="url(#g23)" d="M739.0 511.3 739.1 511.5 739.5 512.0 739.9 512.6 740.3 513.2 740.5 513.3 1752.2 81.6 1750.8 79.9Z"/>
<path fill="url(#g24)" d="M739.6 512.2 739.8 512.4 740.2 513.0 740.6 513.5 741.0 514.1 741.2 514.3 1752.8 82.4 1751.5 80.7Z"/>
<path fill="url(#g25)" d="M740.3 513.2 740.5 513.3 740.9 513.9 741.3 514.5 741.7 515.0 1753.3 83.0 1752.1 81.5Z"/>
<path fill="url(#g26)" d="M740.9 513.9 741.0 514.1 741.4 514.6 741.8 515.2 742.3 515.8 742.4 515.9 1754.0 83.8 1752.6 82.1Z"/>
<path fill="url(#g27)" d="M741.6 514.8 741.7 515.0 742.1 515.6 742.5 516.1 743.0 516.7 743.1 516.9 1754.6 84.6 1753.2 82.9Z"/>
<path fill="url(#g28)" d="M742.3 515.8 742.4 515.9 742.8 516.5 743.2 517.0 743.6 517.6 743.8 517.8 1755.2 85.3 1753.8 83.7Z"/>
<path fill="url(#g29)" d="M743.0 516.7 743.1 516.9 743.5 517.4 743.9 517.9 744.3 518.5 744.5 518.7 1755.8 86.1 1754.5 84.4Z"/>
<path fill="url(#g30)" d="M743.6 517.6 743.8 517.8 744.2 518.3 744.6 518.8 745.0 519.4 745.2 519.5 1756.5 86.8 1755.1 85.2Z"/>
<path fill="url(#g31)" d="M744.3 518.5 744.5 518.7 744.9 519.2 745.3 519.7 745.7 520.2 745.9 520.4 1757.1 87.5 1755.7 85.9Z"/>
<path fill="url(#g32)" d="M745.0 519.4 745.2 519.5 745.6 520.1 746.0 520.6 746.4 521.1 746.6 521.2 1757.7 88.2 1756.4 86.7Z"/>
<path fill="url(#g33)" d="M745.7 520.2 745.9 520.4 746.3 520.9 746.7 521.4 747.1 521.9 747.2 522.1 1758.4 88.9 1757.0 87.4Z"/>
<path fill="url(#g34)" d="M746.4 521.1 746.6 521.2 747.0 521.7 747.4 522.2 747.8 522.7 748.1 523.0 1759.1 89.7 1757.6 88.1Z"/>
<path fill="url(#g35)" d="M747.2 522.1 747.4 522.2 747.8 522.7 748.2 523.2 748.6 523.6 748.8 523.8 1759.8 90.3 1758.4 88.9Z"/>
<path fill="url(#g36)" d="M747.9 522.8 748.1 523.0 748.5 523.5 748.9 523.9 749.3 524.4 749.6 524.6 1760.5 91.0 1759.0 89.6Z"/>
<path fill="url(#g37)" d="M748.8 523.8 748.9 523.9 749.3 524.4 749.7 524.8 750.1 525.2 750.4 525.5 1761.3 91.7 1759.8 90.3Z"/>
<path fill="url(#g38)" d="M749.6 524.6 749.7 524.8 750.1 525.2 750.5 525.6 750.9 526.0 751.2 526.3 1762.0 92.4 1760.5 91.0Z"/>
<path fill="url(#g39)" d="M750.4 525.5 750.5 525.6 750.9 526.0 751.3 526.4 751.7 526.8 752.0 527.0 1762.8 93.0 1761.3 91.7Z"/>
<path fill="url(#g40)" d="M751.2 526.3 751.3 526.4 751.7 526.8 752.1 527.1 752.5 527.5 752.9 527.8 1763.6 93.6 1762.0 92.4Z"/>
<path fill="url(#g41)" d="M752.1 527.1 752.3 527.2 752.7 527.6 753.1 527.9 753.5 528.2 753.7 528.4 1764.4 94.1 1762.9 93.1Z"/>
<path fill="url(#g42)" d="M752.9 527.8 753.1 527.9 753.5 528.2 753.9 528.5 754.3 528.8 754.7 529.1 754.8 529.2 1765.4 94.7 1763.6 93.6Z"/>
<path fill="url(#g43)" d="M754.0 528.6 754.1 528.7 754.5 529.0 754.9 529.2 755.3 529.5 755.7 529.7 755.8 529.8 1766.3 95.2 1764.6 94.3Z"/>
<path fill="url(#g44)" d="M755.1 529.3 755.2 529.4 755.6 529.7 756.0 529.9 756.3 530.1 756.7 530.3 757.0 530.4 1767.4 95.7 1765.6 94.9Z"/>
<path fill="url(#g45)" d="M756.2 530.0 756.3 530.1 756.7 530.3 757.1 530.5 757.5 530.6 757.9 530.8 758.3 530.9 1768.7 96.1 1766.7 95.4Z"/>
<path fill="url(#g46)" d="M757.5 530.6 757.6 530.7 758.0 530.8 758.4 531.0 758.8 531.1 759.1 531.2 759.5 531.3 759.7 531.3 1770.1 96.4 1767.9 95.9Z"/>
<path fill="url(#g47)" d="M759.0 531.2 759.1 531.2 759.5 531.3 759.9 531.4 760.2 531.4 760.6 531.5 761.0 531.5 761.3 531.5 761.7 531.6 1772.0 96.4 1769.4 96.2Z"/>
<path fill="url(#g48)" d="M761.0 531.5 761.1 531.5 761.5 531.5 761.8 531.6 762.2 531.5 762.6 531.5 762.9 531.5 763.3 531.5 763.6 531.4 764.0 531.3 764.3 531.3 764.7 531.2 765.1 531.1 765.4 531.0 765.8 530.9 766.1 530.7 766.5 530.6 766.8 530.5 767.2 530.3 767.5 530.2 767.9 530.0 1778.1 94.7 1771.3 96.5Z"/>
<path fill="url(#g0)" d="M767.2 530.3 767.3 530.3 767.7 530.1 768.0 529.9 768.4 529.8 768.7 529.6 769.1 529.4 769.4 529.2 769.8 529.0 770.1 528.8 770.5 528.6 770.8 528.4 771.2 528.2 771.5 528.0 771.9 527.8 772.3 527.6 772.6 527.4 773.0 527.2 773.3 527.0 773.7 526.8 774.1 526.6 774.4 526.4 774.8 526.2 775.2 526.0 775.5 525.9 775.9 525.7 776.2 525.5 776.6 525.3 777.0 525.2 777.4 525.0 777.7 524.9 778.1 524.7 778.5 524.6 778.8 524.5 779.2 524.4 779.6 524.3 780.0 524.2 780.3 524.1 780.7 524.1 781.1 524.0 781.5 524.0 781.8 523.9 782.0 523.9 1792.2 88.7 1777.4 95.1Z"/>
<path fill="url(#g1)" d="M781.2 524.0 781.3 524.0 781.7 523.9 782.1 523.9 782.5 523.9 782.9 523.9 783.2 523.9 783.6 523.9 784.0 524.0 784.4 524.0 784.8 524.1 1794.9 88.7 1791.5 88.8Z"/>
<path fill="url(#g2)" d="M784.0 524.0 784.1 524.0 784.5 524.0 784.9 524.1 785.3 524.2 785.7 524.3 786.1 524.4 786.5 524.6 786.7 524.6 1796.8 89.1 1794.2 88.6Z"/>
<path fill="url(#g3)" d="M785.9 524.4 786.1 524.4 786.5 524.6 786.8 524.7 787.2 524.9 787.6 525.0 788.0 525.2 788.1 525.3 1798.2 89.5 1796.0 88.9Z"/>
<path fill="url(#g4)" d="M787.4 524.9 787.5 525.0 787.9 525.2 788.3 525.4 788.7 525.6 789.1 525.8 789.4 526.0 1799.4 90.1 1797.4 89.3Z"/>
<path fill="url(#g5)" d="M788.7 525.6 788.8 525.6 789.2 525.9 789.6 526.1 790.0 526.4 790.4 526.7 790.6 526.9 1800.5 90.8 1798.6 89.8Z"/>
<path fill="url(#g6)" d="M789.8 526.3 790.0 526.4 790.4 526.7 790.8 527.0 791.1 527.3 791.5 527.6 791.7 527.7 1801.5 91.4 1799.8 90.3Z"/>
<path fill="url(#g7)" d="M790.9 527.1 791.0 527.2 791.4 527.5 791.8 527.8 792.2 528.1 792.6 528.5 1802.3 92.1 1800.7 90.9Z"/>
<path fill="url(#g8)" d="M791.8 527.8 791.9 527.9 792.3 528.2 792.7 528.6 793.1 529.0 793.5 529.4 1803.2 92.8 1801.6 91.5Z"/>
<path fill="url(#g9)" d="M792.7 528.6 792.9 528.7 793.3 529.1 793.7 529.5 794.1 529.9 794.3 530.2 1803.9 93.5 1802.5 92.2Z"/>
<path fill="url(#g10)" d="M793.5 529.4 793.7 529.5 794.1 529.9 794.5 530.3 794.9 530.7 795.3 531.1 1804.8 94.3 1803.2 92.8Z"/>
<path fill="url(#g11)" d="M794.5 530.3 794.6 530.4 795.0 530.8 795.4 531.3 795.8 531.7 796.1 532.0 1805.5 95.0 1804.1 93.6Z"/>
<path fill="url(#g12)" d="M795.3 531.1 795.4 531.3 795.8 531.7 796.2 532.2 796.6 532.6 796.8 532.8 1806.2 95.7 1804.8 94.3Z"/>
<path fill="url(#g13)" d="M795.9 531.9 796.1 532.0 796.5 532.5 796.9 533.0 797.3 533.4 797.6 533.8 1806.9 96.5 1805.4 94.9Z"/>
<path fill="url(#g14)" d="M796.8 532.8 796.9 533.0 797.3 533.4 797.7 533.9 798.1 534.4 798.3 534.6 1807.5 97.1 1806.2 95.7Z"/>
<path fill="url(#g15)" d="M797.4 533.6 797.6 533.8 798.0 534.3 798.4 534.8 798.8 535.3 799.1 535.6 1808.3 98.0 1806.8 96.3Z"/>
<path fill="url(#g16)" d="M798.3 534.6 798.4 534.8 798.8 535.3 799.2 535.8 799.6 536.3 799.8 536.5 1808.9 98.7 1807.5 97.1Z"/>
<path fill="url(#g17)" d="M798.9 535.4 799.1 535.6 799.5 536.1 799.9 536.6 800.3 537.2 800.5 537.3 1809.5 99.4 1808.2 97.8Z"/>
<path fill="url(#g18)" d="M799.6 536.3 799.8 536.5 800.2 537.0 800.6 537.5 801.0 538.1 801.1 538.2 1810.2 100.2 1808.8 98.6Z"/>
<path fill="url(#g19)" d="M800.3 537.2 800.5 537.3 800.9 537.9 801.3 538.4 801.7 539.0 801.8 539.1 1810.8 100.9 1809.4 99.3Z"/>
<path fill="url(#g20)" d="M801.0 538.1 801.1 538.2 801.6 538.8 802.0 539.3 802.4 539.9 802.5 540.1 1811.4 101.7 1810.0 100.0Z"/>
<path fill="url(#g21)" d="M801.7 539.0 801.8 539.1 802.3 539.7 802.7 540.2 803.1 540.8 803.2 541.0 1812.0 102.5 1810.7 100.8Z"/>
<path fill="url(#g22)" d="M802.4 539.9 802.5 540.1 803.0 540.6 803.4 541.2 803.8 541.7 803.9 541.9 1812.7 103.2 1811.3 101.5Z"/>
<path fill="url(#g23)" d="M803.1 540.8 803.2 541.0 803.7 541.5 804.1 542.1 804.5 542.6 804.6 542.8 1813.3 104.0 1811.9 102.3Z"/>
<path fill="url(#g24)" d="M803.8 541.7 803.9 541.9 804.4 542.4 804.8 543.0 805.2 543.5 1813.8 104.6 1812.6 103.1Z"/>
<path fill="url(#g25)" d="M804.4 542.4 804.5 542.6 804.9 543.2 805.3 543.7 805.8 544.3 805.9 544.5 1814.5 105.4 1813.1 103.7Z"/>
<path fill="url(#g26)" d="M805.1 543.4 805.2 543.5 805.6 544.1 806.0 544.6 806.5 545.2 806.6 545.4 1815.1 106.1 1813.7 104.4Z"/>
<path fill="url(#g27)" d="M805.8 544.3 805.9 544.5 806.3 545.0 806.7 545.5 807.2 546.1 807.3 546.3 1815.7 106.9 1814.3 105.2Z"/>
<path fill="url(#g28)" d="M806.5 545.2 806.6 545.4 807.0 545.9 807.5 546.4 807.9 547.0 808.0 547.1 1816.4 107.6 1815.0 106.0Z"/>
<path fill="url(#g29)" d="M807.2 546.1 807.3 546.3 807.7 546.8 808.2 547.3 808.6 547.8 808.7 548.0 1817.0 108.3 1815.6 106.7Z"/>
<path fill="url(#g30)" d="M807.9 547.0 808.0 547.1 808.4 547.7 808.9 548.2 809.3 548.7 809.4 548.9 1817.7 109.0 1816.3 107.5Z"/>
<path fill="url(#g31)" d="M808.6 547.8 808.7 548.0 809.2 548.5 809.6 549.0 810.0 549.5 810.1 549.7 1818.3 109.7 1816.9 108.2Z"/>
<path fill="url(#g32)" d="M809.3 548.7 809.4 548.9 809.9 549.4 810.3 549.9 810.7 550.4 810.8 550.5 1819.0 110.4 1817.5 108.9Z"/>
<path fill="url(#g33)" d="M810.0 549.5 810.1 549.7 810.6 550.2 811.0 550.7 1819.1 110.5 1818.2 109.6Z"/>
<path fill="url(#g34)" d="M810.8 550.5 811.0 550.7 1819.1 110.5 1819.0 110.4Z"/>
<path fill="none" stroke="url(#g46)" stroke-width="1.1" d="M149.44 245.46L1187.0 -120.0M200.71 271.11L1234.7 -104.3M252.75 294.54L1284.8 -86.1M305.84 316.83L1336.0 -68.9M359.31 339.44L1387.5 -51.6M414.84 362.73L1440.9 -33.9M470.05 389.87L1493.7 -12.7M529.76 417.96L1550.9 8.9M591.23 441.52L1609.9 26.5M650.57 466.99L1666.7 45.7M713.35 495.20L1726.7 67.2M776.86 525.24L1787.1 90.1"/>
<g clip-path="url(#shc)" fill="none" stroke="url(#hg)" stroke-linecap="round"><path d="M152.1 246.4L589.8 91.9M208.0 271.3L699.7 90.7M262.0 294.8L802.6 90.4M314.0 317.3L828.0 120.8M368.0 339.8L828.0 161.7M425.0 363.3L827.9 202.9M480.0 389.8L827.8 248.7M542.0 417.8L827.6 295.7M603.0 440.8L827.6 345.3M664.0 466.8L827.4 394.6M726.0 494.8L827.3 448.2M788.0 524.3L828.2 509.9" stroke-width="11" stroke-opacity="0.12"/><path d="M152.1 246.4L589.8 91.9M208.0 271.3L699.7 90.7M262.0 294.8L802.6 90.4M314.0 317.3L828.0 120.8M368.0 339.8L828.0 161.7M425.0 363.3L827.9 202.9M480.0 389.8L827.8 248.7M542.0 417.8L827.6 295.7M603.0 440.8L827.6 345.3M664.0 466.8L827.4 394.6M726.0 494.8L827.3 448.2M788.0 524.3L828.2 509.9" transform="translate(-1.2,-3.4)" stroke-width="5" stroke-opacity="0.13"/><path d="M152.1 246.4L589.8 91.9M208.0 271.3L699.7 90.7M262.0 294.8L802.6 90.4M314.0 317.3L828.0 120.8M368.0 339.8L828.0 161.7M425.0 363.3L827.9 202.9M480.0 389.8L827.8 248.7M542.0 417.8L827.6 295.7M603.0 440.8L827.6 345.3M664.0 466.8L827.4 394.6M726.0 494.8L827.3 448.2M788.0 524.3L828.2 509.9" stroke-width="5.5" stroke-opacity="0.3"/><path d="M152.1 246.4L589.8 91.9M208.0 271.3L699.7 90.7M262.0 294.8L802.6 90.4M314.0 317.3L828.0 120.8M368.0 339.8L828.0 161.7M425.0 363.3L827.9 202.9M480.0 389.8L827.8 248.7M542.0 417.8L827.6 295.7M603.0 440.8L827.6 345.3M664.0 466.8L827.4 394.6M726.0 494.8L827.3 448.2M788.0 524.3L828.2 509.9" stroke-width="1.9" stroke-opacity="0.9"/></g>
<path fill="#dadade" stroke="#dadade" stroke-width="0.9" stroke-linejoin="round" d="M138.74 251.54 138.83 251.51 138.92 251.47 139.01 251.44 139.10 251.41 139.19 251.37 139.28 251.33 139.37 251.30 139.46 251.26 139.54 251.22 139.63 251.18 139.72 251.14 139.81 251.09 139.90 251.05 139.99 251.01 140.08 250.96 140.17 250.92 140.26 250.87 140.35 250.83 140.44 250.78 140.52 250.73 140.61 250.69 140.70 250.64 140.79 250.59 140.88 250.54 140.97 250.49 141.06 250.44 141.15 250.38 141.24 250.33 141.32 250.28 141.41 250.23 141.50 250.17 141.59 250.12 141.68 250.06 141.77 250.01 141.86 249.95 141.95 249.89 142.04 249.84 142.12 249.78 142.21 249.72 142.30 249.67 142.39 249.61 142.48 249.55 142.57 249.49 142.66 249.43 142.75 249.37 142.84 249.31 142.93 249.25 143.01 249.19 143.10 249.13 143.19 249.07 143.28 249.01 143.37 248.95 143.46 248.89 143.55 248.83 143.64 248.77 143.73 248.71 143.82 248.65 143.91 248.59 144.00 248.52 144.09 248.46 144.18 248.40 144.27 248.34 144.36 248.28 144.45 248.22 144.54 248.16 144.63 248.10 144.72 248.04 144.81 247.97 144.90 247.91 144.99 247.85 145.08 247.79 145.17 247.73 145.26 247.67 145.36 247.61 145.45 247.55 145.54 247.50 145.63 247.44 145.72 247.38 145.81 247.32 145.90 247.26 145.99 247.20 146.09 247.15 146.18 247.09 146.27 247.03 146.36 246.98 146.45 246.92 146.55 246.87 146.64 246.81 146.73 246.76 146.82 246.70 146.91 246.65 147.01 246.60 147.10 246.55 147.19 246.49 147.28 246.44 147.38 246.39 147.47 246.34 147.56 246.29 147.66 246.24 147.75 246.20 147.84 246.15 147.94 246.10 148.03 246.06 148.12 246.01 148.22 245.97 148.31 245.92 148.41 245.88 148.50 245.84 148.59 245.80 148.69 245.76 148.78 245.72 148.88 245.68 148.97 245.64 149.07 245.60 149.16 245.56 149.25 245.53 149.35 245.49 149.44 245.46 149.54 245.43 149.63 245.40 149.73 245.36 149.82 245.33 149.92 245.30 150.02 245.28 150.11 245.25 150.21 245.22 150.30 245.20 150.40 245.17 150.49 245.15 150.59 245.13 150.69 245.11 150.78 245.09 150.88 245.07 150.97 245.05 151.07 245.03 151.17 245.02 151.26 245.01 151.36 244.99 151.46 244.99 151.55 244.98 151.65 244.97 151.75 244.97 151.84 244.97 151.94 244.97 152.04 244.97 152.14 244.98 152.23 244.98 152.33 244.99 152.43 245.00 152.53 245.02 152.62 245.03 152.72 245.05 152.82 245.07 152.92 245.09 153.02 245.12 153.11 245.14 153.21 245.17 153.31 245.20 153.41 245.23 153.51 245.26 153.60 245.30 153.70 245.34 153.80 245.38 153.90 245.42 154.00 245.46 154.10 245.51 154.20 245.55 154.29 245.60 154.39 245.65 154.49 245.71 154.59 245.76 154.69 245.82 154.79 245.88ZM188.81 278.32 188.91 278.29 189.00 278.26 189.09 278.22 189.18 278.18 189.28 278.15 189.37 278.11 189.46 278.07 189.55 278.03 189.64 277.99 189.74 277.94 189.83 277.90 189.92 277.86 190.01 277.81 190.10 277.77 190.20 277.72 190.29 277.67 190.38 277.62 190.47 277.58 190.56 277.53 190.65 277.48 190.75 277.42 190.84 277.37 190.93 277.32 191.02 277.27 191.11 277.21 191.20 277.16 191.29 277.10 191.39 277.05 191.48 276.99 191.57 276.93 191.66 276.87 191.75 276.81 191.84 276.76 191.93 276.70 192.03 276.64 192.12 276.57 192.21 276.51 192.30 276.45 192.39 276.39 192.48 276.33 192.57 276.26 192.67 276.20 192.76 276.14 192.85 276.07 192.94 276.01 193.03 275.94 193.13 275.88 193.22 275.81 193.31 275.74 193.40 275.68 193.49 275.61 193.58 275.54 193.68 275.48 193.77 275.41 193.86 275.34 193.95 275.27 194.05 275.21 194.14 275.14 194.23 275.07 194.32 275.00 194.42 274.93 194.51 274.86 194.60 274.80 194.69 274.73 194.79 274.66 194.88 274.59 194.97 274.52 195.06 274.45 195.16 274.38 195.25 274.32 195.34 274.25 195.44 274.18 195.53 274.11 195.62 274.04 195.72 273.97 195.81 273.91 195.91 273.84 196.00 273.77 196.09 273.70 196.19 273.64 196.28 273.57 196.38 273.50 196.47 273.44 196.56 273.37 196.66 273.31 196.75 273.24 196.85 273.18 196.94 273.11 197.04 273.05 197.13 272.99 197.23 272.92 197.32 272.86 197.42 272.80 197.51 272.74 197.61 272.68 197.70 272.62 197.80 272.56 197.89 272.50 197.99 272.44 198.09 272.38 198.18 272.32 198.28 272.27 198.37 272.21 198.47 272.16 198.57 272.10 198.66 272.05 198.76 272.00 198.85 271.94 198.95 271.89 199.05 271.84 199.15 271.79 199.24 271.74 199.34 271.69 199.44 271.64 199.53 271.60 199.63 271.55 199.73 271.51 199.83 271.46 199.92 271.42 200.02 271.38 200.12 271.34 200.22 271.30 200.31 271.26 200.41 271.22 200.51 271.18 200.61 271.14 200.71 271.11 200.80 271.08 200.90 271.04 201.00 271.01 201.10 270.98 201.20 270.95 201.30 270.92 201.40 270.89 201.50 270.87 201.59 270.84 201.69 270.82 201.79 270.79 201.89 270.77 201.99 270.75 202.09 270.73 202.19 270.71 202.29 270.69 202.39 270.68 202.49 270.66 202.59 270.65 202.69 270.64 202.79 270.63 202.89 270.62 202.99 270.61 203.09 270.60 203.19 270.60 203.29 270.59 203.39 270.59 203.49 270.59 203.59 270.59 203.69 270.59 203.79 270.59 203.89 270.59 204.00 270.60 204.10 270.60 204.20 270.61 204.30 270.62 204.40 270.63 204.50 270.64 204.60 270.66 204.70 270.67 204.81 270.69 204.91 270.70 205.01 270.72 205.11 270.74 205.21 270.76 205.31 270.79 205.42 270.81 205.52 270.84 205.62 270.87 205.72 270.89 205.82 270.92 205.93 270.96 206.03 270.99 206.13 271.02 206.23 271.06 206.33 271.10 206.44 271.14 206.54 271.18 206.64 271.22 206.75 271.26 206.85 271.31 206.95 271.35 207.05 271.40 207.16 271.45 207.26 271.50 207.36 271.55 207.47 271.61ZM240.70 301.82 240.80 301.78 240.89 301.75 240.99 301.71 241.08 301.67 241.18 301.63 241.27 301.59 241.37 301.55 241.46 301.51 241.55 301.47 241.65 301.43 241.74 301.38 241.84 301.34 241.93 301.29 242.03 301.24 242.12 301.20 242.21 301.15 242.31 301.10 242.40 301.05 242.50 301.00 242.59 300.95 242.69 300.89 242.78 300.84 242.87 300.79 242.97 300.73 243.06 300.68 243.16 300.62 243.25 300.57 243.34 300.51 243.44 300.45 243.53 300.39 243.63 300.33 243.72 300.27 243.81 300.21 243.91 300.15 244.00 300.09 244.10 300.03 244.19 299.97 244.29 299.90 244.38 299.84 244.47 299.78 244.57 299.71 244.66 299.65 244.76 299.58 244.85 299.52 244.95 299.45 245.04 299.38 245.14 299.32 245.23 299.25 245.32 299.18 245.42 299.12 245.51 299.05 245.61 298.98 245.70 298.91 245.80 298.84 245.89 298.77 245.99 298.70 246.08 298.64 246.18 298.57 246.27 298.50 246.37 298.43 246.47 298.36 246.56 298.29 246.66 298.22 246.75 298.15 246.85 298.08 246.94 298.01 247.04 297.94 247.14 297.87 247.23 297.80 247.33 297.73 247.42 297.66 247.52 297.59 247.62 297.52 247.71 297.45 247.81 297.38 247.91 297.31 248.00 297.24 248.10 297.17 248.20 297.10 248.29 297.04 248.39 296.97 248.49 296.90 248.58 296.83 248.68 296.77 248.78 296.70 248.88 296.63 248.97 296.57 249.07 296.50 249.17 296.44 249.27 296.37 249.37 296.31 249.46 296.25 249.56 296.18 249.66 296.12 249.76 296.06 249.86 296.00 249.96 295.94 250.05 295.88 250.15 295.82 250.25 295.76 250.35 295.70 250.45 295.64 250.55 295.59 250.65 295.53 250.75 295.47 250.85 295.42 250.95 295.36 251.05 295.31 251.15 295.26 251.24 295.21 251.34 295.16 251.44 295.11 251.54 295.06 251.64 295.01 251.74 294.96 251.85 294.92 251.95 294.87 252.05 294.83 252.15 294.78 252.25 294.74 252.35 294.70 252.45 294.66 252.55 294.62 252.65 294.58 252.75 294.54 252.85 294.50 252.95 294.47 253.06 294.43 253.16 294.40 253.26 294.37 253.36 294.34 253.46 294.31 253.56 294.28 253.67 294.25 253.77 294.22 253.87 294.20 253.97 294.17 254.07 294.15 254.18 294.13 254.28 294.11 254.38 294.09 254.48 294.07 254.59 294.05 254.69 294.04 254.79 294.02 254.89 294.01 255.00 294.00 255.10 293.99 255.20 293.98 255.31 293.97 255.41 293.96 255.51 293.96 255.62 293.95 255.72 293.95 255.82 293.95 255.93 293.95 256.03 293.95 256.13 293.95 256.24 293.96 256.34 293.96 256.45 293.97 256.55 293.98 256.65 293.99 256.76 294.00 256.86 294.01 256.97 294.03 257.07 294.04 257.18 294.06 257.28 294.08 257.38 294.10 257.49 294.12 257.59 294.14 257.70 294.17 257.80 294.19 257.91 294.22 258.01 294.25 258.12 294.28 258.22 294.31 258.33 294.34 258.43 294.38 258.54 294.41 258.64 294.45 258.75 294.49 258.85 294.53 258.96 294.57 259.07 294.61 259.17 294.66 259.28 294.71 259.38 294.75 259.49 294.80 259.59 294.85ZM293.08 324.71 293.17 324.68 293.27 324.64 293.37 324.60 293.47 324.56 293.57 324.52 293.66 324.48 293.76 324.44 293.86 324.39 293.95 324.35 294.05 324.30 294.15 324.26 294.25 324.21 294.34 324.16 294.44 324.11 294.54 324.06 294.63 324.01 294.73 323.96 294.83 323.91 294.93 323.85 295.02 323.80 295.12 323.74 295.22 323.69 295.31 323.63 295.41 323.57 295.51 323.51 295.60 323.46 295.70 323.40 295.80 323.34 295.89 323.27 295.99 323.21 296.09 323.15 296.18 323.09 296.28 323.02 296.38 322.96 296.47 322.90 296.57 322.83 296.67 322.76 296.76 322.70 296.86 322.63 296.96 322.56 297.05 322.50 297.15 322.43 297.25 322.36 297.34 322.29 297.44 322.22 297.54 322.15 297.64 322.08 297.73 322.01 297.83 321.94 297.93 321.87 298.02 321.80 298.12 321.72 298.22 321.65 298.32 321.58 298.41 321.51 298.51 321.44 298.61 321.36 298.71 321.29 298.80 321.22 298.90 321.14 299.00 321.07 299.10 321.00 299.19 320.92 299.29 320.85 299.39 320.77 299.49 320.70 299.59 320.63 299.68 320.55 299.78 320.48 299.88 320.41 299.98 320.33 300.08 320.26 300.18 320.19 300.27 320.11 300.37 320.04 300.47 319.97 300.57 319.89 300.67 319.82 300.77 319.75 300.87 319.68 300.97 319.61 301.07 319.53 301.17 319.46 301.27 319.39 301.37 319.32 301.47 319.25 301.57 319.18 301.67 319.11 301.76 319.04 301.87 318.98 301.97 318.91 302.07 318.84 302.17 318.77 302.27 318.71 302.37 318.64 302.47 318.58 302.57 318.51 302.67 318.45 302.77 318.38 302.87 318.32 302.97 318.26 303.07 318.20 303.17 318.13 303.28 318.07 303.38 318.01 303.48 317.96 303.58 317.90 303.68 317.84 303.78 317.78 303.89 317.73 303.99 317.67 304.09 317.62 304.19 317.56 304.29 317.51 304.40 317.46 304.50 317.41 304.60 317.36 304.70 317.31 304.81 317.26 304.91 317.21 305.01 317.17 305.12 317.12 305.22 317.08 305.32 317.03 305.43 316.99 305.53 316.95 305.63 316.91 305.74 316.87 305.84 316.83 305.94 316.79 306.05 316.76 306.15 316.72 306.26 316.69 306.36 316.65 306.46 316.62 306.57 316.59 306.67 316.56 306.78 316.53 306.88 316.51 306.99 316.48 307.09 316.46 307.20 316.43 307.30 316.41 307.41 316.39 307.51 316.37 307.62 316.35 307.72 316.33 307.83 316.32 307.93 316.30 308.04 316.29 308.14 316.28 308.25 316.27 308.35 316.26 308.46 316.25 308.57 316.24 308.67 316.24 308.78 316.23 308.88 316.23 308.99 316.23 309.10 316.23 309.20 316.23 309.31 316.23 309.41 316.24 309.52 316.24 309.63 316.25 309.73 316.26 309.84 316.27 309.95 316.28 310.05 316.29 310.16 316.30 310.27 316.32 310.38 316.34 310.48 316.35 310.59 316.37 310.70 316.39 310.80 316.42 310.91 316.44 311.02 316.47 311.13 316.49 311.23 316.52 311.34 316.55 311.45 316.58 311.56 316.62 311.66 316.65 311.77 316.69 311.88 316.72 311.99 316.76 312.10 316.80 312.20 316.84 312.31 316.89 312.42 316.93 312.53 316.98 312.64 317.03 312.75 317.08 312.85 317.13 312.96 317.18 313.07 317.23ZM347.07 346.69 347.17 346.65 347.27 346.61 347.37 346.57 347.47 346.53 347.57 346.49 347.67 346.44 347.77 346.40 347.87 346.35 347.97 346.31 348.07 346.26 348.17 346.21 348.27 346.16 348.37 346.11 348.47 346.06 348.57 346.01 348.67 345.96 348.77 345.91 348.87 345.85 348.97 345.80 349.07 345.74 349.17 345.69 349.27 345.63 349.37 345.57 349.47 345.51 349.57 345.46 349.66 345.40 349.76 345.34 349.86 345.27 349.96 345.21 350.06 345.15 350.16 345.09 350.26 345.03 350.36 344.96 350.46 344.90 350.56 344.83 350.66 344.77 350.76 344.70 350.86 344.64 350.96 344.57 351.06 344.50 351.15 344.43 351.25 344.37 351.35 344.30 351.45 344.23 351.55 344.16 351.65 344.09 351.75 344.02 351.85 343.95 351.95 343.88 352.05 343.81 352.15 343.74 352.25 343.67 352.35 343.60 352.45 343.53 352.55 343.46 352.65 343.39 352.75 343.32 352.85 343.25 352.95 343.18 353.05 343.11 353.15 343.04 353.25 342.96 353.35 342.89 353.45 342.82 353.55 342.75 353.65 342.68 353.75 342.61 353.85 342.54 353.95 342.47 354.06 342.40 354.16 342.33 354.26 342.26 354.36 342.19 354.46 342.12 354.56 342.05 354.66 341.98 354.76 341.92 354.86 341.85 354.97 341.78 355.07 341.71 355.17 341.65 355.27 341.58 355.37 341.51 355.48 341.45 355.58 341.38 355.68 341.32 355.78 341.25 355.88 341.19 355.99 341.12 356.09 341.06 356.19 341.00 356.29 340.94 356.40 340.87 356.50 340.81 356.60 340.75 356.71 340.69 356.81 340.63 356.91 340.58 357.02 340.52 357.12 340.46 357.22 340.40 357.33 340.35 357.43 340.29 357.53 340.24 357.64 340.18 357.74 340.13 357.85 340.08 357.95 340.03 358.05 339.98 358.16 339.93 358.26 339.88 358.37 339.83 358.47 339.78 358.58 339.74 358.68 339.69 358.79 339.65 358.89 339.60 359.00 339.56 359.10 339.52 359.21 339.48 359.31 339.44 359.42 339.40 359.52 339.36 359.63 339.32 359.74 339.28 359.84 339.25 359.95 339.21 360.05 339.18 360.16 339.15 360.27 339.12 360.37 339.09 360.48 339.06 360.59 339.03 360.69 339.00 360.80 338.98 360.91 338.95 361.01 338.93 361.12 338.91 361.23 338.89 361.33 338.87 361.44 338.85 361.55 338.83 361.66 338.81 361.76 338.80 361.87 338.78 361.98 338.77 362.09 338.76 362.19 338.75 362.30 338.74 362.41 338.73 362.52 338.72 362.63 338.72 362.73 338.71 362.84 338.71 362.95 338.71 363.06 338.71 363.17 338.71 363.28 338.71 363.38 338.71 363.49 338.72 363.60 338.72 363.71 338.73 363.82 338.74 363.93 338.75 364.04 338.76 364.15 338.77 364.26 338.79 364.37 338.80 364.47 338.82 364.58 338.84 364.69 338.85 364.80 338.87 364.91 338.90 365.02 338.92 365.13 338.94 365.24 338.97 365.35 339.00 365.46 339.02 365.57 339.05 365.68 339.09 365.79 339.12 365.90 339.15 366.01 339.19 366.12 339.22 366.23 339.26 366.34 339.30 366.45 339.34ZM403.52 369.03 403.63 368.99 403.73 368.95 403.83 368.91 403.93 368.86 404.04 368.82 404.14 368.78 404.24 368.73 404.34 368.69 404.45 368.64 404.55 368.59 404.65 368.54 404.75 368.49 404.86 368.44 404.96 368.39 405.06 368.34 405.16 368.29 405.26 368.23 405.37 368.18 405.47 368.13 405.57 368.07 405.67 368.02 405.77 367.96 405.87 367.90 405.98 367.85 406.08 367.79 406.18 367.73 406.28 367.67 406.38 367.61 406.49 367.55 406.59 367.49 406.69 367.43 406.79 367.37 406.89 367.31 407.00 367.24 407.10 367.18 407.20 367.12 407.30 367.06 407.41 366.99 407.51 366.93 407.61 366.86 407.71 366.80 407.81 366.73 407.92 366.67 408.02 366.60 408.12 366.54 408.22 366.47 408.33 366.41 408.43 366.34 408.53 366.27 408.64 366.21 408.74 366.14 408.84 366.07 408.94 366.01 409.05 365.94 409.15 365.87 409.25 365.81 409.36 365.74 409.46 365.68 409.56 365.61 409.67 365.54 409.77 365.48 409.87 365.41 409.98 365.34 410.08 365.28 410.18 365.21 410.29 365.15 410.39 365.08 410.50 365.01 410.60 364.95 410.70 364.88 410.81 364.82 410.91 364.76 411.02 364.69 411.12 364.63 411.23 364.56 411.33 364.50 411.44 364.44 411.54 364.38 411.65 364.31 411.75 364.25 411.86 364.19 411.96 364.13 412.07 364.07 412.17 364.01 412.28 363.95 412.38 363.89 412.49 363.84 412.59 363.78 412.70 363.72 412.81 363.67 412.91 363.61 413.02 363.56 413.12 363.50 413.23 363.45 413.34 363.39 413.44 363.34 413.55 363.29 413.66 363.24 413.76 363.19 413.87 363.14 413.98 363.09 414.09 363.04 414.19 363.00 414.30 362.95 414.41 362.90 414.52 362.86 414.62 362.82 414.73 362.77 414.84 362.73 414.95 362.69 415.05 362.65 415.16 362.61 415.27 362.57 415.38 362.54 415.49 362.50 415.60 362.47 415.70 362.43 415.81 362.40 415.92 362.37 416.03 362.33 416.14 362.30 416.25 362.28 416.36 362.25 416.47 362.22 416.58 362.19 416.69 362.17 416.79 362.15 416.90 362.12 417.01 362.10 417.12 362.08 417.23 362.06 417.34 362.05 417.45 362.03 417.56 362.01 417.67 362.00 417.78 361.99 417.89 361.97 418.00 361.96 418.11 361.96 418.23 361.95 418.34 361.94 418.45 361.94 418.56 361.93 418.67 361.93 418.78 361.93 418.89 361.93 419.00 361.93 419.11 361.93 419.22 361.93 419.34 361.94 419.45 361.94 419.56 361.95 419.67 361.96 419.78 361.97 419.89 361.98 420.00 362.00 420.12 362.01 420.23 362.03 420.34 362.04 420.45 362.06 420.56 362.08 420.68 362.10 420.79 362.13 420.90 362.15 421.01 362.18 421.13 362.20 421.24 362.23ZM461.26 394.18 461.37 394.14 461.47 394.10 461.58 394.06 461.68 394.01 461.79 393.97 461.89 393.92 462.00 393.88 462.10 393.83 462.21 393.79 462.31 393.74 462.41 393.69 462.52 393.64 462.62 393.59 462.73 393.54 462.83 393.49 462.94 393.44 463.04 393.39 463.15 393.34 463.25 393.29 463.36 393.24 463.46 393.18 463.56 393.13 463.67 393.08 463.77 393.02 463.88 392.97 463.98 392.91 464.09 392.86 464.19 392.80 464.30 392.75 464.40 392.69 464.51 392.64 464.61 392.58 464.72 392.52 464.82 392.47 464.93 392.41 465.03 392.35 465.14 392.29 465.24 392.24 465.35 392.18 465.45 392.12 465.56 392.07 465.66 392.01 465.77 391.95 465.87 391.89 465.98 391.84 466.09 391.78 466.19 391.72 466.30 391.66 466.40 391.61 466.51 391.55 466.61 391.49 466.72 391.44 466.83 391.38 466.93 391.33 467.04 391.27 467.15 391.21 467.25 391.16 467.36 391.10 467.47 391.05 467.57 390.99 467.68 390.94 467.79 390.89 467.89 390.83 468.00 390.78 468.11 390.73 468.21 390.67 468.32 390.62 468.43 390.57 468.54 390.52 468.64 390.47 468.75 390.42 468.86 390.37 468.97 390.32 469.07 390.27 469.18 390.22 469.29 390.18 469.40 390.13 469.51 390.09 469.61 390.04 469.72 390.00 469.83 389.95 469.94 389.91 470.05 389.87 470.16 389.82 470.27 389.78 470.38 389.74 470.48 389.70 470.59 389.66 470.70 389.63 470.81 389.59 470.92 389.55 471.03 389.52 471.14 389.48 471.25 389.45 471.36 389.42 471.47 389.39 471.58 389.35 471.69 389.32 471.80 389.30 471.91 389.27 472.02 389.24 472.13 389.21 472.24 389.19 472.35 389.17 472.47 389.14 472.58 389.12 472.69 389.10 472.80 389.08 472.91 389.06 473.02 389.04 473.13 389.03 473.24 389.01 473.36 389.00 473.47 388.99 473.58 388.97 473.69 388.96 473.80 388.95 473.92 388.95 474.03 388.94 474.14 388.93 474.25 388.93 474.36 388.92 474.48 388.92 474.59 388.92 474.70 388.92ZM518.88 423.84 518.99 423.80 519.09 423.75 519.20 423.71 519.31 423.66 519.42 423.62 519.52 423.57 519.63 423.52 519.74 423.47 519.85 423.42 519.95 423.37 520.06 423.32 520.17 423.27 520.28 423.21 520.38 423.16 520.49 423.11 520.60 423.05 520.70 423.00 520.81 422.94 520.92 422.88 521.03 422.83 521.13 422.77 521.24 422.71 521.35 422.65 521.46 422.59 521.56 422.53 521.67 422.47 521.78 422.41 521.88 422.35 521.99 422.29 522.10 422.23 522.21 422.16 522.31 422.10 522.42 422.04 522.53 421.97 522.64 421.91 522.74 421.85 522.85 421.78 522.96 421.72 523.07 421.65 523.17 421.59 523.28 421.52 523.39 421.46 523.50 421.39 523.60 421.32 523.71 421.26 523.82 421.19 523.93 421.12 524.04 421.06 524.14 420.99 524.25 420.93 524.36 420.86 524.47 420.79 524.58 420.73 524.68 420.66 524.79 420.59 524.90 420.53 525.01 420.46 525.12 420.39 525.23 420.33 525.34 420.26 525.45 420.20 525.55 420.13 525.66 420.07 525.77 420.00 525.88 419.94 525.99 419.87 526.10 419.81 526.21 419.74 526.32 419.68 526.43 419.62 526.54 419.55 526.65 419.49 526.76 419.43 526.87 419.37 526.98 419.30 527.09 419.24 527.20 419.18 527.31 419.12 527.42 419.06 527.53 419.01 527.64 418.95 527.75 418.89 527.86 418.83 527.97 418.78 528.08 418.72 528.20 418.66 528.31 418.61 528.42 418.55 528.53 418.50 528.64 418.45 528.75 418.40 528.86 418.35 528.98 418.30 529.09 418.25 529.20 418.20 529.31 418.15 529.42 418.10 529.54 418.05 529.65 418.01 529.76 417.96 529.87 417.92 529.99 417.88 530.10 417.84 530.21 417.79 530.32 417.75 530.44 417.72 530.55 417.68 530.66 417.64 530.78 417.60 530.89 417.57 531.00 417.53 531.12 417.50 531.23 417.47 531.35 417.44 531.46 417.41 531.57 417.38 531.69 417.35 531.80 417.33 531.92 417.30 532.03 417.28 532.14 417.25 532.26 417.23 532.37 417.21 532.49 417.19 532.60 417.17 532.72 417.16 532.83 417.14 532.95 417.13 533.06 417.12 533.18 417.10 533.29 417.09 533.41 417.08 533.52 417.08 533.64 417.07 533.76 417.06 533.87 417.06 533.99 417.06 534.10 417.06 534.22 417.06 534.33 417.06 534.45 417.06 534.57 417.07 534.68 417.07 534.80 417.08 534.92 417.09 535.03 417.10 535.15 417.11 535.27 417.12 535.38 417.14 535.50 417.15 535.62 417.17ZM577.36 450.21 577.47 450.17 577.58 450.12 577.69 450.07 577.80 450.02 577.91 449.97 578.03 449.92 578.14 449.87 578.25 449.82 578.36 449.76 578.47 449.71 578.58 449.65 578.69 449.60 578.80 449.54 578.91 449.48 579.02 449.42 579.13 449.36 579.24 449.30 579.35 449.24 579.46 449.18 579.57 449.11 579.68 449.05 579.79 448.98 579.90 448.92 580.01 448.85 580.12 448.78 580.23 448.72 580.34 448.65 580.45 448.58 580.56 448.51 580.67 448.44 580.78 448.36 580.89 448.29 581.00 448.22 581.11 448.15 581.22 448.07 581.33 448.00 581.44 447.92 581.55 447.85 581.66 447.77 581.77 447.69 581.88 447.62 581.99 447.54 582.10 447.46 582.21 447.38 582.32 447.30 582.43 447.23 582.54 447.15 582.65 447.07 582.76 446.99 582.87 446.91 582.98 446.83 583.09 446.74 583.20 446.66 583.31 446.58 583.42 446.50 583.53 446.42 583.64 446.34 583.75 446.25 583.86 446.17 583.97 446.09 584.08 446.01 584.19 445.93 584.30 445.84 584.42 445.76 584.53 445.68 584.64 445.60 584.75 445.51 584.86 445.43 584.97 445.35 585.08 445.27 585.19 445.18 585.31 445.10 585.42 445.02 585.53 444.94 585.64 444.86 585.75 444.78 585.87 444.70 585.98 444.61 586.09 444.53 586.20 444.45 586.31 444.37 586.43 444.29 586.54 444.22 586.65 444.14 586.76 444.06 586.88 443.98 586.99 443.90 587.10 443.83 587.22 443.75 587.33 443.67 587.44 443.60 587.56 443.52 587.67 443.45 587.78 443.37 587.90 443.30 588.01 443.23 588.12 443.16 588.24 443.08 588.35 443.01 588.47 442.94 588.58 442.87 588.69 442.81 588.81 442.74 588.92 442.67 589.04 442.61 589.15 442.54 589.27 442.48 589.38 442.41 589.50 442.35 589.61 442.29 589.73 442.23 589.84 442.17 589.96 442.11 590.07 442.05 590.19 441.99 590.31 441.93 590.42 441.88 590.54 441.82 590.65 441.77 590.77 441.72 590.89 441.67 591.00 441.62 591.12 441.57 591.23 441.52 591.35 441.47 591.47 441.43 591.58 441.38 591.70 441.34 591.82 441.30 591.94 441.26 592.05 441.22 592.17 441.18 592.29 441.14 592.40 441.10 592.52 441.07 592.64 441.04 592.76 441.00 592.87 440.97 592.99 440.94 593.11 440.91 593.23 440.89 593.35 440.86 593.46 440.84 593.58 440.81 593.70 440.79 593.82 440.77 593.94 440.75 594.06 440.74 594.17 440.72 594.29 440.71 594.41 440.69 594.53 440.68 594.65 440.67 594.77 440.66 594.89 440.66 595.01 440.65 595.13 440.65 595.25 440.65 595.37 440.64 595.48 440.65 595.60 440.65 595.72 440.65 595.84 440.66 595.96 440.66 596.08 440.67 596.20 440.68 596.32 440.69 596.44 440.71 596.56 440.72 596.68 440.74 596.80 440.76 596.92 440.78 597.04 440.80 597.17 440.82 597.29 440.85 597.41 440.87 597.53 440.90 597.65 440.93 597.77 440.96 597.89 440.99 598.01 441.03 598.13 441.07 598.25 441.10 598.37 441.14 598.49 441.18 598.62 441.23 598.74 441.27 598.86 441.32 598.98 441.37 599.10 441.42ZM639.29 473.23 639.40 473.18 639.51 473.14 639.63 473.09 639.74 473.04 639.85 472.99 639.96 472.93 640.08 472.88 640.19 472.83 640.30 472.77 640.41 472.72 640.53 472.66 640.64 472.61 640.75 472.55 640.87 472.49 640.98 472.43 641.09 472.37 641.20 472.31 641.32 472.25 641.43 472.19 641.54 472.13 641.65 472.07 641.76 472.01 641.88 471.94 641.99 471.88 642.10 471.81 642.21 471.75 642.33 471.68 642.44 471.62 642.55 471.55 642.66 471.49 642.78 471.42 642.89 471.35 643.00 471.28 643.11 471.21 643.23 471.15 643.34 471.08 643.45 471.01 643.57 470.94 643.68 470.87 643.79 470.80 643.90 470.73 644.02 470.66 644.13 470.59 644.24 470.52 644.36 470.45 644.47 470.38 644.58 470.31 644.70 470.23 644.81 470.16 644.92 470.09 645.04 470.02 645.15 469.95 645.26 469.88 645.38 469.81 645.49 469.74 645.60 469.67 645.72 469.60 645.83 469.53 645.94 469.46 646.06 469.39 646.17 469.32 646.29 469.25 646.40 469.18 646.52 469.11 646.63 469.04 646.74 468.97 646.86 468.90 646.97 468.83 647.09 468.77 647.20 468.70 647.32 468.63 647.43 468.57 647.55 468.50 647.66 468.43 647.78 468.37 647.89 468.30 648.01 468.24 648.12 468.18 648.24 468.11 648.36 468.05 648.47 467.99 648.59 467.93 648.70 467.86 648.82 467.80 648.94 467.74 649.05 467.69 649.17 467.63 649.29 467.57 649.40 467.51 649.52 467.46 649.64 467.40 649.75 467.35 649.87 467.29 649.99 467.24 650.10 467.19 650.22 467.14 650.34 467.08 650.46 467.04 650.57 466.99 650.69 466.94 650.81 466.89 650.93 466.84 651.04 466.80 651.16 466.76 651.28 466.71 651.40 466.67 651.52 466.63 651.64 466.59 651.75 466.55 651.87 466.51 651.99 466.47 652.11 466.44 652.23 466.40 652.35 466.37 652.47 466.34 652.59 466.30 652.71 466.27 652.83 466.24 652.94 466.22 653.06 466.19 653.18 466.16 653.30 466.14 653.42 466.12 653.54 466.09 653.66 466.07 653.78 466.05 653.90 466.04 654.02 466.02 654.14 466.00 654.26 465.99 654.39 465.98 654.51 465.96 654.63 465.95 654.75 465.94 654.87 465.94 654.99 465.93 655.11 465.93 655.23 465.92 655.35 465.92 655.47 465.92 655.60 465.92 655.72 465.92 655.84 465.93 655.96 465.93 656.08 465.94 656.20 465.95 656.33 465.96 656.45 465.97 656.57 465.98 656.69 465.99 656.81 466.01ZM702.37 501.16 702.48 501.11 702.60 501.06 702.71 501.01 702.83 500.96 702.94 500.91 703.06 500.85 703.17 500.80 703.29 500.74 703.40 500.69 703.52 500.63 703.64 500.58 703.75 500.52 703.87 500.46 703.98 500.40 704.10 500.34 704.21 500.28 704.33 500.22 704.44 500.16 704.56 500.10 704.67 500.03 704.79 499.97 704.90 499.91 705.02 499.84 705.13 499.78 705.25 499.71 705.36 499.65 705.48 499.58 705.59 499.52 705.71 499.45 705.82 499.38 705.94 499.32 706.05 499.25 706.17 499.18 706.28 499.11 706.40 499.04 706.52 498.97 706.63 498.90 706.75 498.83 706.86 498.76 706.98 498.70 707.09 498.63 707.21 498.55 707.33 498.48 707.44 498.41 707.56 498.34 707.67 498.27 707.79 498.20 707.91 498.13 708.02 498.06 708.14 497.99 708.26 497.92 708.37 497.85 708.49 497.78 708.61 497.71 708.72 497.64 708.84 497.57 708.96 497.50 709.07 497.43 709.19 497.36 709.31 497.29 709.42 497.22 709.54 497.15 709.66 497.08 709.78 497.02 709.89 496.95 710.01 496.88 710.13 496.81 710.25 496.75 710.37 496.68 710.48 496.61 710.60 496.55 710.72 496.48 710.84 496.42 710.96 496.35 711.08 496.29 711.19 496.23 711.31 496.16 711.43 496.10 711.55 496.04 711.67 495.98 711.79 495.92 711.91 495.86 712.03 495.80 712.15 495.74 712.27 495.68 712.39 495.63 712.51 495.57 712.63 495.51 712.75 495.46 712.87 495.41 712.99 495.35 713.11 495.30 713.23 495.25 713.35 495.20 713.47 495.15 713.59 495.10 713.71 495.05 713.83 495.00 713.95 494.96 714.07 494.91 714.19 494.87 714.31 494.82 714.44 494.78 714.56 494.74 714.68 494.70 714.80 494.66 714.92 494.62 715.04 494.59 715.17 494.55 715.29 494.51 715.41 494.48 715.53 494.45 715.65 494.42 715.78 494.39 715.90 494.36 716.02 494.33 716.14 494.30 716.27 494.28 716.39 494.25 716.51 494.23 716.63 494.21 716.76 494.19 716.88 494.17 717.00 494.15 717.13 494.13 717.25 494.12 717.37 494.10 717.50 494.09 717.62 494.08 717.75 494.07 717.87 494.06 717.99 494.05 718.12 494.04 718.24 494.04 718.36 494.04 718.49 494.03 718.61 494.03 718.74 494.03 718.86 494.04 718.99 494.04 719.11 494.05 719.24 494.05ZM767.06 530.36 767.18 530.31 767.30 530.26 767.42 530.20 767.53 530.15 767.65 530.10 767.77 530.04 767.89 529.99 768.00 529.93 768.12 529.88 768.24 529.82 768.36 529.76 768.48 529.71 768.59 529.65 768.71 529.59 768.83 529.53 768.95 529.47 769.06 529.41 769.18 529.34 769.30 529.28 769.42 529.22 769.54 529.16 769.65 529.09 769.77 529.03 769.89 528.97 770.01 528.90 770.13 528.84 770.24 528.77 770.36 528.71 770.48 528.64 770.60 528.57 770.72 528.51 770.84 528.44 770.95 528.37 771.07 528.31 771.19 528.24 771.31 528.17 771.43 528.10 771.55 528.04 771.67 527.97 771.79 527.90 771.91 527.83 772.02 527.76 772.14 527.70 772.26 527.63 772.38 527.56 772.50 527.49 772.62 527.42 772.74 527.36 772.86 527.29 772.98 527.22 773.10 527.15 773.22 527.08 773.34 527.02 773.46 526.95 773.58 526.88 773.70 526.82 773.82 526.75 773.94 526.68 774.06 526.62 774.18 526.55 774.30 526.49 774.42 526.42 774.54 526.36 774.67 526.30 774.79 526.23 774.91 526.17 775.03 526.11 775.15 526.04 775.27 525.98 775.39 525.92 775.52 525.86 775.64 525.80 775.76 525.74 775.88 525.68 776.00 525.62 776.13 525.57 776.25 525.51 776.37 525.45 776.49 525.40 776.61 525.34 776.74 525.29 776.86 525.24 776.98 525.18 777.11 525.13 777.23 525.08 777.35 525.03 777.48 524.98 777.60 524.93 777.72 524.89 777.85 524.84 777.97 524.79 778.09 524.75 778.22 524.70 778.34 524.66 778.47 524.62 778.59 524.58 778.71 524.54 778.84 524.50 778.96 524.46 779.09 524.43 779.21 524.39 779.34 524.36 779.46 524.32 779.59 524.29 779.71 524.26 779.84 524.23 779.96 524.20 780.09 524.17 780.21 524.15 780.34 524.12 780.46 524.10 780.59 524.07 780.71 524.05 780.84 524.03 780.97 524.01 781.09 524.00 781.22 523.98 781.34 523.96 781.47 523.95 781.60 523.94 781.72 523.93 781.85 523.92 781.98 523.91 782.10 523.90ZM137.38 251.91 137.47 251.89 137.56 251.87 137.66 251.85 137.75 251.83 137.84 251.81 137.93 251.79 138.02 251.76 138.11 251.74 138.20 251.71 138.29 251.69 138.38 251.66 138.47 251.63 138.56 251.60 138.65 251.57 138.74 251.54 138.83 251.51 138.92 251.47 139.01 251.44 139.10 251.41 139.19 251.37 139.28 251.33 139.37 251.30 139.46 251.26 139.54 251.22 139.63 251.18 139.72 251.14 139.81 251.09 139.90 251.05 139.99 251.01 140.08 250.96 140.17 250.92 140.26 250.87 140.35 250.83 140.44 250.78 140.52 250.73 140.61 250.69 140.70 250.64 140.79 250.59 140.88 250.54 140.97 250.49 141.06 250.44 141.15 250.38 141.24 250.33 141.32 250.28 141.41 250.23 141.50 250.17 141.59 250.12 141.68 250.06 141.77 250.01 141.86 249.95 141.95 249.89 142.04 249.84 142.12 249.78 142.21 249.72 142.30 249.67 142.39 249.61 142.48 249.55 142.57 249.49 142.66 249.43 142.75 249.37 142.84 249.31 142.93 249.25 143.01 249.19 143.10 249.13 143.19 249.07 143.28 249.01 143.37 248.95 143.46 248.89 143.55 248.83 143.64 248.77 143.73 248.71 143.82 248.65 143.91 248.59 144.00 248.52 144.09 248.46 144.18 248.40 144.27 248.34 144.36 248.28 144.45 248.22 144.54 248.16 144.63 248.10 144.72 248.04 144.81 247.97 144.90 247.91 144.99 247.85 145.08 247.79 145.17 247.73 145.26 247.67 145.36 247.61 145.45 247.55 145.54 247.50 145.63 247.44 145.72 247.38 145.81 247.32 145.90 247.26 145.99 247.20 146.09 247.15 146.18 247.09 146.27 247.03 146.36 246.98 146.45 246.92 146.55 246.87 146.64 246.81 146.73 246.76 146.82 246.70 146.91 246.65 147.01 246.60 147.10 246.55 147.19 246.49 147.28 246.44 147.38 246.39 147.47 246.34 147.56 246.29 147.66 246.24 147.75 246.20 147.84 246.15 147.94 246.10 148.03 246.06 148.12 246.01 148.22 245.97 148.31 245.92 148.41 245.88 148.50 245.84 148.59 245.80 148.69 245.76 148.78 245.72 148.88 245.68 148.97 245.64 149.07 245.60 149.16 245.56 149.25 245.53 149.35 245.49 149.44 245.46 149.54 245.43 149.63 245.40 149.73 245.36 149.82 245.33 149.92 245.30 150.02 245.28 150.11 245.25 150.21 245.22 150.30 245.20 150.40 245.17 150.49 245.15 150.59 245.13 150.69 245.11 150.78 245.09 150.88 245.07 150.97 245.05 151.07 245.03 151.17 245.02 151.26 245.01 151.36 244.99 151.46 244.99 151.55 244.98 151.65 244.97 151.75 244.97 151.84 244.97 151.94 244.97 152.04 244.97 152.14 244.98 152.23 244.98 152.33 244.99 152.43 245.00 152.53 245.02 152.62 245.03 152.72 245.05 152.82 245.07 152.92 245.09 153.02 245.12 153.11 245.14 153.21 245.17 153.31 245.20 153.41 245.23 153.51 245.26 153.60 245.30 153.70 245.34 153.80 245.38 153.90 245.42 154.00 245.46 154.10 245.51 154.20 245.55 154.29 245.60 154.39 245.65 154.49 245.71 154.59 245.76Z"/>
</g>
<g stroke="#000" stroke-width="2" fill="none">
<line x1="90.50" y1="148.20" x2="440.50" y2="148.20"/>
<line x1="139.00" y1="269.00" x2="241.40" y2="269.00"/>
<line x1="253.30" y1="281.70" x2="253.30" y2="349.00"/>
<line x1="311.00" y1="295.80" x2="311.00" y2="516.50"/>
<line x1="383.90" y1="326.50" x2="383.90" y2="397.00"/>
<line x1="491.00" y1="376.50" x2="491.00" y2="478.50"/>
<line x1="593.00" y1="440.40" x2="593.00" y2="478.00"/>
<line x1="686.75" y1="443.40" x2="686.75" y2="538.50"/>
</g>
<g fill="#1d2349">
<circle cx="68.15" cy="146.00" r="22.90"/>
<circle cx="117.70" cy="268.00" r="22.90"/>
<circle cx="251.20" cy="370.60" r="22.90"/>
<circle cx="383.70" cy="418.60" r="22.90"/>
<circle cx="309.90" cy="538.40" r="23.00"/>
<circle cx="489.60" cy="500.30" r="23.00"/>
<circle cx="591.50" cy="500.00" r="23.00"/>
<circle cx="685.20" cy="564.40" r="26.60"/>
</g>
<g fill="none" stroke="#f2f2f4" stroke-width="1.5" stroke-linecap="round" stroke-linejoin="round">
<ellipse cx="64.6" cy="142.3" rx="10.6" ry="4.6"/>
<path d="M54 142.4V149.4A14.2 5.6 0 0 0 82.4 149.6V142.3"/>
<path d="M54.3 145.3Q66 151.2 82.3 145.6"/>
<path d="M61.2 145.2V142.9A3.4 2.4 0 0 1 68 142.9V145.2M61.8 145.7H74.5"/>
<path d="M56.5 151.4H79.5" stroke-width="1.1" stroke-dasharray="0.9 1.5" stroke-linecap="butt"/>
</g>
<g fill="#f4f4f6">
<path d="M112.4 250.9L128.7 253L125.8 266.6L111.3 264.8Z"/>
<path d="M114.2 266.4L121 267.4Q119.7 269 119.6 271.2L119.3 281Q119.1 286.6 115.8 286.6Q112.6 286.6 112.8 282.6L113.4 276.2Q113.9 272.2 115.4 270.1Q115.3 267.9 114.2 266.4Z"/>
</g>
<g stroke="#1d2349" fill="none">
<path d="M112.2 260.2L125.6 261.2M112 263.1L125.2 264.1" stroke-width="0.55"/>
</g>
<circle cx="115.4" cy="282.5" r="1" fill="#1d2349"/>
<g fill="none" stroke="#e8e8ec" stroke-width="1.5" stroke-linecap="round" stroke-linejoin="round">
<rect x="240.2" y="357.3" width="8.1" height="26.3" rx="1.5"/>
<circle cx="244.2" cy="379.5" r="1.7"/>
<path d="M249 359.6L252 358.2Q253.5 357.6 254.6 358.4L258.2 361.6Q259 362.6 258.5 363.6L249.2 379.5"/>
<path d="M258.6 365.6L261 364.9Q262.3 364.7 263 365.6L265.2 369.7Q265.6 370.9 264.6 371.5L249.2 381.2"/>
<path d="M263.6 375.4L265.5 375.4Q266.9 375.4 266.9 376.8L266.9 382.3Q266.9 383.6 265.5 383.6L248.3 383.6"/>
</g>
<path d="M381.6 411.1L392.7 401.1C397.6 404 402.4 409 403.3 415L403.4 423.2L392.7 430L381.6 414.1Z" fill="#fbfbfc"/>
<path d="M364.2 422.7L392.4 401.3L381.6 411.3L381.2 413.8Z" fill="#c4c5ca"/>
<g fill="none" stroke="#ececf0" stroke-width="1.5" stroke-linecap="round" stroke-linejoin="round">
<path d="M295.9 548.5H325M296.5 548.2L311.8 521.2"/>
<path d="M302.3 540.2A10 10 0 0 1 306.5 548.5"/>
<path d="M312.3 527.7A25.5 25.5 0 0 1 321 543.8"/>
</g>
<g fill="#ececf0">
<path d="M310.4 526.1L315.6 526L312 530.9Z"/>
<path d="M321.6 545.9L318 542.6L324.6 542.8Z"/>
</g>
<g fill="none" stroke="#eeeef2" stroke-width="1.5" stroke-linecap="round" stroke-linejoin="round">
<path d="M485 489.6V511.3M488 489.6V511.3M491 489.6V511.3M494 489.6V511.3"/>
<path d="M468.6 500.3H481.6M478.3 496.8L481.8 500.3L478.3 503.8"/>
<path d="M510 500.3H497.4M500.4 496.8L496.9 500.3L500.4 503.8"/>
</g>
<g fill="none" stroke="#eeeef2" stroke-width="1.5" stroke-linecap="round" stroke-linejoin="round">
<path d="M591.3 486.2C588.5 490.8 582 497.5 582 504.4A9.4 9.4 0 0 0 600.8 504.4C600.8 497.5 594.2 490.8 591.3 486.2Z"/>
<path d="M585.2 503.6A6.4 6.4 0 0 0 590.8 510.8"/>
</g>
<polyline points="666.6,561 685.4,546.6 703.6,561" fill="none" stroke="#fafafc" stroke-width="3"/>
<path d="M670.1 561.8L685.4 549.9L700.3 561.8V580.7H670.1Z" fill="#fafafc"/>

<g fill="#1e1e1e" font-family="'Liberation Sans', sans-serif" font-size="16.2" stroke="#1e1e1e" stroke-width="0.12">
<text x="45.75" y="193.75" textLength="129.75" lengthAdjust="spacingAndGlyphs">Available in cut</text>
<text x="45.75" y="213.50" textLength="112.25" lengthAdjust="spacingAndGlyphs">lengths of up</text>
<text x="45.75" y="234.25" textLength="50.25" lengthAdjust="spacingAndGlyphs">to 6m</text>
<text x="97.00" y="310.55" textLength="106.75" lengthAdjust="spacingAndGlyphs">PVC Plastisol</text>
<text x="97.00" y="331.25" textLength="64.75" lengthAdjust="spacingAndGlyphs">Coating</text>
<text x="225.75" y="416.00" textLength="81.00" lengthAdjust="spacingAndGlyphs">11 Colours</text>
<text x="225.75" y="436.90" textLength="76.65" lengthAdjust="spacingAndGlyphs">Available</text>
<text x="357.00" y="461.90" textLength="79.75" lengthAdjust="spacingAndGlyphs">Matching</text>
<text x="357.00" y="481.90" textLength="78.50" lengthAdjust="spacingAndGlyphs">Flashings</text>
<text x="356.40" y="502.50" textLength="76.60" lengthAdjust="spacingAndGlyphs">Available</text>
<text x="283.90" y="586.60" textLength="132.20" lengthAdjust="spacingAndGlyphs">Minimum Pitch</text>
<text x="282.90" y="607.20" textLength="91.00" lengthAdjust="spacingAndGlyphs">10 degrees</text>
<text x="463.00" y="547.50" textLength="61.25" lengthAdjust="spacingAndGlyphs">0.7mm</text>
<text x="463.25" y="568.10" textLength="81.65" lengthAdjust="spacingAndGlyphs">Thickness</text>
<text x="565.75" y="546.00" textLength="72.25" lengthAdjust="spacingAndGlyphs">Dripstop</text>
<text x="564.50" y="566.90" textLength="77.25" lengthAdjust="spacingAndGlyphs">Available</text>
<text x="659.25" y="614.20" textLength="106.65" lengthAdjust="spacingAndGlyphs">Roof Or Side</text>
<text x="658.90" y="634.00" textLength="76.90" lengthAdjust="spacingAndGlyphs">Cladding</text>
<text x="658.50" y="655.10" textLength="97.60" lengthAdjust="spacingAndGlyphs">Application</text>
</g>
</svg>
</body></html>
